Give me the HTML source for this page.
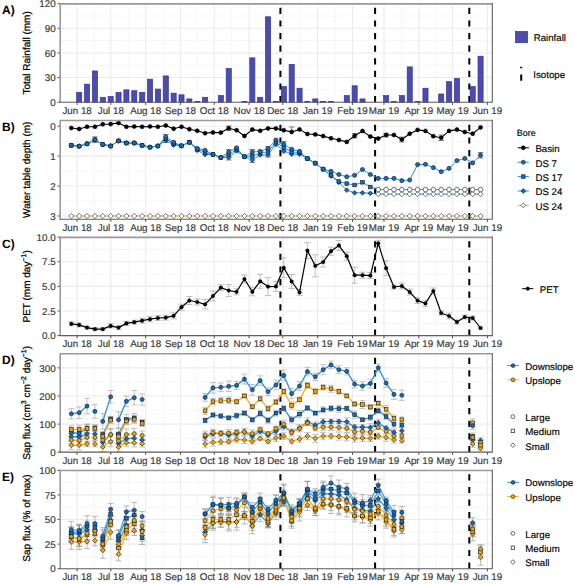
<!DOCTYPE html>
<html><head><meta charset="utf-8"><title>chart</title>
<style>html,body{margin:0;padding:0;background:#fff;overflow:hidden;} svg{display:block;} .lg{stroke:#000;stroke-width:0.15px;}</style>
</head><body>
<svg width="575" height="584" viewBox="0 0 575 584" text-rendering="geometricPrecision" font-family='"Liberation Sans", sans-serif'>
<rect width="575" height="584" fill="#fff"/>
<line x1="93.96" y1="3.65" x2="93.96" y2="102.2" stroke="#f3f3f3" stroke-width="0.8"/>
<line x1="128.25" y1="3.65" x2="128.25" y2="102.2" stroke="#f3f3f3" stroke-width="0.8"/>
<line x1="163.09" y1="3.65" x2="163.09" y2="102.2" stroke="#f3f3f3" stroke-width="0.8"/>
<line x1="197.38" y1="3.65" x2="197.38" y2="102.2" stroke="#f3f3f3" stroke-width="0.8"/>
<line x1="231.66" y1="3.65" x2="231.66" y2="102.2" stroke="#f3f3f3" stroke-width="0.8"/>
<line x1="265.95" y1="3.65" x2="265.95" y2="102.2" stroke="#f3f3f3" stroke-width="0.8"/>
<line x1="300.23" y1="3.65" x2="300.23" y2="102.2" stroke="#f3f3f3" stroke-width="0.8"/>
<line x1="335.08" y1="3.65" x2="335.08" y2="102.2" stroke="#f3f3f3" stroke-width="0.8"/>
<line x1="368.24" y1="3.65" x2="368.24" y2="102.2" stroke="#f3f3f3" stroke-width="0.8"/>
<line x1="401.4" y1="3.65" x2="401.4" y2="102.2" stroke="#f3f3f3" stroke-width="0.8"/>
<line x1="435.69" y1="3.65" x2="435.69" y2="102.2" stroke="#f3f3f3" stroke-width="0.8"/>
<line x1="469.97" y1="3.65" x2="469.97" y2="102.2" stroke="#f3f3f3" stroke-width="0.8"/>
<line x1="60.3" y1="89.88" x2="492.3" y2="89.88" stroke="#f3f3f3" stroke-width="0.8"/>
<line x1="60.3" y1="65.24" x2="492.3" y2="65.24" stroke="#f3f3f3" stroke-width="0.8"/>
<line x1="60.3" y1="40.61" x2="492.3" y2="40.61" stroke="#f3f3f3" stroke-width="0.8"/>
<line x1="60.3" y1="15.97" x2="492.3" y2="15.97" stroke="#f3f3f3" stroke-width="0.8"/>
<line x1="77.1" y1="3.65" x2="77.1" y2="102.2" stroke="#ebebeb" stroke-width="1.1"/>
<line x1="110.82" y1="3.65" x2="110.82" y2="102.2" stroke="#ebebeb" stroke-width="1.1"/>
<line x1="145.67" y1="3.65" x2="145.67" y2="102.2" stroke="#ebebeb" stroke-width="1.1"/>
<line x1="180.52" y1="3.65" x2="180.52" y2="102.2" stroke="#ebebeb" stroke-width="1.1"/>
<line x1="214.24" y1="3.65" x2="214.24" y2="102.2" stroke="#ebebeb" stroke-width="1.1"/>
<line x1="249.09" y1="3.65" x2="249.09" y2="102.2" stroke="#ebebeb" stroke-width="1.1"/>
<line x1="282.81" y1="3.65" x2="282.81" y2="102.2" stroke="#ebebeb" stroke-width="1.1"/>
<line x1="317.66" y1="3.65" x2="317.66" y2="102.2" stroke="#ebebeb" stroke-width="1.1"/>
<line x1="352.5" y1="3.65" x2="352.5" y2="102.2" stroke="#ebebeb" stroke-width="1.1"/>
<line x1="383.98" y1="3.65" x2="383.98" y2="102.2" stroke="#ebebeb" stroke-width="1.1"/>
<line x1="418.83" y1="3.65" x2="418.83" y2="102.2" stroke="#ebebeb" stroke-width="1.1"/>
<line x1="452.55" y1="3.65" x2="452.55" y2="102.2" stroke="#ebebeb" stroke-width="1.1"/>
<line x1="487.4" y1="3.65" x2="487.4" y2="102.2" stroke="#ebebeb" stroke-width="1.1"/>
<line x1="60.3" y1="102.2" x2="492.3" y2="102.2" stroke="#ebebeb" stroke-width="1.1"/>
<line x1="60.3" y1="77.56" x2="492.3" y2="77.56" stroke="#ebebeb" stroke-width="1.1"/>
<line x1="60.3" y1="52.93" x2="492.3" y2="52.93" stroke="#ebebeb" stroke-width="1.1"/>
<line x1="60.3" y1="28.29" x2="492.3" y2="28.29" stroke="#ebebeb" stroke-width="1.1"/>
<line x1="60.3" y1="3.65" x2="492.3" y2="3.65" stroke="#ebebeb" stroke-width="1.1"/>
<line x1="77.1" y1="102.2" x2="77.1" y2="104.9" stroke="#4a4a4a" stroke-width="1"/>
<text x="77.1" y="113.8" text-anchor="middle" fill="#3a3a3a" stroke="#3a3a3a" stroke-width="0.18" font-size="9.8">Jun 18</text>
<line x1="110.82" y1="102.2" x2="110.82" y2="104.9" stroke="#4a4a4a" stroke-width="1"/>
<text x="110.82" y="113.8" text-anchor="middle" fill="#3a3a3a" stroke="#3a3a3a" stroke-width="0.18" font-size="9.8">Jul 18</text>
<line x1="145.67" y1="102.2" x2="145.67" y2="104.9" stroke="#4a4a4a" stroke-width="1"/>
<text x="145.67" y="113.8" text-anchor="middle" fill="#3a3a3a" stroke="#3a3a3a" stroke-width="0.18" font-size="9.8">Aug 18</text>
<line x1="180.52" y1="102.2" x2="180.52" y2="104.9" stroke="#4a4a4a" stroke-width="1"/>
<text x="180.52" y="113.8" text-anchor="middle" fill="#3a3a3a" stroke="#3a3a3a" stroke-width="0.18" font-size="9.8">Sep 18</text>
<line x1="214.24" y1="102.2" x2="214.24" y2="104.9" stroke="#4a4a4a" stroke-width="1"/>
<text x="214.24" y="113.8" text-anchor="middle" fill="#3a3a3a" stroke="#3a3a3a" stroke-width="0.18" font-size="9.8">Oct 18</text>
<line x1="249.09" y1="102.2" x2="249.09" y2="104.9" stroke="#4a4a4a" stroke-width="1"/>
<text x="249.09" y="113.8" text-anchor="middle" fill="#3a3a3a" stroke="#3a3a3a" stroke-width="0.18" font-size="9.8">Nov 18</text>
<line x1="282.81" y1="102.2" x2="282.81" y2="104.9" stroke="#4a4a4a" stroke-width="1"/>
<text x="282.81" y="113.8" text-anchor="middle" fill="#3a3a3a" stroke="#3a3a3a" stroke-width="0.18" font-size="9.8">Dec 18</text>
<line x1="317.66" y1="102.2" x2="317.66" y2="104.9" stroke="#4a4a4a" stroke-width="1"/>
<text x="317.66" y="113.8" text-anchor="middle" fill="#3a3a3a" stroke="#3a3a3a" stroke-width="0.18" font-size="9.8">Jan 19</text>
<line x1="352.5" y1="102.2" x2="352.5" y2="104.9" stroke="#4a4a4a" stroke-width="1"/>
<text x="352.5" y="113.8" text-anchor="middle" fill="#3a3a3a" stroke="#3a3a3a" stroke-width="0.18" font-size="9.8">Feb 19</text>
<line x1="383.98" y1="102.2" x2="383.98" y2="104.9" stroke="#4a4a4a" stroke-width="1"/>
<text x="383.98" y="113.8" text-anchor="middle" fill="#3a3a3a" stroke="#3a3a3a" stroke-width="0.18" font-size="9.8">Mar 19</text>
<line x1="418.83" y1="102.2" x2="418.83" y2="104.9" stroke="#4a4a4a" stroke-width="1"/>
<text x="418.83" y="113.8" text-anchor="middle" fill="#3a3a3a" stroke="#3a3a3a" stroke-width="0.18" font-size="9.8">Apr 19</text>
<line x1="452.55" y1="102.2" x2="452.55" y2="104.9" stroke="#4a4a4a" stroke-width="1"/>
<text x="452.55" y="113.8" text-anchor="middle" fill="#3a3a3a" stroke="#3a3a3a" stroke-width="0.18" font-size="9.8">May 19</text>
<line x1="487.4" y1="102.2" x2="487.4" y2="104.9" stroke="#4a4a4a" stroke-width="1"/>
<text x="487.4" y="113.8" text-anchor="middle" fill="#3a3a3a" stroke="#3a3a3a" stroke-width="0.18" font-size="9.8">Jun 19</text>
<line x1="57.6" y1="102.2" x2="60.3" y2="102.2" stroke="#4a4a4a" stroke-width="1"/>
<text x="55.7" y="105.8" text-anchor="end" fill="#3a3a3a" stroke="#3a3a3a" stroke-width="0.18" font-size="9.8">0</text>
<line x1="57.6" y1="77.56" x2="60.3" y2="77.56" stroke="#4a4a4a" stroke-width="1"/>
<text x="55.7" y="81.16" text-anchor="end" fill="#3a3a3a" stroke="#3a3a3a" stroke-width="0.18" font-size="9.8">30</text>
<line x1="57.6" y1="52.93" x2="60.3" y2="52.93" stroke="#4a4a4a" stroke-width="1"/>
<text x="55.7" y="56.53" text-anchor="end" fill="#3a3a3a" stroke="#3a3a3a" stroke-width="0.18" font-size="9.8">60</text>
<line x1="57.6" y1="28.29" x2="60.3" y2="28.29" stroke="#4a4a4a" stroke-width="1"/>
<text x="55.7" y="31.89" text-anchor="end" fill="#3a3a3a" stroke="#3a3a3a" stroke-width="0.18" font-size="9.8">90</text>
<line x1="57.6" y1="3.65" x2="60.3" y2="3.65" stroke="#4a4a4a" stroke-width="1"/>
<text x="55.7" y="7.25" text-anchor="end" fill="#3a3a3a" stroke="#3a3a3a" stroke-width="0.18" font-size="9.8">120</text>
<text x="2" y="14.15" font-weight="bold" font-size="12" fill="#000">A)</text>
<line x1="280.4" y1="102.2" x2="280.4" y2="3.65" stroke="#000" stroke-width="2" stroke-dasharray="6.2 6.4"/>
<line x1="375.1" y1="102.2" x2="375.1" y2="3.65" stroke="#000" stroke-width="2" stroke-dasharray="6.2 6.4"/>
<line x1="469.3" y1="102.2" x2="469.3" y2="3.65" stroke="#000" stroke-width="2" stroke-dasharray="6.2 6.4"/>
<rect x="76.65" y="92.34" width="5.1" height="9.86" fill="#4c4ca9" stroke="#3333a3" stroke-width="0.7"/>
<rect x="84.52" y="84.13" width="5.1" height="18.07" fill="#4c4ca9" stroke="#3333a3" stroke-width="0.7"/>
<rect x="92.39" y="70.99" width="5.1" height="31.21" fill="#4c4ca9" stroke="#3333a3" stroke-width="0.7"/>
<rect x="100.26" y="97.27" width="5.1" height="4.93" fill="#4c4ca9" stroke="#3333a3" stroke-width="0.7"/>
<rect x="108.13" y="96.45" width="5.1" height="5.75" fill="#4c4ca9" stroke="#3333a3" stroke-width="0.7"/>
<rect x="116" y="92.34" width="5.1" height="9.86" fill="#4c4ca9" stroke="#3333a3" stroke-width="0.7"/>
<rect x="123.87" y="89.88" width="5.1" height="12.32" fill="#4c4ca9" stroke="#3333a3" stroke-width="0.7"/>
<rect x="131.74" y="90.7" width="5.1" height="11.5" fill="#4c4ca9" stroke="#3333a3" stroke-width="0.7"/>
<rect x="139.61" y="92.34" width="5.1" height="9.86" fill="#4c4ca9" stroke="#3333a3" stroke-width="0.7"/>
<rect x="147.48" y="79.2" width="5.1" height="23" fill="#4c4ca9" stroke="#3333a3" stroke-width="0.7"/>
<rect x="155.35" y="89.06" width="5.1" height="13.14" fill="#4c4ca9" stroke="#3333a3" stroke-width="0.7"/>
<rect x="163.22" y="75.92" width="5.1" height="26.28" fill="#4c4ca9" stroke="#3333a3" stroke-width="0.7"/>
<rect x="171.09" y="93.17" width="5.1" height="9.03" fill="#4c4ca9" stroke="#3333a3" stroke-width="0.7"/>
<rect x="178.96" y="94.81" width="5.1" height="7.39" fill="#4c4ca9" stroke="#3333a3" stroke-width="0.7"/>
<rect x="186.83" y="98.92" width="5.1" height="3.28" fill="#4c4ca9" stroke="#3333a3" stroke-width="0.7"/>
<rect x="194.7" y="101.38" width="5.1" height="0.82" fill="#4c4ca9" stroke="#3333a3" stroke-width="0.7"/>
<rect x="202.57" y="97.27" width="5.1" height="4.93" fill="#4c4ca9" stroke="#3333a3" stroke-width="0.7"/>
<rect x="218.31" y="95.63" width="5.1" height="6.57" fill="#4c4ca9" stroke="#3333a3" stroke-width="0.7"/>
<rect x="226.18" y="68.53" width="5.1" height="33.67" fill="#4c4ca9" stroke="#3333a3" stroke-width="0.7"/>
<rect x="241.92" y="101.38" width="5.1" height="0.82" fill="#4c4ca9" stroke="#3333a3" stroke-width="0.7"/>
<rect x="249.79" y="57.85" width="5.1" height="44.35" fill="#4c4ca9" stroke="#3333a3" stroke-width="0.7"/>
<rect x="257.66" y="97.27" width="5.1" height="4.93" fill="#4c4ca9" stroke="#3333a3" stroke-width="0.7"/>
<rect x="265.53" y="16.79" width="5.1" height="85.41" fill="#4c4ca9" stroke="#3333a3" stroke-width="0.7"/>
<rect x="273.4" y="101.38" width="5.1" height="0.82" fill="#4c4ca9" stroke="#3333a3" stroke-width="0.7"/>
<rect x="281.27" y="86.6" width="5.1" height="15.6" fill="#4c4ca9" stroke="#3333a3" stroke-width="0.7"/>
<rect x="289.14" y="64.42" width="5.1" height="37.78" fill="#4c4ca9" stroke="#3333a3" stroke-width="0.7"/>
<rect x="297.01" y="88.24" width="5.1" height="13.96" fill="#4c4ca9" stroke="#3333a3" stroke-width="0.7"/>
<rect x="304.88" y="101.38" width="5.1" height="0.82" fill="#4c4ca9" stroke="#3333a3" stroke-width="0.7"/>
<rect x="312.75" y="98.92" width="5.1" height="3.28" fill="#4c4ca9" stroke="#3333a3" stroke-width="0.7"/>
<rect x="320.62" y="101.38" width="5.1" height="0.82" fill="#4c4ca9" stroke="#3333a3" stroke-width="0.7"/>
<rect x="328.49" y="101.38" width="5.1" height="0.82" fill="#4c4ca9" stroke="#3333a3" stroke-width="0.7"/>
<rect x="344.23" y="95.63" width="5.1" height="6.57" fill="#4c4ca9" stroke="#3333a3" stroke-width="0.7"/>
<rect x="352.1" y="85.78" width="5.1" height="16.42" fill="#4c4ca9" stroke="#3333a3" stroke-width="0.7"/>
<rect x="359.97" y="98.92" width="5.1" height="3.28" fill="#4c4ca9" stroke="#3333a3" stroke-width="0.7"/>
<rect x="383.58" y="95.63" width="5.1" height="6.57" fill="#4c4ca9" stroke="#3333a3" stroke-width="0.7"/>
<rect x="391.45" y="101.38" width="5.1" height="0.82" fill="#4c4ca9" stroke="#3333a3" stroke-width="0.7"/>
<rect x="399.32" y="95.63" width="5.1" height="6.57" fill="#4c4ca9" stroke="#3333a3" stroke-width="0.7"/>
<rect x="407.19" y="66.89" width="5.1" height="35.31" fill="#4c4ca9" stroke="#3333a3" stroke-width="0.7"/>
<rect x="415.06" y="101.38" width="5.1" height="0.82" fill="#4c4ca9" stroke="#3333a3" stroke-width="0.7"/>
<rect x="422.93" y="88.24" width="5.1" height="13.96" fill="#4c4ca9" stroke="#3333a3" stroke-width="0.7"/>
<rect x="438.67" y="93.99" width="5.1" height="8.21" fill="#4c4ca9" stroke="#3333a3" stroke-width="0.7"/>
<rect x="446.54" y="81.67" width="5.1" height="20.53" fill="#4c4ca9" stroke="#3333a3" stroke-width="0.7"/>
<rect x="454.41" y="78.38" width="5.1" height="23.82" fill="#4c4ca9" stroke="#3333a3" stroke-width="0.7"/>
<rect x="470.15" y="86.6" width="5.1" height="15.6" fill="#4c4ca9" stroke="#3333a3" stroke-width="0.7"/>
<rect x="478.02" y="56.21" width="5.1" height="45.99" fill="#4c4ca9" stroke="#3333a3" stroke-width="0.7"/>
<path d="M60.2 102.2V3.85H492.3" fill="none" stroke="#9a9a9a" stroke-width="1.6"/>
<path d="M59.4 102.2H492.3V3.05" fill="none" stroke="#5f5f5f" stroke-width="1.1"/>
<text transform="translate(29.9,52.92) rotate(-90)" text-anchor="middle" font-size="10.0" fill="#000" stroke="#000" stroke-width="0.25">Total Rainfall (mm)</text>
<rect x="515.6" y="31.5" width="12" height="11.2" fill="#4c4ca9" stroke="#3333a3" stroke-width="0.7"/>
<text x="533.7" y="41.1" font-size="9.7" fill="#000" class="lg">Rainfall</text>
<line x1="521.2" y1="80.8" x2="521.2" y2="66.8" stroke="#000" stroke-width="2" stroke-dasharray="6.2 6.4"/>
<text x="533.3" y="77.7" font-size="9.7" fill="#000" class="lg">Isotope</text>
<line x1="93.96" y1="120.25" x2="93.96" y2="219.2" stroke="#f3f3f3" stroke-width="0.8"/>
<line x1="128.25" y1="120.25" x2="128.25" y2="219.2" stroke="#f3f3f3" stroke-width="0.8"/>
<line x1="163.09" y1="120.25" x2="163.09" y2="219.2" stroke="#f3f3f3" stroke-width="0.8"/>
<line x1="197.38" y1="120.25" x2="197.38" y2="219.2" stroke="#f3f3f3" stroke-width="0.8"/>
<line x1="231.66" y1="120.25" x2="231.66" y2="219.2" stroke="#f3f3f3" stroke-width="0.8"/>
<line x1="265.95" y1="120.25" x2="265.95" y2="219.2" stroke="#f3f3f3" stroke-width="0.8"/>
<line x1="300.23" y1="120.25" x2="300.23" y2="219.2" stroke="#f3f3f3" stroke-width="0.8"/>
<line x1="335.08" y1="120.25" x2="335.08" y2="219.2" stroke="#f3f3f3" stroke-width="0.8"/>
<line x1="368.24" y1="120.25" x2="368.24" y2="219.2" stroke="#f3f3f3" stroke-width="0.8"/>
<line x1="401.4" y1="120.25" x2="401.4" y2="219.2" stroke="#f3f3f3" stroke-width="0.8"/>
<line x1="435.69" y1="120.25" x2="435.69" y2="219.2" stroke="#f3f3f3" stroke-width="0.8"/>
<line x1="469.97" y1="120.25" x2="469.97" y2="219.2" stroke="#f3f3f3" stroke-width="0.8"/>
<line x1="60.3" y1="141.16" x2="492.3" y2="141.16" stroke="#f3f3f3" stroke-width="0.8"/>
<line x1="60.3" y1="171.09" x2="492.3" y2="171.09" stroke="#f3f3f3" stroke-width="0.8"/>
<line x1="60.3" y1="201.03" x2="492.3" y2="201.03" stroke="#f3f3f3" stroke-width="0.8"/>
<line x1="77.1" y1="120.25" x2="77.1" y2="219.2" stroke="#ebebeb" stroke-width="1.1"/>
<line x1="110.82" y1="120.25" x2="110.82" y2="219.2" stroke="#ebebeb" stroke-width="1.1"/>
<line x1="145.67" y1="120.25" x2="145.67" y2="219.2" stroke="#ebebeb" stroke-width="1.1"/>
<line x1="180.52" y1="120.25" x2="180.52" y2="219.2" stroke="#ebebeb" stroke-width="1.1"/>
<line x1="214.24" y1="120.25" x2="214.24" y2="219.2" stroke="#ebebeb" stroke-width="1.1"/>
<line x1="249.09" y1="120.25" x2="249.09" y2="219.2" stroke="#ebebeb" stroke-width="1.1"/>
<line x1="282.81" y1="120.25" x2="282.81" y2="219.2" stroke="#ebebeb" stroke-width="1.1"/>
<line x1="317.66" y1="120.25" x2="317.66" y2="219.2" stroke="#ebebeb" stroke-width="1.1"/>
<line x1="352.5" y1="120.25" x2="352.5" y2="219.2" stroke="#ebebeb" stroke-width="1.1"/>
<line x1="383.98" y1="120.25" x2="383.98" y2="219.2" stroke="#ebebeb" stroke-width="1.1"/>
<line x1="418.83" y1="120.25" x2="418.83" y2="219.2" stroke="#ebebeb" stroke-width="1.1"/>
<line x1="452.55" y1="120.25" x2="452.55" y2="219.2" stroke="#ebebeb" stroke-width="1.1"/>
<line x1="487.4" y1="120.25" x2="487.4" y2="219.2" stroke="#ebebeb" stroke-width="1.1"/>
<line x1="60.3" y1="126.2" x2="492.3" y2="126.2" stroke="#ebebeb" stroke-width="1.1"/>
<line x1="60.3" y1="156.13" x2="492.3" y2="156.13" stroke="#ebebeb" stroke-width="1.1"/>
<line x1="60.3" y1="186.06" x2="492.3" y2="186.06" stroke="#ebebeb" stroke-width="1.1"/>
<line x1="60.3" y1="215.99" x2="492.3" y2="215.99" stroke="#ebebeb" stroke-width="1.1"/>
<line x1="77.1" y1="219.2" x2="77.1" y2="221.9" stroke="#4a4a4a" stroke-width="1"/>
<text x="77.1" y="230.8" text-anchor="middle" fill="#3a3a3a" stroke="#3a3a3a" stroke-width="0.18" font-size="9.8">Jun 18</text>
<line x1="110.82" y1="219.2" x2="110.82" y2="221.9" stroke="#4a4a4a" stroke-width="1"/>
<text x="110.82" y="230.8" text-anchor="middle" fill="#3a3a3a" stroke="#3a3a3a" stroke-width="0.18" font-size="9.8">Jul 18</text>
<line x1="145.67" y1="219.2" x2="145.67" y2="221.9" stroke="#4a4a4a" stroke-width="1"/>
<text x="145.67" y="230.8" text-anchor="middle" fill="#3a3a3a" stroke="#3a3a3a" stroke-width="0.18" font-size="9.8">Aug 18</text>
<line x1="180.52" y1="219.2" x2="180.52" y2="221.9" stroke="#4a4a4a" stroke-width="1"/>
<text x="180.52" y="230.8" text-anchor="middle" fill="#3a3a3a" stroke="#3a3a3a" stroke-width="0.18" font-size="9.8">Sep 18</text>
<line x1="214.24" y1="219.2" x2="214.24" y2="221.9" stroke="#4a4a4a" stroke-width="1"/>
<text x="214.24" y="230.8" text-anchor="middle" fill="#3a3a3a" stroke="#3a3a3a" stroke-width="0.18" font-size="9.8">Oct 18</text>
<line x1="249.09" y1="219.2" x2="249.09" y2="221.9" stroke="#4a4a4a" stroke-width="1"/>
<text x="249.09" y="230.8" text-anchor="middle" fill="#3a3a3a" stroke="#3a3a3a" stroke-width="0.18" font-size="9.8">Nov 18</text>
<line x1="282.81" y1="219.2" x2="282.81" y2="221.9" stroke="#4a4a4a" stroke-width="1"/>
<text x="282.81" y="230.8" text-anchor="middle" fill="#3a3a3a" stroke="#3a3a3a" stroke-width="0.18" font-size="9.8">Dec 18</text>
<line x1="317.66" y1="219.2" x2="317.66" y2="221.9" stroke="#4a4a4a" stroke-width="1"/>
<text x="317.66" y="230.8" text-anchor="middle" fill="#3a3a3a" stroke="#3a3a3a" stroke-width="0.18" font-size="9.8">Jan 19</text>
<line x1="352.5" y1="219.2" x2="352.5" y2="221.9" stroke="#4a4a4a" stroke-width="1"/>
<text x="352.5" y="230.8" text-anchor="middle" fill="#3a3a3a" stroke="#3a3a3a" stroke-width="0.18" font-size="9.8">Feb 19</text>
<line x1="383.98" y1="219.2" x2="383.98" y2="221.9" stroke="#4a4a4a" stroke-width="1"/>
<text x="383.98" y="230.8" text-anchor="middle" fill="#3a3a3a" stroke="#3a3a3a" stroke-width="0.18" font-size="9.8">Mar 19</text>
<line x1="418.83" y1="219.2" x2="418.83" y2="221.9" stroke="#4a4a4a" stroke-width="1"/>
<text x="418.83" y="230.8" text-anchor="middle" fill="#3a3a3a" stroke="#3a3a3a" stroke-width="0.18" font-size="9.8">Apr 19</text>
<line x1="452.55" y1="219.2" x2="452.55" y2="221.9" stroke="#4a4a4a" stroke-width="1"/>
<text x="452.55" y="230.8" text-anchor="middle" fill="#3a3a3a" stroke="#3a3a3a" stroke-width="0.18" font-size="9.8">May 19</text>
<line x1="487.4" y1="219.2" x2="487.4" y2="221.9" stroke="#4a4a4a" stroke-width="1"/>
<text x="487.4" y="230.8" text-anchor="middle" fill="#3a3a3a" stroke="#3a3a3a" stroke-width="0.18" font-size="9.8">Jun 19</text>
<line x1="57.6" y1="126.2" x2="60.3" y2="126.2" stroke="#4a4a4a" stroke-width="1"/>
<text x="55.7" y="129.8" text-anchor="end" fill="#3a3a3a" stroke="#3a3a3a" stroke-width="0.18" font-size="9.8">0</text>
<line x1="57.6" y1="156.13" x2="60.3" y2="156.13" stroke="#4a4a4a" stroke-width="1"/>
<text x="55.7" y="159.73" text-anchor="end" fill="#3a3a3a" stroke="#3a3a3a" stroke-width="0.18" font-size="9.8">1</text>
<line x1="57.6" y1="186.06" x2="60.3" y2="186.06" stroke="#4a4a4a" stroke-width="1"/>
<text x="55.7" y="189.66" text-anchor="end" fill="#3a3a3a" stroke="#3a3a3a" stroke-width="0.18" font-size="9.8">2</text>
<line x1="57.6" y1="215.99" x2="60.3" y2="215.99" stroke="#4a4a4a" stroke-width="1"/>
<text x="55.7" y="219.59" text-anchor="end" fill="#3a3a3a" stroke="#3a3a3a" stroke-width="0.18" font-size="9.8">3</text>
<text x="2" y="130.75" font-weight="bold" font-size="12" fill="#000">B)</text>
<line x1="280.4" y1="219.2" x2="280.4" y2="120.25" stroke="#000" stroke-width="2" stroke-dasharray="6.2 6.4"/>
<line x1="375.1" y1="219.2" x2="375.1" y2="120.25" stroke="#000" stroke-width="2" stroke-dasharray="6.2 6.4"/>
<line x1="469.3" y1="219.2" x2="469.3" y2="120.25" stroke="#000" stroke-width="2" stroke-dasharray="6.2 6.4"/>
<polyline points="71.3,215.99 79.17,215.99 87.04,215.99 94.91,215.99 102.78,215.99 110.65,215.99 118.52,215.99 126.39,215.99 134.26,215.99 142.13,215.99 150,215.99 157.87,215.99 165.74,215.99 173.61,215.99 181.48,215.99 189.35,215.99 197.22,215.99 205.09,215.99 212.96,215.99 220.83,215.99 228.7,215.99 236.57,215.99 244.44,215.99 252.31,215.99 260.18,215.99 268.05,215.99 275.92,215.99 283.79,215.99 291.66,215.99 299.53,215.99 307.4,215.99 315.27,215.99 323.14,215.99 331.01,215.99 338.88,215.99 346.75,215.99 354.62,215.99 362.49,215.99 370.36,215.99 378.23,215.99 386.1,215.99 393.97,215.99 401.84,215.99 409.71,215.99 417.58,215.99 425.45,215.99 433.32,215.99 441.19,215.99 449.06,215.99 456.93,215.99 464.8,215.99 472.67,215.99 480.54,215.99" fill="none" stroke="#f1b12a" stroke-width="1.0" stroke-linejoin="round"/>
<path d="M71.3 213.35L73.94 215.99L71.3 218.63L68.66 215.99Z" fill="#fff" stroke="#1a1a1a" stroke-width="0.6"/>
<path d="M79.17 213.35L81.81 215.99L79.17 218.63L76.53 215.99Z" fill="#fff" stroke="#1a1a1a" stroke-width="0.6"/>
<path d="M87.04 213.35L89.68 215.99L87.04 218.63L84.4 215.99Z" fill="#fff" stroke="#1a1a1a" stroke-width="0.6"/>
<path d="M94.91 213.35L97.55 215.99L94.91 218.63L92.27 215.99Z" fill="#fff" stroke="#1a1a1a" stroke-width="0.6"/>
<path d="M102.78 213.35L105.42 215.99L102.78 218.63L100.14 215.99Z" fill="#fff" stroke="#1a1a1a" stroke-width="0.6"/>
<path d="M110.65 213.35L113.29 215.99L110.65 218.63L108.01 215.99Z" fill="#fff" stroke="#1a1a1a" stroke-width="0.6"/>
<path d="M118.52 213.35L121.16 215.99L118.52 218.63L115.88 215.99Z" fill="#fff" stroke="#1a1a1a" stroke-width="0.6"/>
<path d="M126.39 213.35L129.03 215.99L126.39 218.63L123.75 215.99Z" fill="#fff" stroke="#1a1a1a" stroke-width="0.6"/>
<path d="M134.26 213.35L136.9 215.99L134.26 218.63L131.62 215.99Z" fill="#fff" stroke="#1a1a1a" stroke-width="0.6"/>
<path d="M142.13 213.35L144.77 215.99L142.13 218.63L139.49 215.99Z" fill="#fff" stroke="#1a1a1a" stroke-width="0.6"/>
<path d="M150 213.35L152.64 215.99L150 218.63L147.36 215.99Z" fill="#fff" stroke="#1a1a1a" stroke-width="0.6"/>
<path d="M157.87 213.35L160.51 215.99L157.87 218.63L155.23 215.99Z" fill="#fff" stroke="#1a1a1a" stroke-width="0.6"/>
<path d="M165.74 213.35L168.38 215.99L165.74 218.63L163.1 215.99Z" fill="#fff" stroke="#1a1a1a" stroke-width="0.6"/>
<path d="M173.61 213.35L176.25 215.99L173.61 218.63L170.97 215.99Z" fill="#fff" stroke="#1a1a1a" stroke-width="0.6"/>
<path d="M181.48 213.35L184.12 215.99L181.48 218.63L178.84 215.99Z" fill="#fff" stroke="#1a1a1a" stroke-width="0.6"/>
<path d="M189.35 213.35L191.99 215.99L189.35 218.63L186.71 215.99Z" fill="#fff" stroke="#1a1a1a" stroke-width="0.6"/>
<path d="M197.22 213.35L199.86 215.99L197.22 218.63L194.58 215.99Z" fill="#fff" stroke="#1a1a1a" stroke-width="0.6"/>
<path d="M205.09 213.35L207.73 215.99L205.09 218.63L202.45 215.99Z" fill="#fff" stroke="#1a1a1a" stroke-width="0.6"/>
<path d="M212.96 213.35L215.6 215.99L212.96 218.63L210.32 215.99Z" fill="#fff" stroke="#1a1a1a" stroke-width="0.6"/>
<path d="M220.83 213.35L223.47 215.99L220.83 218.63L218.19 215.99Z" fill="#fff" stroke="#1a1a1a" stroke-width="0.6"/>
<path d="M228.7 213.35L231.34 215.99L228.7 218.63L226.06 215.99Z" fill="#fff" stroke="#1a1a1a" stroke-width="0.6"/>
<path d="M236.57 213.35L239.21 215.99L236.57 218.63L233.93 215.99Z" fill="#fff" stroke="#1a1a1a" stroke-width="0.6"/>
<path d="M244.44 213.35L247.08 215.99L244.44 218.63L241.8 215.99Z" fill="#fff" stroke="#1a1a1a" stroke-width="0.6"/>
<path d="M252.31 213.35L254.95 215.99L252.31 218.63L249.67 215.99Z" fill="#fff" stroke="#1a1a1a" stroke-width="0.6"/>
<path d="M260.18 213.35L262.82 215.99L260.18 218.63L257.54 215.99Z" fill="#fff" stroke="#1a1a1a" stroke-width="0.6"/>
<path d="M268.05 213.35L270.69 215.99L268.05 218.63L265.41 215.99Z" fill="#fff" stroke="#1a1a1a" stroke-width="0.6"/>
<path d="M275.92 213.35L278.56 215.99L275.92 218.63L273.28 215.99Z" fill="#fff" stroke="#1a1a1a" stroke-width="0.6"/>
<path d="M283.79 213.35L286.43 215.99L283.79 218.63L281.15 215.99Z" fill="#fff" stroke="#1a1a1a" stroke-width="0.6"/>
<path d="M291.66 213.35L294.3 215.99L291.66 218.63L289.02 215.99Z" fill="#fff" stroke="#1a1a1a" stroke-width="0.6"/>
<path d="M299.53 213.35L302.17 215.99L299.53 218.63L296.89 215.99Z" fill="#fff" stroke="#1a1a1a" stroke-width="0.6"/>
<path d="M307.4 213.35L310.04 215.99L307.4 218.63L304.76 215.99Z" fill="#fff" stroke="#1a1a1a" stroke-width="0.6"/>
<path d="M315.27 213.35L317.91 215.99L315.27 218.63L312.63 215.99Z" fill="#fff" stroke="#1a1a1a" stroke-width="0.6"/>
<path d="M323.14 213.35L325.78 215.99L323.14 218.63L320.5 215.99Z" fill="#fff" stroke="#1a1a1a" stroke-width="0.6"/>
<path d="M331.01 213.35L333.65 215.99L331.01 218.63L328.37 215.99Z" fill="#fff" stroke="#1a1a1a" stroke-width="0.6"/>
<path d="M338.88 213.35L341.52 215.99L338.88 218.63L336.24 215.99Z" fill="#fff" stroke="#1a1a1a" stroke-width="0.6"/>
<path d="M346.75 213.35L349.39 215.99L346.75 218.63L344.11 215.99Z" fill="#fff" stroke="#1a1a1a" stroke-width="0.6"/>
<path d="M354.62 213.35L357.26 215.99L354.62 218.63L351.98 215.99Z" fill="#fff" stroke="#1a1a1a" stroke-width="0.6"/>
<path d="M362.49 213.35L365.13 215.99L362.49 218.63L359.85 215.99Z" fill="#fff" stroke="#1a1a1a" stroke-width="0.6"/>
<path d="M370.36 213.35L373 215.99L370.36 218.63L367.72 215.99Z" fill="#fff" stroke="#1a1a1a" stroke-width="0.6"/>
<path d="M378.23 213.35L380.87 215.99L378.23 218.63L375.59 215.99Z" fill="#fff" stroke="#1a1a1a" stroke-width="0.6"/>
<path d="M386.1 213.35L388.74 215.99L386.1 218.63L383.46 215.99Z" fill="#fff" stroke="#1a1a1a" stroke-width="0.6"/>
<path d="M393.97 213.35L396.61 215.99L393.97 218.63L391.33 215.99Z" fill="#fff" stroke="#1a1a1a" stroke-width="0.6"/>
<path d="M401.84 213.35L404.48 215.99L401.84 218.63L399.2 215.99Z" fill="#fff" stroke="#1a1a1a" stroke-width="0.6"/>
<path d="M409.71 213.35L412.35 215.99L409.71 218.63L407.07 215.99Z" fill="#fff" stroke="#1a1a1a" stroke-width="0.6"/>
<path d="M417.58 213.35L420.22 215.99L417.58 218.63L414.94 215.99Z" fill="#fff" stroke="#1a1a1a" stroke-width="0.6"/>
<path d="M425.45 213.35L428.09 215.99L425.45 218.63L422.81 215.99Z" fill="#fff" stroke="#1a1a1a" stroke-width="0.6"/>
<path d="M433.32 213.35L435.96 215.99L433.32 218.63L430.68 215.99Z" fill="#fff" stroke="#1a1a1a" stroke-width="0.6"/>
<path d="M441.19 213.35L443.83 215.99L441.19 218.63L438.55 215.99Z" fill="#fff" stroke="#1a1a1a" stroke-width="0.6"/>
<path d="M449.06 213.35L451.7 215.99L449.06 218.63L446.42 215.99Z" fill="#fff" stroke="#1a1a1a" stroke-width="0.6"/>
<path d="M456.93 213.35L459.57 215.99L456.93 218.63L454.29 215.99Z" fill="#fff" stroke="#1a1a1a" stroke-width="0.6"/>
<path d="M464.8 213.35L467.44 215.99L464.8 218.63L462.16 215.99Z" fill="#fff" stroke="#1a1a1a" stroke-width="0.6"/>
<path d="M472.67 213.35L475.31 215.99L472.67 218.63L470.03 215.99Z" fill="#fff" stroke="#1a1a1a" stroke-width="0.6"/>
<path d="M480.54 213.35L483.18 215.99L480.54 218.63L477.9 215.99Z" fill="#fff" stroke="#1a1a1a" stroke-width="0.6"/>
<polyline points="71.3,145.4 79.17,146.2 87.04,143.8 94.91,139.7 102.78,144.5 110.65,146 118.52,140.9 126.39,143 134.26,143 142.13,145.4 150,147.2 157.87,146 165.74,140.5 173.61,145 181.48,145.8 189.35,142.3 197.22,150.3 205.09,154.5 212.96,154.5 220.83,157.6 228.7,157.6 236.57,150.9 244.44,156.7 252.31,160 260.18,154.9 268.05,154.9 275.92,144.4 283.79,150.7 291.66,154.2 299.53,154.2 307.4,158.6 315.27,163.2 323.14,169.2 331.01,176 338.88,182.3 346.75,190.1 354.62,192.8 362.49,192.8 370.36,193.3 378.23,194.1 386.1,194.1 393.97,194.1 401.84,194.1 409.71,194.1 417.58,194.1 425.45,194.1 433.32,194.1 441.19,194.1 449.06,194.1 456.93,194.1 464.8,194.1 472.67,194.1 480.54,194.1" fill="none" stroke="#2a97e0" stroke-width="1.0" stroke-linejoin="round"/>
<polyline points="71.3,145.4 79.17,146.2 87.04,143.8 94.91,139.7 102.78,144.5 110.65,146 118.52,140.9 126.39,143 134.26,143 142.13,145.4 150,147.2 157.87,146 165.74,138.7 173.61,143.65 181.48,145.8 189.35,142.3 197.22,149.35 205.09,152.4 212.96,154.5 220.83,157.6 228.7,154.85 236.57,149.35 244.44,156.7 252.31,156.05 260.18,153.15 268.05,151.75 275.92,142.2 283.79,147.45 291.66,151.75 299.53,152.8 307.4,158.6 315.27,163.2 323.14,169.2 331.01,175.3 338.88,181.5 346.75,183.6 354.62,185 362.49,182.3 370.36,187 378.23,189.6 386.1,189.6 393.97,189.6 401.84,189.6 409.71,189.6 417.58,189.6 425.45,189.6 433.32,189.6 441.19,189.6 449.06,189.6 456.93,189.6 464.8,189.6 472.67,189.6 480.54,189.6" fill="none" stroke="#2a97e0" stroke-width="1.0" stroke-linejoin="round"/>
<polyline points="71.3,145.4 79.17,146.2 87.04,143.8 94.91,139.7 102.78,144.5 110.65,146 118.52,140.9 126.39,143 134.26,143 142.13,145.4 150,147.2 157.87,146 165.74,136.9 173.61,142.3 181.48,145.8 189.35,142.3 197.22,148.4 205.09,150.3 212.96,154.5 220.83,157.6 228.7,152.1 236.57,147.8 244.44,156.7 252.31,152.1 260.18,151.4 268.05,148.6 275.92,140 283.79,144.2 291.66,149.3 299.53,151.4 307.4,158.6 315.27,163.2 323.14,169.2 331.01,171.3 338.88,174.5 346.75,176.8 354.62,175.3 362.49,169.5 370.36,174.5 378.23,178.4 386.1,178.4 393.97,178.4 401.84,180.7 409.71,180 417.58,164.6 425.45,164.3 433.32,167.6 441.19,171.7 449.06,168.4 456.93,160.6 464.8,158.5 472.67,162.9 480.54,155.2" fill="none" stroke="#2a97e0" stroke-width="1.0" stroke-linejoin="round"/>
<path d="M92.11 136.9H97.71M94.91 136.9V142.5M92.11 142.5H97.71" stroke="#555" stroke-width="0.7" fill="none"/>
<path d="M162.94 134.5H168.54M165.74 134.5V142.5M162.94 142.5H168.54" stroke="#555" stroke-width="0.7" fill="none"/>
<path d="M225.9 149.5H231.5M228.7 149.5V160M225.9 160H231.5" stroke="#555" stroke-width="0.7" fill="none"/>
<path d="M249.51 149.5H255.11M252.31 149.5V162.5M249.51 162.5H255.11" stroke="#555" stroke-width="0.7" fill="none"/>
<path d="M265.25 146.5H270.85M268.05 146.5V157M265.25 157H270.85" stroke="#555" stroke-width="0.7" fill="none"/>
<path d="M280.99 141.5H286.59M283.79 141.5V153M280.99 153H286.59" stroke="#555" stroke-width="0.7" fill="none"/>
<path d="M477.74 152.5H483.34M480.54 152.5V158M477.74 158H483.34" stroke="#555" stroke-width="0.7" fill="none"/>
<path d="M288.86 127H294.46M291.66 127V131.5M288.86 131.5H294.46" stroke="#555" stroke-width="0.7" fill="none"/>
<path d="M225.9 126H231.5M228.7 126V130.6M225.9 130.6H231.5" stroke="#555" stroke-width="0.7" fill="none"/>
<path d="M351.82 133.5H357.42M354.62 133.5V138M351.82 138H357.42" stroke="#555" stroke-width="0.7" fill="none"/>
<path d="M383.3 133.2H388.9M386.1 133.2V137M383.3 137H388.9" stroke="#555" stroke-width="0.7" fill="none"/>
<path d="M399.04 137H404.64M401.84 137V142M399.04 142H404.64" stroke="#555" stroke-width="0.7" fill="none"/>
<path d="M438.39 135H443.99M441.19 135V140.5M438.39 140.5H443.99" stroke="#555" stroke-width="0.7" fill="none"/>
<path d="M71.3 143L73.7 145.4L71.3 147.8L68.9 145.4Z" fill="#136cc0" stroke="#1a1a1a" stroke-width="0.6"/>
<rect x="69.5" y="143.6" width="3.6" height="3.6" fill="#136cc0" stroke="#1a1a1a" stroke-width="0.6"/>
<path d="M79.17 143.8L81.57 146.2L79.17 148.6L76.77 146.2Z" fill="#136cc0" stroke="#1a1a1a" stroke-width="0.6"/>
<rect x="77.37" y="144.4" width="3.6" height="3.6" fill="#136cc0" stroke="#1a1a1a" stroke-width="0.6"/>
<path d="M87.04 141.4L89.44 143.8L87.04 146.2L84.64 143.8Z" fill="#136cc0" stroke="#1a1a1a" stroke-width="0.6"/>
<rect x="85.24" y="142" width="3.6" height="3.6" fill="#136cc0" stroke="#1a1a1a" stroke-width="0.6"/>
<path d="M94.91 137.3L97.31 139.7L94.91 142.1L92.51 139.7Z" fill="#136cc0" stroke="#1a1a1a" stroke-width="0.6"/>
<rect x="93.11" y="137.9" width="3.6" height="3.6" fill="#136cc0" stroke="#1a1a1a" stroke-width="0.6"/>
<path d="M102.78 142.1L105.18 144.5L102.78 146.9L100.38 144.5Z" fill="#136cc0" stroke="#1a1a1a" stroke-width="0.6"/>
<rect x="100.98" y="142.7" width="3.6" height="3.6" fill="#136cc0" stroke="#1a1a1a" stroke-width="0.6"/>
<path d="M110.65 143.6L113.05 146L110.65 148.4L108.25 146Z" fill="#136cc0" stroke="#1a1a1a" stroke-width="0.6"/>
<rect x="108.85" y="144.2" width="3.6" height="3.6" fill="#136cc0" stroke="#1a1a1a" stroke-width="0.6"/>
<path d="M118.52 138.5L120.92 140.9L118.52 143.3L116.12 140.9Z" fill="#136cc0" stroke="#1a1a1a" stroke-width="0.6"/>
<rect x="116.72" y="139.1" width="3.6" height="3.6" fill="#136cc0" stroke="#1a1a1a" stroke-width="0.6"/>
<path d="M126.39 140.6L128.79 143L126.39 145.4L123.99 143Z" fill="#136cc0" stroke="#1a1a1a" stroke-width="0.6"/>
<rect x="124.59" y="141.2" width="3.6" height="3.6" fill="#136cc0" stroke="#1a1a1a" stroke-width="0.6"/>
<path d="M134.26 140.6L136.66 143L134.26 145.4L131.86 143Z" fill="#136cc0" stroke="#1a1a1a" stroke-width="0.6"/>
<rect x="132.46" y="141.2" width="3.6" height="3.6" fill="#136cc0" stroke="#1a1a1a" stroke-width="0.6"/>
<path d="M142.13 143L144.53 145.4L142.13 147.8L139.73 145.4Z" fill="#136cc0" stroke="#1a1a1a" stroke-width="0.6"/>
<rect x="140.33" y="143.6" width="3.6" height="3.6" fill="#136cc0" stroke="#1a1a1a" stroke-width="0.6"/>
<path d="M150 144.8L152.4 147.2L150 149.6L147.6 147.2Z" fill="#136cc0" stroke="#1a1a1a" stroke-width="0.6"/>
<rect x="148.2" y="145.4" width="3.6" height="3.6" fill="#136cc0" stroke="#1a1a1a" stroke-width="0.6"/>
<path d="M157.87 143.6L160.27 146L157.87 148.4L155.47 146Z" fill="#136cc0" stroke="#1a1a1a" stroke-width="0.6"/>
<rect x="156.07" y="144.2" width="3.6" height="3.6" fill="#136cc0" stroke="#1a1a1a" stroke-width="0.6"/>
<path d="M165.74 138.1L168.14 140.5L165.74 142.9L163.34 140.5Z" fill="#136cc0" stroke="#1a1a1a" stroke-width="0.6"/>
<rect x="163.94" y="136.9" width="3.6" height="3.6" fill="#136cc0" stroke="#1a1a1a" stroke-width="0.6"/>
<path d="M173.61 142.6L176.01 145L173.61 147.4L171.21 145Z" fill="#136cc0" stroke="#1a1a1a" stroke-width="0.6"/>
<rect x="171.81" y="141.85" width="3.6" height="3.6" fill="#136cc0" stroke="#1a1a1a" stroke-width="0.6"/>
<path d="M181.48 143.4L183.88 145.8L181.48 148.2L179.08 145.8Z" fill="#136cc0" stroke="#1a1a1a" stroke-width="0.6"/>
<rect x="179.68" y="144" width="3.6" height="3.6" fill="#136cc0" stroke="#1a1a1a" stroke-width="0.6"/>
<path d="M189.35 139.9L191.75 142.3L189.35 144.7L186.95 142.3Z" fill="#136cc0" stroke="#1a1a1a" stroke-width="0.6"/>
<rect x="187.55" y="140.5" width="3.6" height="3.6" fill="#136cc0" stroke="#1a1a1a" stroke-width="0.6"/>
<path d="M197.22 147.9L199.62 150.3L197.22 152.7L194.82 150.3Z" fill="#136cc0" stroke="#1a1a1a" stroke-width="0.6"/>
<rect x="195.42" y="147.55" width="3.6" height="3.6" fill="#136cc0" stroke="#1a1a1a" stroke-width="0.6"/>
<path d="M205.09 152.1L207.49 154.5L205.09 156.9L202.69 154.5Z" fill="#136cc0" stroke="#1a1a1a" stroke-width="0.6"/>
<rect x="203.29" y="150.6" width="3.6" height="3.6" fill="#136cc0" stroke="#1a1a1a" stroke-width="0.6"/>
<path d="M212.96 152.1L215.36 154.5L212.96 156.9L210.56 154.5Z" fill="#136cc0" stroke="#1a1a1a" stroke-width="0.6"/>
<rect x="211.16" y="152.7" width="3.6" height="3.6" fill="#136cc0" stroke="#1a1a1a" stroke-width="0.6"/>
<path d="M220.83 155.2L223.23 157.6L220.83 160L218.43 157.6Z" fill="#136cc0" stroke="#1a1a1a" stroke-width="0.6"/>
<rect x="219.03" y="155.8" width="3.6" height="3.6" fill="#136cc0" stroke="#1a1a1a" stroke-width="0.6"/>
<path d="M228.7 155.2L231.1 157.6L228.7 160L226.3 157.6Z" fill="#136cc0" stroke="#1a1a1a" stroke-width="0.6"/>
<rect x="226.9" y="153.05" width="3.6" height="3.6" fill="#136cc0" stroke="#1a1a1a" stroke-width="0.6"/>
<path d="M236.57 148.5L238.97 150.9L236.57 153.3L234.17 150.9Z" fill="#136cc0" stroke="#1a1a1a" stroke-width="0.6"/>
<rect x="234.77" y="147.55" width="3.6" height="3.6" fill="#136cc0" stroke="#1a1a1a" stroke-width="0.6"/>
<path d="M244.44 154.3L246.84 156.7L244.44 159.1L242.04 156.7Z" fill="#136cc0" stroke="#1a1a1a" stroke-width="0.6"/>
<rect x="242.64" y="154.9" width="3.6" height="3.6" fill="#136cc0" stroke="#1a1a1a" stroke-width="0.6"/>
<path d="M252.31 157.6L254.71 160L252.31 162.4L249.91 160Z" fill="#136cc0" stroke="#1a1a1a" stroke-width="0.6"/>
<rect x="250.51" y="154.25" width="3.6" height="3.6" fill="#136cc0" stroke="#1a1a1a" stroke-width="0.6"/>
<path d="M260.18 152.5L262.58 154.9L260.18 157.3L257.78 154.9Z" fill="#136cc0" stroke="#1a1a1a" stroke-width="0.6"/>
<rect x="258.38" y="151.35" width="3.6" height="3.6" fill="#136cc0" stroke="#1a1a1a" stroke-width="0.6"/>
<path d="M268.05 152.5L270.45 154.9L268.05 157.3L265.65 154.9Z" fill="#136cc0" stroke="#1a1a1a" stroke-width="0.6"/>
<rect x="266.25" y="149.95" width="3.6" height="3.6" fill="#136cc0" stroke="#1a1a1a" stroke-width="0.6"/>
<path d="M275.92 142L278.32 144.4L275.92 146.8L273.52 144.4Z" fill="#136cc0" stroke="#1a1a1a" stroke-width="0.6"/>
<rect x="274.12" y="140.4" width="3.6" height="3.6" fill="#136cc0" stroke="#1a1a1a" stroke-width="0.6"/>
<path d="M283.79 148.3L286.19 150.7L283.79 153.1L281.39 150.7Z" fill="#136cc0" stroke="#1a1a1a" stroke-width="0.6"/>
<rect x="281.99" y="145.65" width="3.6" height="3.6" fill="#136cc0" stroke="#1a1a1a" stroke-width="0.6"/>
<path d="M291.66 151.8L294.06 154.2L291.66 156.6L289.26 154.2Z" fill="#136cc0" stroke="#1a1a1a" stroke-width="0.6"/>
<rect x="289.86" y="149.95" width="3.6" height="3.6" fill="#136cc0" stroke="#1a1a1a" stroke-width="0.6"/>
<path d="M299.53 151.8L301.93 154.2L299.53 156.6L297.13 154.2Z" fill="#136cc0" stroke="#1a1a1a" stroke-width="0.6"/>
<rect x="297.73" y="151" width="3.6" height="3.6" fill="#136cc0" stroke="#1a1a1a" stroke-width="0.6"/>
<path d="M307.4 156.2L309.8 158.6L307.4 161L305 158.6Z" fill="#136cc0" stroke="#1a1a1a" stroke-width="0.6"/>
<rect x="305.6" y="156.8" width="3.6" height="3.6" fill="#136cc0" stroke="#1a1a1a" stroke-width="0.6"/>
<path d="M315.27 160.8L317.67 163.2L315.27 165.6L312.87 163.2Z" fill="#136cc0" stroke="#1a1a1a" stroke-width="0.6"/>
<rect x="313.47" y="161.4" width="3.6" height="3.6" fill="#136cc0" stroke="#1a1a1a" stroke-width="0.6"/>
<path d="M323.14 166.8L325.54 169.2L323.14 171.6L320.74 169.2Z" fill="#136cc0" stroke="#1a1a1a" stroke-width="0.6"/>
<rect x="321.34" y="167.4" width="3.6" height="3.6" fill="#136cc0" stroke="#1a1a1a" stroke-width="0.6"/>
<path d="M331.01 173.6L333.41 176L331.01 178.4L328.61 176Z" fill="#136cc0" stroke="#1a1a1a" stroke-width="0.6"/>
<rect x="329.21" y="173.5" width="3.6" height="3.6" fill="#136cc0" stroke="#1a1a1a" stroke-width="0.6"/>
<path d="M338.88 179.9L341.28 182.3L338.88 184.7L336.48 182.3Z" fill="#136cc0" stroke="#1a1a1a" stroke-width="0.6"/>
<rect x="337.08" y="179.7" width="3.6" height="3.6" fill="#136cc0" stroke="#1a1a1a" stroke-width="0.6"/>
<path d="M346.75 187.7L349.15 190.1L346.75 192.5L344.35 190.1Z" fill="#136cc0" stroke="#1a1a1a" stroke-width="0.6"/>
<rect x="344.95" y="181.8" width="3.6" height="3.6" fill="#136cc0" stroke="#1a1a1a" stroke-width="0.6"/>
<path d="M354.62 190.4L357.02 192.8L354.62 195.2L352.22 192.8Z" fill="#136cc0" stroke="#1a1a1a" stroke-width="0.6"/>
<rect x="352.82" y="183.2" width="3.6" height="3.6" fill="#136cc0" stroke="#1a1a1a" stroke-width="0.6"/>
<path d="M362.49 190.4L364.89 192.8L362.49 195.2L360.09 192.8Z" fill="#136cc0" stroke="#1a1a1a" stroke-width="0.6"/>
<rect x="360.69" y="180.5" width="3.6" height="3.6" fill="#136cc0" stroke="#1a1a1a" stroke-width="0.6"/>
<path d="M370.36 190.9L372.76 193.3L370.36 195.7L367.96 193.3Z" fill="#136cc0" stroke="#1a1a1a" stroke-width="0.6"/>
<rect x="368.56" y="185.2" width="3.6" height="3.6" fill="#136cc0" stroke="#1a1a1a" stroke-width="0.6"/>
<path d="M378.23 191.46L380.87 194.1L378.23 196.74L375.59 194.1Z" fill="#fff" stroke="#1a1a1a" stroke-width="0.6"/>
<circle cx="378.23" cy="189.6" r="2.3" fill="#fff" stroke="#1a1a1a" stroke-width="0.6"/>
<path d="M386.1 191.46L388.74 194.1L386.1 196.74L383.46 194.1Z" fill="#fff" stroke="#1a1a1a" stroke-width="0.6"/>
<circle cx="386.1" cy="189.6" r="2.3" fill="#fff" stroke="#1a1a1a" stroke-width="0.6"/>
<path d="M393.97 191.46L396.61 194.1L393.97 196.74L391.33 194.1Z" fill="#fff" stroke="#1a1a1a" stroke-width="0.6"/>
<circle cx="393.97" cy="189.6" r="2.3" fill="#fff" stroke="#1a1a1a" stroke-width="0.6"/>
<path d="M401.84 191.46L404.48 194.1L401.84 196.74L399.2 194.1Z" fill="#fff" stroke="#1a1a1a" stroke-width="0.6"/>
<circle cx="401.84" cy="189.6" r="2.3" fill="#fff" stroke="#1a1a1a" stroke-width="0.6"/>
<path d="M409.71 191.46L412.35 194.1L409.71 196.74L407.07 194.1Z" fill="#fff" stroke="#1a1a1a" stroke-width="0.6"/>
<circle cx="409.71" cy="189.6" r="2.3" fill="#fff" stroke="#1a1a1a" stroke-width="0.6"/>
<path d="M417.58 191.46L420.22 194.1L417.58 196.74L414.94 194.1Z" fill="#fff" stroke="#1a1a1a" stroke-width="0.6"/>
<circle cx="417.58" cy="189.6" r="2.3" fill="#fff" stroke="#1a1a1a" stroke-width="0.6"/>
<path d="M425.45 191.46L428.09 194.1L425.45 196.74L422.81 194.1Z" fill="#fff" stroke="#1a1a1a" stroke-width="0.6"/>
<circle cx="425.45" cy="189.6" r="2.3" fill="#fff" stroke="#1a1a1a" stroke-width="0.6"/>
<path d="M433.32 191.46L435.96 194.1L433.32 196.74L430.68 194.1Z" fill="#fff" stroke="#1a1a1a" stroke-width="0.6"/>
<circle cx="433.32" cy="189.6" r="2.3" fill="#fff" stroke="#1a1a1a" stroke-width="0.6"/>
<path d="M441.19 191.46L443.83 194.1L441.19 196.74L438.55 194.1Z" fill="#fff" stroke="#1a1a1a" stroke-width="0.6"/>
<circle cx="441.19" cy="189.6" r="2.3" fill="#fff" stroke="#1a1a1a" stroke-width="0.6"/>
<path d="M449.06 191.46L451.7 194.1L449.06 196.74L446.42 194.1Z" fill="#fff" stroke="#1a1a1a" stroke-width="0.6"/>
<circle cx="449.06" cy="189.6" r="2.3" fill="#fff" stroke="#1a1a1a" stroke-width="0.6"/>
<path d="M456.93 191.46L459.57 194.1L456.93 196.74L454.29 194.1Z" fill="#fff" stroke="#1a1a1a" stroke-width="0.6"/>
<circle cx="456.93" cy="189.6" r="2.3" fill="#fff" stroke="#1a1a1a" stroke-width="0.6"/>
<path d="M464.8 191.46L467.44 194.1L464.8 196.74L462.16 194.1Z" fill="#fff" stroke="#1a1a1a" stroke-width="0.6"/>
<circle cx="464.8" cy="189.6" r="2.3" fill="#fff" stroke="#1a1a1a" stroke-width="0.6"/>
<path d="M472.67 191.46L475.31 194.1L472.67 196.74L470.03 194.1Z" fill="#fff" stroke="#1a1a1a" stroke-width="0.6"/>
<circle cx="472.67" cy="189.6" r="2.3" fill="#fff" stroke="#1a1a1a" stroke-width="0.6"/>
<path d="M480.54 191.46L483.18 194.1L480.54 196.74L477.9 194.1Z" fill="#fff" stroke="#1a1a1a" stroke-width="0.6"/>
<circle cx="480.54" cy="189.6" r="2.3" fill="#fff" stroke="#1a1a1a" stroke-width="0.6"/>
<circle cx="71.3" cy="145.4" r="2.1" fill="#136cc0" stroke="#1a1a1a" stroke-width="0.6"/>
<circle cx="79.17" cy="146.2" r="2.1" fill="#136cc0" stroke="#1a1a1a" stroke-width="0.6"/>
<circle cx="87.04" cy="143.8" r="2.1" fill="#136cc0" stroke="#1a1a1a" stroke-width="0.6"/>
<circle cx="94.91" cy="139.7" r="2.1" fill="#136cc0" stroke="#1a1a1a" stroke-width="0.6"/>
<circle cx="102.78" cy="144.5" r="2.1" fill="#136cc0" stroke="#1a1a1a" stroke-width="0.6"/>
<circle cx="110.65" cy="146" r="2.1" fill="#136cc0" stroke="#1a1a1a" stroke-width="0.6"/>
<circle cx="118.52" cy="140.9" r="2.1" fill="#136cc0" stroke="#1a1a1a" stroke-width="0.6"/>
<circle cx="126.39" cy="143" r="2.1" fill="#136cc0" stroke="#1a1a1a" stroke-width="0.6"/>
<circle cx="134.26" cy="143" r="2.1" fill="#136cc0" stroke="#1a1a1a" stroke-width="0.6"/>
<circle cx="142.13" cy="145.4" r="2.1" fill="#136cc0" stroke="#1a1a1a" stroke-width="0.6"/>
<circle cx="150" cy="147.2" r="2.1" fill="#136cc0" stroke="#1a1a1a" stroke-width="0.6"/>
<circle cx="157.87" cy="146" r="2.1" fill="#136cc0" stroke="#1a1a1a" stroke-width="0.6"/>
<circle cx="165.74" cy="136.9" r="2.1" fill="#136cc0" stroke="#1a1a1a" stroke-width="0.6"/>
<circle cx="173.61" cy="142.3" r="2.1" fill="#136cc0" stroke="#1a1a1a" stroke-width="0.6"/>
<circle cx="181.48" cy="145.8" r="2.1" fill="#136cc0" stroke="#1a1a1a" stroke-width="0.6"/>
<circle cx="189.35" cy="142.3" r="2.1" fill="#136cc0" stroke="#1a1a1a" stroke-width="0.6"/>
<circle cx="197.22" cy="148.4" r="2.1" fill="#136cc0" stroke="#1a1a1a" stroke-width="0.6"/>
<circle cx="205.09" cy="150.3" r="2.1" fill="#136cc0" stroke="#1a1a1a" stroke-width="0.6"/>
<circle cx="212.96" cy="154.5" r="2.1" fill="#136cc0" stroke="#1a1a1a" stroke-width="0.6"/>
<circle cx="220.83" cy="157.6" r="2.1" fill="#136cc0" stroke="#1a1a1a" stroke-width="0.6"/>
<circle cx="228.7" cy="152.1" r="2.1" fill="#136cc0" stroke="#1a1a1a" stroke-width="0.6"/>
<circle cx="236.57" cy="147.8" r="2.1" fill="#136cc0" stroke="#1a1a1a" stroke-width="0.6"/>
<circle cx="244.44" cy="156.7" r="2.1" fill="#136cc0" stroke="#1a1a1a" stroke-width="0.6"/>
<circle cx="252.31" cy="152.1" r="2.1" fill="#136cc0" stroke="#1a1a1a" stroke-width="0.6"/>
<circle cx="260.18" cy="151.4" r="2.1" fill="#136cc0" stroke="#1a1a1a" stroke-width="0.6"/>
<circle cx="268.05" cy="148.6" r="2.1" fill="#136cc0" stroke="#1a1a1a" stroke-width="0.6"/>
<circle cx="275.92" cy="140" r="2.1" fill="#136cc0" stroke="#1a1a1a" stroke-width="0.6"/>
<circle cx="283.79" cy="144.2" r="2.1" fill="#136cc0" stroke="#1a1a1a" stroke-width="0.6"/>
<circle cx="291.66" cy="149.3" r="2.1" fill="#136cc0" stroke="#1a1a1a" stroke-width="0.6"/>
<circle cx="299.53" cy="151.4" r="2.1" fill="#136cc0" stroke="#1a1a1a" stroke-width="0.6"/>
<circle cx="307.4" cy="158.6" r="2.1" fill="#136cc0" stroke="#1a1a1a" stroke-width="0.6"/>
<circle cx="315.27" cy="163.2" r="2.1" fill="#136cc0" stroke="#1a1a1a" stroke-width="0.6"/>
<circle cx="323.14" cy="169.2" r="2.1" fill="#136cc0" stroke="#1a1a1a" stroke-width="0.6"/>
<circle cx="331.01" cy="171.3" r="2.1" fill="#136cc0" stroke="#1a1a1a" stroke-width="0.6"/>
<circle cx="338.88" cy="174.5" r="2.1" fill="#136cc0" stroke="#1a1a1a" stroke-width="0.6"/>
<circle cx="346.75" cy="176.8" r="2.1" fill="#136cc0" stroke="#1a1a1a" stroke-width="0.6"/>
<circle cx="354.62" cy="175.3" r="2.1" fill="#136cc0" stroke="#1a1a1a" stroke-width="0.6"/>
<circle cx="362.49" cy="169.5" r="2.1" fill="#136cc0" stroke="#1a1a1a" stroke-width="0.6"/>
<circle cx="370.36" cy="174.5" r="2.1" fill="#136cc0" stroke="#1a1a1a" stroke-width="0.6"/>
<circle cx="378.23" cy="178.4" r="2.1" fill="#136cc0" stroke="#1a1a1a" stroke-width="0.6"/>
<circle cx="386.1" cy="178.4" r="2.1" fill="#136cc0" stroke="#1a1a1a" stroke-width="0.6"/>
<circle cx="393.97" cy="178.4" r="2.1" fill="#136cc0" stroke="#1a1a1a" stroke-width="0.6"/>
<circle cx="401.84" cy="180.7" r="2.1" fill="#136cc0" stroke="#1a1a1a" stroke-width="0.6"/>
<circle cx="409.71" cy="180" r="2.1" fill="#136cc0" stroke="#1a1a1a" stroke-width="0.6"/>
<circle cx="417.58" cy="164.6" r="2.1" fill="#136cc0" stroke="#1a1a1a" stroke-width="0.6"/>
<circle cx="425.45" cy="164.3" r="2.1" fill="#136cc0" stroke="#1a1a1a" stroke-width="0.6"/>
<circle cx="433.32" cy="167.6" r="2.1" fill="#136cc0" stroke="#1a1a1a" stroke-width="0.6"/>
<circle cx="441.19" cy="171.7" r="2.1" fill="#136cc0" stroke="#1a1a1a" stroke-width="0.6"/>
<circle cx="449.06" cy="168.4" r="2.1" fill="#136cc0" stroke="#1a1a1a" stroke-width="0.6"/>
<circle cx="456.93" cy="160.6" r="2.1" fill="#136cc0" stroke="#1a1a1a" stroke-width="0.6"/>
<circle cx="464.8" cy="158.5" r="2.1" fill="#136cc0" stroke="#1a1a1a" stroke-width="0.6"/>
<circle cx="472.67" cy="162.9" r="2.1" fill="#136cc0" stroke="#1a1a1a" stroke-width="0.6"/>
<circle cx="480.54" cy="155.2" r="2.1" fill="#136cc0" stroke="#1a1a1a" stroke-width="0.6"/>
<polyline points="71.3,128 79.17,129 87.04,126.8 94.91,126.8 102.78,124.3 110.65,124.1 118.52,122.9 126.39,126.8 134.26,126.5 142.13,126.8 150,126.5 157.87,126.8 165.74,125.5 173.61,128.7 181.48,126.8 189.35,129.2 197.22,130.8 205.09,133.2 212.96,132.4 220.83,132.6 228.7,128.3 236.57,130.2 244.44,136 252.31,129.6 260.18,130.8 268.05,128.4 275.92,128.4 283.79,130.2 291.66,131.9 299.53,129.4 307.4,134 315.27,134.4 323.14,136.1 331.01,138.2 338.88,140 346.75,141.9 354.62,135.8 362.49,131 370.36,136.6 378.23,138.5 386.1,135 393.97,135 401.84,139.5 409.71,133.7 417.58,129.9 425.45,130.9 433.32,136.2 441.19,137.8 449.06,130.9 456.93,129.6 464.8,132 472.67,133.7 480.54,127.4" fill="none" stroke="#000" stroke-width="1.1" stroke-linejoin="round"/>
<circle cx="71.3" cy="128" r="2" fill="#000" stroke="#000" stroke-width="0.6"/>
<circle cx="79.17" cy="129" r="2" fill="#000" stroke="#000" stroke-width="0.6"/>
<circle cx="87.04" cy="126.8" r="2" fill="#000" stroke="#000" stroke-width="0.6"/>
<circle cx="94.91" cy="126.8" r="2" fill="#000" stroke="#000" stroke-width="0.6"/>
<circle cx="102.78" cy="124.3" r="2" fill="#000" stroke="#000" stroke-width="0.6"/>
<circle cx="110.65" cy="124.1" r="2" fill="#000" stroke="#000" stroke-width="0.6"/>
<circle cx="118.52" cy="122.9" r="2" fill="#000" stroke="#000" stroke-width="0.6"/>
<circle cx="126.39" cy="126.8" r="2" fill="#000" stroke="#000" stroke-width="0.6"/>
<circle cx="134.26" cy="126.5" r="2" fill="#000" stroke="#000" stroke-width="0.6"/>
<circle cx="142.13" cy="126.8" r="2" fill="#000" stroke="#000" stroke-width="0.6"/>
<circle cx="150" cy="126.5" r="2" fill="#000" stroke="#000" stroke-width="0.6"/>
<circle cx="157.87" cy="126.8" r="2" fill="#000" stroke="#000" stroke-width="0.6"/>
<circle cx="165.74" cy="125.5" r="2" fill="#000" stroke="#000" stroke-width="0.6"/>
<circle cx="173.61" cy="128.7" r="2" fill="#000" stroke="#000" stroke-width="0.6"/>
<circle cx="181.48" cy="126.8" r="2" fill="#000" stroke="#000" stroke-width="0.6"/>
<circle cx="189.35" cy="129.2" r="2" fill="#000" stroke="#000" stroke-width="0.6"/>
<circle cx="197.22" cy="130.8" r="2" fill="#000" stroke="#000" stroke-width="0.6"/>
<circle cx="205.09" cy="133.2" r="2" fill="#000" stroke="#000" stroke-width="0.6"/>
<circle cx="212.96" cy="132.4" r="2" fill="#000" stroke="#000" stroke-width="0.6"/>
<circle cx="220.83" cy="132.6" r="2" fill="#000" stroke="#000" stroke-width="0.6"/>
<circle cx="228.7" cy="128.3" r="2" fill="#000" stroke="#000" stroke-width="0.6"/>
<circle cx="236.57" cy="130.2" r="2" fill="#000" stroke="#000" stroke-width="0.6"/>
<circle cx="244.44" cy="136" r="2" fill="#000" stroke="#000" stroke-width="0.6"/>
<circle cx="252.31" cy="129.6" r="2" fill="#000" stroke="#000" stroke-width="0.6"/>
<circle cx="260.18" cy="130.8" r="2" fill="#000" stroke="#000" stroke-width="0.6"/>
<circle cx="268.05" cy="128.4" r="2" fill="#000" stroke="#000" stroke-width="0.6"/>
<circle cx="275.92" cy="128.4" r="2" fill="#000" stroke="#000" stroke-width="0.6"/>
<circle cx="283.79" cy="130.2" r="2" fill="#000" stroke="#000" stroke-width="0.6"/>
<circle cx="291.66" cy="131.9" r="2" fill="#000" stroke="#000" stroke-width="0.6"/>
<circle cx="299.53" cy="129.4" r="2" fill="#000" stroke="#000" stroke-width="0.6"/>
<circle cx="307.4" cy="134" r="2" fill="#000" stroke="#000" stroke-width="0.6"/>
<circle cx="315.27" cy="134.4" r="2" fill="#000" stroke="#000" stroke-width="0.6"/>
<circle cx="323.14" cy="136.1" r="2" fill="#000" stroke="#000" stroke-width="0.6"/>
<circle cx="331.01" cy="138.2" r="2" fill="#000" stroke="#000" stroke-width="0.6"/>
<circle cx="338.88" cy="140" r="2" fill="#000" stroke="#000" stroke-width="0.6"/>
<circle cx="346.75" cy="141.9" r="2" fill="#000" stroke="#000" stroke-width="0.6"/>
<circle cx="354.62" cy="135.8" r="2" fill="#000" stroke="#000" stroke-width="0.6"/>
<circle cx="362.49" cy="131" r="2" fill="#000" stroke="#000" stroke-width="0.6"/>
<circle cx="370.36" cy="136.6" r="2" fill="#000" stroke="#000" stroke-width="0.6"/>
<circle cx="378.23" cy="138.5" r="2" fill="#000" stroke="#000" stroke-width="0.6"/>
<circle cx="386.1" cy="135" r="2" fill="#000" stroke="#000" stroke-width="0.6"/>
<circle cx="393.97" cy="135" r="2" fill="#000" stroke="#000" stroke-width="0.6"/>
<circle cx="401.84" cy="139.5" r="2" fill="#000" stroke="#000" stroke-width="0.6"/>
<circle cx="409.71" cy="133.7" r="2" fill="#000" stroke="#000" stroke-width="0.6"/>
<circle cx="417.58" cy="129.9" r="2" fill="#000" stroke="#000" stroke-width="0.6"/>
<circle cx="425.45" cy="130.9" r="2" fill="#000" stroke="#000" stroke-width="0.6"/>
<circle cx="433.32" cy="136.2" r="2" fill="#000" stroke="#000" stroke-width="0.6"/>
<circle cx="441.19" cy="137.8" r="2" fill="#000" stroke="#000" stroke-width="0.6"/>
<circle cx="449.06" cy="130.9" r="2" fill="#000" stroke="#000" stroke-width="0.6"/>
<circle cx="456.93" cy="129.6" r="2" fill="#000" stroke="#000" stroke-width="0.6"/>
<circle cx="464.8" cy="132" r="2" fill="#000" stroke="#000" stroke-width="0.6"/>
<circle cx="472.67" cy="133.7" r="2" fill="#000" stroke="#000" stroke-width="0.6"/>
<circle cx="480.54" cy="127.4" r="2" fill="#000" stroke="#000" stroke-width="0.6"/>
<path d="M60.2 219.2V120.45H492.3" fill="none" stroke="#9a9a9a" stroke-width="1.6"/>
<path d="M59.4 219.2H492.3V119.65" fill="none" stroke="#5f5f5f" stroke-width="1.1"/>
<text transform="translate(29.9,169.72) rotate(-90)" text-anchor="middle" font-size="10.0" fill="#000" stroke="#000" stroke-width="0.25">Water table depth (m)</text>
<text x="516.7" y="135.8" font-size="9" fill="#000" class="lg">Bore</text>
<line x1="517.7" y1="147.8" x2="528.9" y2="147.8" stroke="#000" stroke-width="1"/>
<circle cx="523.3" cy="147.8" r="2" fill="#000" stroke="#000" stroke-width="0.6"/>
<text x="535.4" y="152.1" font-size="9.7" fill="#000" class="lg">Basin</text>
<line x1="517.7" y1="162.2" x2="528.9" y2="162.2" stroke="#2a97e0" stroke-width="1"/>
<circle cx="523.3" cy="162.2" r="2" fill="#136cc0" stroke="#1a1a1a" stroke-width="0.6"/>
<text x="535.4" y="166.5" font-size="9.7" fill="#000" class="lg">DS 7</text>
<line x1="517.7" y1="176.6" x2="528.9" y2="176.6" stroke="#2a97e0" stroke-width="1"/>
<rect x="521.5" y="174.8" width="3.6" height="3.6" fill="#136cc0" stroke="#1a1a1a" stroke-width="0.6"/>
<text x="535.4" y="180.9" font-size="9.7" fill="#000" class="lg">DS 17</text>
<line x1="517.7" y1="191" x2="528.9" y2="191" stroke="#2a97e0" stroke-width="1"/>
<path d="M523.3 188.6L525.7 191L523.3 193.4L520.9 191Z" fill="#136cc0" stroke="#1a1a1a" stroke-width="0.6"/>
<text x="535.4" y="195.3" font-size="9.7" fill="#000" class="lg">DS 24</text>
<line x1="517.7" y1="205.4" x2="528.9" y2="205.4" stroke="#f1b12a" stroke-width="1"/>
<path d="M523.3 203L525.7 205.4L523.3 207.8L520.9 205.4Z" fill="#fff" stroke="#1a1a1a" stroke-width="0.6"/>
<text x="535.4" y="209.7" font-size="9.7" fill="#000" class="lg">US 24</text>
<line x1="93.96" y1="237.2" x2="93.96" y2="335.6" stroke="#f3f3f3" stroke-width="0.8"/>
<line x1="128.25" y1="237.2" x2="128.25" y2="335.6" stroke="#f3f3f3" stroke-width="0.8"/>
<line x1="163.09" y1="237.2" x2="163.09" y2="335.6" stroke="#f3f3f3" stroke-width="0.8"/>
<line x1="197.38" y1="237.2" x2="197.38" y2="335.6" stroke="#f3f3f3" stroke-width="0.8"/>
<line x1="231.66" y1="237.2" x2="231.66" y2="335.6" stroke="#f3f3f3" stroke-width="0.8"/>
<line x1="265.95" y1="237.2" x2="265.95" y2="335.6" stroke="#f3f3f3" stroke-width="0.8"/>
<line x1="300.23" y1="237.2" x2="300.23" y2="335.6" stroke="#f3f3f3" stroke-width="0.8"/>
<line x1="335.08" y1="237.2" x2="335.08" y2="335.6" stroke="#f3f3f3" stroke-width="0.8"/>
<line x1="368.24" y1="237.2" x2="368.24" y2="335.6" stroke="#f3f3f3" stroke-width="0.8"/>
<line x1="401.4" y1="237.2" x2="401.4" y2="335.6" stroke="#f3f3f3" stroke-width="0.8"/>
<line x1="435.69" y1="237.2" x2="435.69" y2="335.6" stroke="#f3f3f3" stroke-width="0.8"/>
<line x1="469.97" y1="237.2" x2="469.97" y2="335.6" stroke="#f3f3f3" stroke-width="0.8"/>
<line x1="60.3" y1="323.3" x2="492.3" y2="323.3" stroke="#f3f3f3" stroke-width="0.8"/>
<line x1="60.3" y1="298.7" x2="492.3" y2="298.7" stroke="#f3f3f3" stroke-width="0.8"/>
<line x1="60.3" y1="274.1" x2="492.3" y2="274.1" stroke="#f3f3f3" stroke-width="0.8"/>
<line x1="60.3" y1="249.5" x2="492.3" y2="249.5" stroke="#f3f3f3" stroke-width="0.8"/>
<line x1="77.1" y1="237.2" x2="77.1" y2="335.6" stroke="#ebebeb" stroke-width="1.1"/>
<line x1="110.82" y1="237.2" x2="110.82" y2="335.6" stroke="#ebebeb" stroke-width="1.1"/>
<line x1="145.67" y1="237.2" x2="145.67" y2="335.6" stroke="#ebebeb" stroke-width="1.1"/>
<line x1="180.52" y1="237.2" x2="180.52" y2="335.6" stroke="#ebebeb" stroke-width="1.1"/>
<line x1="214.24" y1="237.2" x2="214.24" y2="335.6" stroke="#ebebeb" stroke-width="1.1"/>
<line x1="249.09" y1="237.2" x2="249.09" y2="335.6" stroke="#ebebeb" stroke-width="1.1"/>
<line x1="282.81" y1="237.2" x2="282.81" y2="335.6" stroke="#ebebeb" stroke-width="1.1"/>
<line x1="317.66" y1="237.2" x2="317.66" y2="335.6" stroke="#ebebeb" stroke-width="1.1"/>
<line x1="352.5" y1="237.2" x2="352.5" y2="335.6" stroke="#ebebeb" stroke-width="1.1"/>
<line x1="383.98" y1="237.2" x2="383.98" y2="335.6" stroke="#ebebeb" stroke-width="1.1"/>
<line x1="418.83" y1="237.2" x2="418.83" y2="335.6" stroke="#ebebeb" stroke-width="1.1"/>
<line x1="452.55" y1="237.2" x2="452.55" y2="335.6" stroke="#ebebeb" stroke-width="1.1"/>
<line x1="487.4" y1="237.2" x2="487.4" y2="335.6" stroke="#ebebeb" stroke-width="1.1"/>
<line x1="60.3" y1="335.6" x2="492.3" y2="335.6" stroke="#ebebeb" stroke-width="1.1"/>
<line x1="60.3" y1="311" x2="492.3" y2="311" stroke="#ebebeb" stroke-width="1.1"/>
<line x1="60.3" y1="286.4" x2="492.3" y2="286.4" stroke="#ebebeb" stroke-width="1.1"/>
<line x1="60.3" y1="261.8" x2="492.3" y2="261.8" stroke="#ebebeb" stroke-width="1.1"/>
<line x1="60.3" y1="237.2" x2="492.3" y2="237.2" stroke="#ebebeb" stroke-width="1.1"/>
<line x1="77.1" y1="335.6" x2="77.1" y2="338.3" stroke="#4a4a4a" stroke-width="1"/>
<text x="77.1" y="347.2" text-anchor="middle" fill="#3a3a3a" stroke="#3a3a3a" stroke-width="0.18" font-size="9.8">Jun 18</text>
<line x1="110.82" y1="335.6" x2="110.82" y2="338.3" stroke="#4a4a4a" stroke-width="1"/>
<text x="110.82" y="347.2" text-anchor="middle" fill="#3a3a3a" stroke="#3a3a3a" stroke-width="0.18" font-size="9.8">Jul 18</text>
<line x1="145.67" y1="335.6" x2="145.67" y2="338.3" stroke="#4a4a4a" stroke-width="1"/>
<text x="145.67" y="347.2" text-anchor="middle" fill="#3a3a3a" stroke="#3a3a3a" stroke-width="0.18" font-size="9.8">Aug 18</text>
<line x1="180.52" y1="335.6" x2="180.52" y2="338.3" stroke="#4a4a4a" stroke-width="1"/>
<text x="180.52" y="347.2" text-anchor="middle" fill="#3a3a3a" stroke="#3a3a3a" stroke-width="0.18" font-size="9.8">Sep 18</text>
<line x1="214.24" y1="335.6" x2="214.24" y2="338.3" stroke="#4a4a4a" stroke-width="1"/>
<text x="214.24" y="347.2" text-anchor="middle" fill="#3a3a3a" stroke="#3a3a3a" stroke-width="0.18" font-size="9.8">Oct 18</text>
<line x1="249.09" y1="335.6" x2="249.09" y2="338.3" stroke="#4a4a4a" stroke-width="1"/>
<text x="249.09" y="347.2" text-anchor="middle" fill="#3a3a3a" stroke="#3a3a3a" stroke-width="0.18" font-size="9.8">Nov 18</text>
<line x1="282.81" y1="335.6" x2="282.81" y2="338.3" stroke="#4a4a4a" stroke-width="1"/>
<text x="282.81" y="347.2" text-anchor="middle" fill="#3a3a3a" stroke="#3a3a3a" stroke-width="0.18" font-size="9.8">Dec 18</text>
<line x1="317.66" y1="335.6" x2="317.66" y2="338.3" stroke="#4a4a4a" stroke-width="1"/>
<text x="317.66" y="347.2" text-anchor="middle" fill="#3a3a3a" stroke="#3a3a3a" stroke-width="0.18" font-size="9.8">Jan 19</text>
<line x1="352.5" y1="335.6" x2="352.5" y2="338.3" stroke="#4a4a4a" stroke-width="1"/>
<text x="352.5" y="347.2" text-anchor="middle" fill="#3a3a3a" stroke="#3a3a3a" stroke-width="0.18" font-size="9.8">Feb 19</text>
<line x1="383.98" y1="335.6" x2="383.98" y2="338.3" stroke="#4a4a4a" stroke-width="1"/>
<text x="383.98" y="347.2" text-anchor="middle" fill="#3a3a3a" stroke="#3a3a3a" stroke-width="0.18" font-size="9.8">Mar 19</text>
<line x1="418.83" y1="335.6" x2="418.83" y2="338.3" stroke="#4a4a4a" stroke-width="1"/>
<text x="418.83" y="347.2" text-anchor="middle" fill="#3a3a3a" stroke="#3a3a3a" stroke-width="0.18" font-size="9.8">Apr 19</text>
<line x1="452.55" y1="335.6" x2="452.55" y2="338.3" stroke="#4a4a4a" stroke-width="1"/>
<text x="452.55" y="347.2" text-anchor="middle" fill="#3a3a3a" stroke="#3a3a3a" stroke-width="0.18" font-size="9.8">May 19</text>
<line x1="487.4" y1="335.6" x2="487.4" y2="338.3" stroke="#4a4a4a" stroke-width="1"/>
<text x="487.4" y="347.2" text-anchor="middle" fill="#3a3a3a" stroke="#3a3a3a" stroke-width="0.18" font-size="9.8">Jun 19</text>
<line x1="57.6" y1="335.6" x2="60.3" y2="335.6" stroke="#4a4a4a" stroke-width="1"/>
<text x="55.7" y="339.2" text-anchor="end" fill="#3a3a3a" stroke="#3a3a3a" stroke-width="0.18" font-size="9.8">0.0</text>
<line x1="57.6" y1="311" x2="60.3" y2="311" stroke="#4a4a4a" stroke-width="1"/>
<text x="55.7" y="314.6" text-anchor="end" fill="#3a3a3a" stroke="#3a3a3a" stroke-width="0.18" font-size="9.8">2.5</text>
<line x1="57.6" y1="286.4" x2="60.3" y2="286.4" stroke="#4a4a4a" stroke-width="1"/>
<text x="55.7" y="290" text-anchor="end" fill="#3a3a3a" stroke="#3a3a3a" stroke-width="0.18" font-size="9.8">5.0</text>
<line x1="57.6" y1="261.8" x2="60.3" y2="261.8" stroke="#4a4a4a" stroke-width="1"/>
<text x="55.7" y="265.4" text-anchor="end" fill="#3a3a3a" stroke="#3a3a3a" stroke-width="0.18" font-size="9.8">7.5</text>
<line x1="57.6" y1="237.2" x2="60.3" y2="237.2" stroke="#4a4a4a" stroke-width="1"/>
<text x="55.7" y="240.8" text-anchor="end" fill="#3a3a3a" stroke="#3a3a3a" stroke-width="0.18" font-size="9.8">10.0</text>
<text x="2" y="247.7" font-weight="bold" font-size="12" fill="#000">C)</text>
<line x1="280.4" y1="335.6" x2="280.4" y2="237.2" stroke="#000" stroke-width="2" stroke-dasharray="6.2 6.4"/>
<line x1="375.1" y1="335.6" x2="375.1" y2="237.2" stroke="#000" stroke-width="2" stroke-dasharray="6.2 6.4"/>
<line x1="469.3" y1="335.6" x2="469.3" y2="237.2" stroke="#000" stroke-width="2" stroke-dasharray="6.2 6.4"/>
<path d="M68.1 321.8H74.5M71.3 321.8V325.8M68.1 325.8H74.5" stroke="#8f8f8f" stroke-width="0.55" fill="none"/>
<path d="M75.97 322.9H82.37M79.17 322.9V326.9M75.97 326.9H82.37" stroke="#8f8f8f" stroke-width="0.55" fill="none"/>
<path d="M83.84 326.1H90.24M87.04 326.1V329.1M83.84 329.1H90.24" stroke="#8f8f8f" stroke-width="0.55" fill="none"/>
<path d="M91.71 327.6H98.11M94.91 327.6V330.6M91.71 330.6H98.11" stroke="#8f8f8f" stroke-width="0.55" fill="none"/>
<path d="M99.58 327.6H105.98M102.78 327.6V330.6M99.58 330.6H105.98" stroke="#8f8f8f" stroke-width="0.55" fill="none"/>
<path d="M107.45 323.9H113.85M110.65 323.9V327.9M107.45 327.9H113.85" stroke="#8f8f8f" stroke-width="0.55" fill="none"/>
<path d="M115.32 325.6H121.72M118.52 325.6V329.6M115.32 329.6H121.72" stroke="#8f8f8f" stroke-width="0.55" fill="none"/>
<path d="M123.19 321.4H129.59M126.39 321.4V325.4M123.19 325.4H129.59" stroke="#8f8f8f" stroke-width="0.55" fill="none"/>
<path d="M131.06 320.2H137.46M134.26 320.2V324.2M131.06 324.2H137.46" stroke="#8f8f8f" stroke-width="0.55" fill="none"/>
<path d="M138.93 318.2H145.33M142.13 318.2V323.2M138.93 323.2H145.33" stroke="#8f8f8f" stroke-width="0.55" fill="none"/>
<path d="M146.8 316.7H153.2M150 316.7V321.7M146.8 321.7H153.2" stroke="#8f8f8f" stroke-width="0.55" fill="none"/>
<path d="M154.67 315.5H161.07M157.87 315.5V320.5M154.67 320.5H161.07" stroke="#8f8f8f" stroke-width="0.55" fill="none"/>
<path d="M162.54 315.1H168.94M165.74 315.1V320.1M162.54 320.1H168.94" stroke="#8f8f8f" stroke-width="0.55" fill="none"/>
<path d="M170.41 312.8H176.81M173.61 312.8V318.8M170.41 318.8H176.81" stroke="#8f8f8f" stroke-width="0.55" fill="none"/>
<path d="M178.28 304.2H184.68M181.48 304.2V310.2M178.28 310.2H184.68" stroke="#8f8f8f" stroke-width="0.55" fill="none"/>
<path d="M186.15 296.5H192.55M189.35 296.5V304.5M186.15 304.5H192.55" stroke="#8f8f8f" stroke-width="0.55" fill="none"/>
<path d="M194.02 299H200.42M197.22 299V305M194.02 305H200.42" stroke="#8f8f8f" stroke-width="0.55" fill="none"/>
<path d="M201.89 299.6H208.29M205.09 299.6V309M201.89 309H208.29" stroke="#8f8f8f" stroke-width="0.55" fill="none"/>
<path d="M209.76 291H216.16M212.96 291V301M209.76 301H216.16" stroke="#8f8f8f" stroke-width="0.55" fill="none"/>
<path d="M217.63 284.6H224.03M220.83 284.6V290.6M217.63 290.6H224.03" stroke="#8f8f8f" stroke-width="0.55" fill="none"/>
<path d="M225.5 284.5H231.9M228.7 284.5V296.5M225.5 296.5H231.9" stroke="#8f8f8f" stroke-width="0.55" fill="none"/>
<path d="M233.37 288.8H239.77M236.57 288.8V294.8M233.37 294.8H239.77" stroke="#8f8f8f" stroke-width="0.55" fill="none"/>
<path d="M241.24 275H247.64M244.44 275V283M241.24 283H247.64" stroke="#8f8f8f" stroke-width="0.55" fill="none"/>
<path d="M249.11 287.8H255.51M252.31 287.8V295.8M249.11 295.8H255.51" stroke="#8f8f8f" stroke-width="0.55" fill="none"/>
<path d="M256.98 274.3H263.38M260.18 274.3V288.3M256.98 288.3H263.38" stroke="#8f8f8f" stroke-width="0.55" fill="none"/>
<path d="M264.85 277.6H271.25M268.05 277.6V295.6M264.85 295.6H271.25" stroke="#8f8f8f" stroke-width="0.55" fill="none"/>
<path d="M272.72 281.4H279.12M275.92 281.4V291.4M272.72 291.4H279.12" stroke="#8f8f8f" stroke-width="0.55" fill="none"/>
<path d="M280.59 257.8H286.99M283.79 257.8V277.8M280.59 277.8H286.99" stroke="#8f8f8f" stroke-width="0.55" fill="none"/>
<path d="M288.46 274.5H294.86M291.66 274.5V288.5M288.46 288.5H294.86" stroke="#8f8f8f" stroke-width="0.55" fill="none"/>
<path d="M296.33 289.3H302.73M299.53 289.3V295.3M296.33 295.3H302.73" stroke="#8f8f8f" stroke-width="0.55" fill="none"/>
<path d="M304.2 242.6H310.6M307.4 242.6V258.6M304.2 258.6H310.6" stroke="#8f8f8f" stroke-width="0.55" fill="none"/>
<path d="M312.07 254.8H318.47M315.27 254.8V276.8M312.07 276.8H318.47" stroke="#8f8f8f" stroke-width="0.55" fill="none"/>
<path d="M319.94 257H326.34M323.14 257V267M319.94 267H326.34" stroke="#8f8f8f" stroke-width="0.55" fill="none"/>
<path d="M327.81 247.2H334.21M331.01 247.2V255.2M327.81 255.2H334.21" stroke="#8f8f8f" stroke-width="0.55" fill="none"/>
<path d="M335.68 240.4H342.08M338.88 240.4V250.4M335.68 250.4H342.08" stroke="#8f8f8f" stroke-width="0.55" fill="none"/>
<path d="M343.55 252.2H349.95M346.75 252.2V260.2M343.55 260.2H349.95" stroke="#8f8f8f" stroke-width="0.55" fill="none"/>
<path d="M351.42 267.2H357.82M354.62 267.2V283.2M351.42 283.2H357.82" stroke="#8f8f8f" stroke-width="0.55" fill="none"/>
<path d="M359.29 272.2H365.69M362.49 272.2V278.2M359.29 278.2H365.69" stroke="#8f8f8f" stroke-width="0.55" fill="none"/>
<path d="M367.16 272.6H373.56M370.36 272.6V278.6M367.16 278.6H373.56" stroke="#8f8f8f" stroke-width="0.55" fill="none"/>
<path d="M375.03 240.3H381.43M378.23 240.3V246.3M375.03 246.3H381.43" stroke="#8f8f8f" stroke-width="0.55" fill="none"/>
<path d="M382.9 260.7H389.3M386.1 260.7V275.7M382.9 275.7H389.3" stroke="#8f8f8f" stroke-width="0.55" fill="none"/>
<path d="M390.77 285H397.17M393.97 285V289M390.77 289H397.17" stroke="#8f8f8f" stroke-width="0.55" fill="none"/>
<path d="M398.64 283H405.04M401.84 283V289M398.64 289H405.04" stroke="#8f8f8f" stroke-width="0.55" fill="none"/>
<path d="M406.51 289H412.91M409.71 289V295M406.51 295H412.91" stroke="#8f8f8f" stroke-width="0.55" fill="none"/>
<path d="M414.38 297.6H420.78M417.58 297.6V303.6M414.38 303.6H420.78" stroke="#8f8f8f" stroke-width="0.55" fill="none"/>
<path d="M422.25 300.4H428.65M425.45 300.4V306.4M422.25 306.4H428.65" stroke="#8f8f8f" stroke-width="0.55" fill="none"/>
<path d="M430.12 288H436.52M433.32 288V294M430.12 294H436.52" stroke="#8f8f8f" stroke-width="0.55" fill="none"/>
<path d="M437.99 311H444.39M441.19 311V315M437.99 315H444.39" stroke="#8f8f8f" stroke-width="0.55" fill="none"/>
<path d="M445.86 313H452.26M449.06 313V319M445.86 319H452.26" stroke="#8f8f8f" stroke-width="0.55" fill="none"/>
<path d="M453.73 320H460.13M456.93 320V324M453.73 324H460.13" stroke="#8f8f8f" stroke-width="0.55" fill="none"/>
<path d="M461.6 315H468M464.8 315V319M461.6 319H468" stroke="#8f8f8f" stroke-width="0.55" fill="none"/>
<path d="M469.47 316H475.87M472.67 316V320M469.47 320H475.87" stroke="#8f8f8f" stroke-width="0.55" fill="none"/>
<path d="M477.34 327H483.74M480.54 327V329M477.34 329H483.74" stroke="#8f8f8f" stroke-width="0.55" fill="none"/>
<polyline points="71.3,323.8 79.17,324.9 87.04,327.6 94.91,329.1 102.78,329.1 110.65,325.9 118.52,327.6 126.39,323.4 134.26,322.2 142.13,320.7 150,319.2 157.87,318 165.74,317.6 173.61,315.8 181.48,307.2 189.35,300.5 197.22,302 205.09,304.3 212.96,296 220.83,287.6 228.7,290.5 236.57,291.8 244.44,279 252.31,291.8 260.18,281.3 268.05,286.6 275.92,286.4 283.79,267.8 291.66,281.5 299.53,292.3 307.4,250.6 315.27,265.8 323.14,262 331.01,251.2 338.88,245.4 346.75,256.2 354.62,275.2 362.49,275.2 370.36,275.6 378.23,243.3 386.1,268.2 393.97,287 401.84,286 409.71,292 417.58,300.6 425.45,303.4 433.32,291 441.19,313 449.06,316 456.93,322 464.8,317 472.67,318 480.54,328" fill="none" stroke="#000" stroke-width="1.2" stroke-linejoin="round"/>
<circle cx="71.3" cy="323.8" r="1.85" fill="#000" stroke="#000" stroke-width="0.3"/>
<circle cx="79.17" cy="324.9" r="1.85" fill="#000" stroke="#000" stroke-width="0.3"/>
<circle cx="87.04" cy="327.6" r="1.85" fill="#000" stroke="#000" stroke-width="0.3"/>
<circle cx="94.91" cy="329.1" r="1.85" fill="#000" stroke="#000" stroke-width="0.3"/>
<circle cx="102.78" cy="329.1" r="1.85" fill="#000" stroke="#000" stroke-width="0.3"/>
<circle cx="110.65" cy="325.9" r="1.85" fill="#000" stroke="#000" stroke-width="0.3"/>
<circle cx="118.52" cy="327.6" r="1.85" fill="#000" stroke="#000" stroke-width="0.3"/>
<circle cx="126.39" cy="323.4" r="1.85" fill="#000" stroke="#000" stroke-width="0.3"/>
<circle cx="134.26" cy="322.2" r="1.85" fill="#000" stroke="#000" stroke-width="0.3"/>
<circle cx="142.13" cy="320.7" r="1.85" fill="#000" stroke="#000" stroke-width="0.3"/>
<circle cx="150" cy="319.2" r="1.85" fill="#000" stroke="#000" stroke-width="0.3"/>
<circle cx="157.87" cy="318" r="1.85" fill="#000" stroke="#000" stroke-width="0.3"/>
<circle cx="165.74" cy="317.6" r="1.85" fill="#000" stroke="#000" stroke-width="0.3"/>
<circle cx="173.61" cy="315.8" r="1.85" fill="#000" stroke="#000" stroke-width="0.3"/>
<circle cx="181.48" cy="307.2" r="1.85" fill="#000" stroke="#000" stroke-width="0.3"/>
<circle cx="189.35" cy="300.5" r="1.85" fill="#000" stroke="#000" stroke-width="0.3"/>
<circle cx="197.22" cy="302" r="1.85" fill="#000" stroke="#000" stroke-width="0.3"/>
<circle cx="205.09" cy="304.3" r="1.85" fill="#000" stroke="#000" stroke-width="0.3"/>
<circle cx="212.96" cy="296" r="1.85" fill="#000" stroke="#000" stroke-width="0.3"/>
<circle cx="220.83" cy="287.6" r="1.85" fill="#000" stroke="#000" stroke-width="0.3"/>
<circle cx="228.7" cy="290.5" r="1.85" fill="#000" stroke="#000" stroke-width="0.3"/>
<circle cx="236.57" cy="291.8" r="1.85" fill="#000" stroke="#000" stroke-width="0.3"/>
<circle cx="244.44" cy="279" r="1.85" fill="#000" stroke="#000" stroke-width="0.3"/>
<circle cx="252.31" cy="291.8" r="1.85" fill="#000" stroke="#000" stroke-width="0.3"/>
<circle cx="260.18" cy="281.3" r="1.85" fill="#000" stroke="#000" stroke-width="0.3"/>
<circle cx="268.05" cy="286.6" r="1.85" fill="#000" stroke="#000" stroke-width="0.3"/>
<circle cx="275.92" cy="286.4" r="1.85" fill="#000" stroke="#000" stroke-width="0.3"/>
<circle cx="283.79" cy="267.8" r="1.85" fill="#000" stroke="#000" stroke-width="0.3"/>
<circle cx="291.66" cy="281.5" r="1.85" fill="#000" stroke="#000" stroke-width="0.3"/>
<circle cx="299.53" cy="292.3" r="1.85" fill="#000" stroke="#000" stroke-width="0.3"/>
<circle cx="307.4" cy="250.6" r="1.85" fill="#000" stroke="#000" stroke-width="0.3"/>
<circle cx="315.27" cy="265.8" r="1.85" fill="#000" stroke="#000" stroke-width="0.3"/>
<circle cx="323.14" cy="262" r="1.85" fill="#000" stroke="#000" stroke-width="0.3"/>
<circle cx="331.01" cy="251.2" r="1.85" fill="#000" stroke="#000" stroke-width="0.3"/>
<circle cx="338.88" cy="245.4" r="1.85" fill="#000" stroke="#000" stroke-width="0.3"/>
<circle cx="346.75" cy="256.2" r="1.85" fill="#000" stroke="#000" stroke-width="0.3"/>
<circle cx="354.62" cy="275.2" r="1.85" fill="#000" stroke="#000" stroke-width="0.3"/>
<circle cx="362.49" cy="275.2" r="1.85" fill="#000" stroke="#000" stroke-width="0.3"/>
<circle cx="370.36" cy="275.6" r="1.85" fill="#000" stroke="#000" stroke-width="0.3"/>
<circle cx="378.23" cy="243.3" r="1.85" fill="#000" stroke="#000" stroke-width="0.3"/>
<circle cx="386.1" cy="268.2" r="1.85" fill="#000" stroke="#000" stroke-width="0.3"/>
<circle cx="393.97" cy="287" r="1.85" fill="#000" stroke="#000" stroke-width="0.3"/>
<circle cx="401.84" cy="286" r="1.85" fill="#000" stroke="#000" stroke-width="0.3"/>
<circle cx="409.71" cy="292" r="1.85" fill="#000" stroke="#000" stroke-width="0.3"/>
<circle cx="417.58" cy="300.6" r="1.85" fill="#000" stroke="#000" stroke-width="0.3"/>
<circle cx="425.45" cy="303.4" r="1.85" fill="#000" stroke="#000" stroke-width="0.3"/>
<circle cx="433.32" cy="291" r="1.85" fill="#000" stroke="#000" stroke-width="0.3"/>
<circle cx="441.19" cy="313" r="1.85" fill="#000" stroke="#000" stroke-width="0.3"/>
<circle cx="449.06" cy="316" r="1.85" fill="#000" stroke="#000" stroke-width="0.3"/>
<circle cx="456.93" cy="322" r="1.85" fill="#000" stroke="#000" stroke-width="0.3"/>
<circle cx="464.8" cy="317" r="1.85" fill="#000" stroke="#000" stroke-width="0.3"/>
<circle cx="472.67" cy="318" r="1.85" fill="#000" stroke="#000" stroke-width="0.3"/>
<circle cx="480.54" cy="328" r="1.85" fill="#000" stroke="#000" stroke-width="0.3"/>
<path d="M60.2 335.6V237.4H492.3" fill="none" stroke="#9a9a9a" stroke-width="1.6"/>
<path d="M59.4 335.6H492.3V236.6" fill="none" stroke="#5f5f5f" stroke-width="1.1"/>
<text transform="translate(29.9,286.4) rotate(-90)" text-anchor="middle" font-size="10.0" fill="#000" stroke="#000" stroke-width="0.25">PET (mm day<tspan dy="-3.6" font-size="7">−1</tspan><tspan dy="3.6">)</tspan></text>
<line x1="522.2" y1="288.65" x2="533.3" y2="288.65" stroke="#000" stroke-width="1"/>
<circle cx="527.7" cy="288.65" r="1.8" fill="#000" stroke="#000" stroke-width="0.3"/>
<text x="539.8" y="292.5" font-size="9.7" fill="#000" class="lg">PET</text>
<line x1="93.96" y1="353.5" x2="93.96" y2="452.1" stroke="#f3f3f3" stroke-width="0.8"/>
<line x1="128.25" y1="353.5" x2="128.25" y2="452.1" stroke="#f3f3f3" stroke-width="0.8"/>
<line x1="163.09" y1="353.5" x2="163.09" y2="452.1" stroke="#f3f3f3" stroke-width="0.8"/>
<line x1="197.38" y1="353.5" x2="197.38" y2="452.1" stroke="#f3f3f3" stroke-width="0.8"/>
<line x1="231.66" y1="353.5" x2="231.66" y2="452.1" stroke="#f3f3f3" stroke-width="0.8"/>
<line x1="265.95" y1="353.5" x2="265.95" y2="452.1" stroke="#f3f3f3" stroke-width="0.8"/>
<line x1="300.23" y1="353.5" x2="300.23" y2="452.1" stroke="#f3f3f3" stroke-width="0.8"/>
<line x1="335.08" y1="353.5" x2="335.08" y2="452.1" stroke="#f3f3f3" stroke-width="0.8"/>
<line x1="368.24" y1="353.5" x2="368.24" y2="452.1" stroke="#f3f3f3" stroke-width="0.8"/>
<line x1="401.4" y1="353.5" x2="401.4" y2="452.1" stroke="#f3f3f3" stroke-width="0.8"/>
<line x1="435.69" y1="353.5" x2="435.69" y2="452.1" stroke="#f3f3f3" stroke-width="0.8"/>
<line x1="469.97" y1="353.5" x2="469.97" y2="452.1" stroke="#f3f3f3" stroke-width="0.8"/>
<line x1="60.3" y1="438.15" x2="492.3" y2="438.15" stroke="#f3f3f3" stroke-width="0.8"/>
<line x1="60.3" y1="410.05" x2="492.3" y2="410.05" stroke="#f3f3f3" stroke-width="0.8"/>
<line x1="60.3" y1="381.95" x2="492.3" y2="381.95" stroke="#f3f3f3" stroke-width="0.8"/>
<line x1="60.3" y1="353.85" x2="492.3" y2="353.85" stroke="#f3f3f3" stroke-width="0.8"/>
<line x1="77.1" y1="353.5" x2="77.1" y2="452.1" stroke="#ebebeb" stroke-width="1.1"/>
<line x1="110.82" y1="353.5" x2="110.82" y2="452.1" stroke="#ebebeb" stroke-width="1.1"/>
<line x1="145.67" y1="353.5" x2="145.67" y2="452.1" stroke="#ebebeb" stroke-width="1.1"/>
<line x1="180.52" y1="353.5" x2="180.52" y2="452.1" stroke="#ebebeb" stroke-width="1.1"/>
<line x1="214.24" y1="353.5" x2="214.24" y2="452.1" stroke="#ebebeb" stroke-width="1.1"/>
<line x1="249.09" y1="353.5" x2="249.09" y2="452.1" stroke="#ebebeb" stroke-width="1.1"/>
<line x1="282.81" y1="353.5" x2="282.81" y2="452.1" stroke="#ebebeb" stroke-width="1.1"/>
<line x1="317.66" y1="353.5" x2="317.66" y2="452.1" stroke="#ebebeb" stroke-width="1.1"/>
<line x1="352.5" y1="353.5" x2="352.5" y2="452.1" stroke="#ebebeb" stroke-width="1.1"/>
<line x1="383.98" y1="353.5" x2="383.98" y2="452.1" stroke="#ebebeb" stroke-width="1.1"/>
<line x1="418.83" y1="353.5" x2="418.83" y2="452.1" stroke="#ebebeb" stroke-width="1.1"/>
<line x1="452.55" y1="353.5" x2="452.55" y2="452.1" stroke="#ebebeb" stroke-width="1.1"/>
<line x1="487.4" y1="353.5" x2="487.4" y2="452.1" stroke="#ebebeb" stroke-width="1.1"/>
<line x1="60.3" y1="452.2" x2="492.3" y2="452.2" stroke="#ebebeb" stroke-width="1.1"/>
<line x1="60.3" y1="424.1" x2="492.3" y2="424.1" stroke="#ebebeb" stroke-width="1.1"/>
<line x1="60.3" y1="396" x2="492.3" y2="396" stroke="#ebebeb" stroke-width="1.1"/>
<line x1="60.3" y1="367.9" x2="492.3" y2="367.9" stroke="#ebebeb" stroke-width="1.1"/>
<line x1="77.1" y1="452.1" x2="77.1" y2="454.8" stroke="#4a4a4a" stroke-width="1"/>
<text x="77.1" y="463.7" text-anchor="middle" fill="#3a3a3a" stroke="#3a3a3a" stroke-width="0.18" font-size="9.8">Jun 18</text>
<line x1="110.82" y1="452.1" x2="110.82" y2="454.8" stroke="#4a4a4a" stroke-width="1"/>
<text x="110.82" y="463.7" text-anchor="middle" fill="#3a3a3a" stroke="#3a3a3a" stroke-width="0.18" font-size="9.8">Jul 18</text>
<line x1="145.67" y1="452.1" x2="145.67" y2="454.8" stroke="#4a4a4a" stroke-width="1"/>
<text x="145.67" y="463.7" text-anchor="middle" fill="#3a3a3a" stroke="#3a3a3a" stroke-width="0.18" font-size="9.8">Aug 18</text>
<line x1="180.52" y1="452.1" x2="180.52" y2="454.8" stroke="#4a4a4a" stroke-width="1"/>
<text x="180.52" y="463.7" text-anchor="middle" fill="#3a3a3a" stroke="#3a3a3a" stroke-width="0.18" font-size="9.8">Sep 18</text>
<line x1="214.24" y1="452.1" x2="214.24" y2="454.8" stroke="#4a4a4a" stroke-width="1"/>
<text x="214.24" y="463.7" text-anchor="middle" fill="#3a3a3a" stroke="#3a3a3a" stroke-width="0.18" font-size="9.8">Oct 18</text>
<line x1="249.09" y1="452.1" x2="249.09" y2="454.8" stroke="#4a4a4a" stroke-width="1"/>
<text x="249.09" y="463.7" text-anchor="middle" fill="#3a3a3a" stroke="#3a3a3a" stroke-width="0.18" font-size="9.8">Nov 18</text>
<line x1="282.81" y1="452.1" x2="282.81" y2="454.8" stroke="#4a4a4a" stroke-width="1"/>
<text x="282.81" y="463.7" text-anchor="middle" fill="#3a3a3a" stroke="#3a3a3a" stroke-width="0.18" font-size="9.8">Dec 18</text>
<line x1="317.66" y1="452.1" x2="317.66" y2="454.8" stroke="#4a4a4a" stroke-width="1"/>
<text x="317.66" y="463.7" text-anchor="middle" fill="#3a3a3a" stroke="#3a3a3a" stroke-width="0.18" font-size="9.8">Jan 19</text>
<line x1="352.5" y1="452.1" x2="352.5" y2="454.8" stroke="#4a4a4a" stroke-width="1"/>
<text x="352.5" y="463.7" text-anchor="middle" fill="#3a3a3a" stroke="#3a3a3a" stroke-width="0.18" font-size="9.8">Feb 19</text>
<line x1="383.98" y1="452.1" x2="383.98" y2="454.8" stroke="#4a4a4a" stroke-width="1"/>
<text x="383.98" y="463.7" text-anchor="middle" fill="#3a3a3a" stroke="#3a3a3a" stroke-width="0.18" font-size="9.8">Mar 19</text>
<line x1="418.83" y1="452.1" x2="418.83" y2="454.8" stroke="#4a4a4a" stroke-width="1"/>
<text x="418.83" y="463.7" text-anchor="middle" fill="#3a3a3a" stroke="#3a3a3a" stroke-width="0.18" font-size="9.8">Apr 19</text>
<line x1="452.55" y1="452.1" x2="452.55" y2="454.8" stroke="#4a4a4a" stroke-width="1"/>
<text x="452.55" y="463.7" text-anchor="middle" fill="#3a3a3a" stroke="#3a3a3a" stroke-width="0.18" font-size="9.8">May 19</text>
<line x1="487.4" y1="452.1" x2="487.4" y2="454.8" stroke="#4a4a4a" stroke-width="1"/>
<text x="487.4" y="463.7" text-anchor="middle" fill="#3a3a3a" stroke="#3a3a3a" stroke-width="0.18" font-size="9.8">Jun 19</text>
<line x1="57.6" y1="452.2" x2="60.3" y2="452.2" stroke="#4a4a4a" stroke-width="1"/>
<text x="55.7" y="455.8" text-anchor="end" fill="#3a3a3a" stroke="#3a3a3a" stroke-width="0.18" font-size="9.8">0</text>
<line x1="57.6" y1="424.1" x2="60.3" y2="424.1" stroke="#4a4a4a" stroke-width="1"/>
<text x="55.7" y="427.7" text-anchor="end" fill="#3a3a3a" stroke="#3a3a3a" stroke-width="0.18" font-size="9.8">100</text>
<line x1="57.6" y1="396" x2="60.3" y2="396" stroke="#4a4a4a" stroke-width="1"/>
<text x="55.7" y="399.6" text-anchor="end" fill="#3a3a3a" stroke="#3a3a3a" stroke-width="0.18" font-size="9.8">200</text>
<line x1="57.6" y1="367.9" x2="60.3" y2="367.9" stroke="#4a4a4a" stroke-width="1"/>
<text x="55.7" y="371.5" text-anchor="end" fill="#3a3a3a" stroke="#3a3a3a" stroke-width="0.18" font-size="9.8">300</text>
<text x="2" y="364" font-weight="bold" font-size="12" fill="#000">D)</text>
<line x1="280.4" y1="452.1" x2="280.4" y2="353.5" stroke="#000" stroke-width="2" stroke-dasharray="6.2 6.4"/>
<line x1="375.1" y1="452.1" x2="375.1" y2="353.5" stroke="#000" stroke-width="2" stroke-dasharray="6.2 6.4"/>
<line x1="469.3" y1="452.1" x2="469.3" y2="353.5" stroke="#000" stroke-width="2" stroke-dasharray="6.2 6.4"/>
<path d="M398.84 427.66H404.84M401.84 427.66V433.94M398.84 433.94H404.84" stroke="#959595" stroke-width="0.55" fill="none"/>
<path d="M68.3 431.89H74.3M71.3 431.89V441.31M68.3 441.31H74.3" stroke="#959595" stroke-width="0.55" fill="none"/>
<path d="M76.17 431.64H82.17M79.17 431.64V442.36M76.17 442.36H82.17" stroke="#959595" stroke-width="0.55" fill="none"/>
<path d="M84.04 430.53H90.04M87.04 430.53V437.47M84.04 437.47H90.04" stroke="#959595" stroke-width="0.55" fill="none"/>
<path d="M91.91 429.22H97.91M94.91 429.22V438.78M91.91 438.78H97.91" stroke="#959595" stroke-width="0.55" fill="none"/>
<path d="M99.78 436.68H105.78M102.78 436.68V447.92M99.78 447.92H105.78" stroke="#959595" stroke-width="0.55" fill="none"/>
<path d="M107.65 428.92H113.65M110.65 428.92V440.28M107.65 440.28H113.65" stroke="#959595" stroke-width="0.55" fill="none"/>
<path d="M115.52 440.45H121.52M118.52 440.45V446.75M115.52 446.75H121.52" stroke="#959595" stroke-width="0.55" fill="none"/>
<path d="M123.39 433.92H129.39M126.39 433.92V443.48M123.39 443.48H129.39" stroke="#959595" stroke-width="0.55" fill="none"/>
<path d="M131.26 433.54H137.26M134.26 433.54V442.86M131.26 442.86H137.26" stroke="#959595" stroke-width="0.55" fill="none"/>
<path d="M139.13 435.74H145.13M142.13 435.74V444.26M139.13 444.26H145.13" stroke="#959595" stroke-width="0.55" fill="none"/>
<path d="M202.09 433.07H208.09M205.09 433.07V440.93M202.09 440.93H208.09" stroke="#959595" stroke-width="0.55" fill="none"/>
<path d="M209.96 430.54H215.96M212.96 430.54V436.66M209.96 436.66H215.96" stroke="#959595" stroke-width="0.55" fill="none"/>
<path d="M217.83 430.71H223.83M220.83 430.71V436.49M217.83 436.49H223.83" stroke="#959595" stroke-width="0.55" fill="none"/>
<path d="M225.7 431.21H231.7M228.7 431.21V438.99M225.7 438.99H231.7" stroke="#959595" stroke-width="0.55" fill="none"/>
<path d="M233.57 430.33H239.57M236.57 430.33V436.87M233.57 436.87H239.57" stroke="#959595" stroke-width="0.55" fill="none"/>
<path d="M241.44 429.3H247.44M244.44 429.3V434.5M241.44 434.5H247.44" stroke="#959595" stroke-width="0.55" fill="none"/>
<path d="M249.31 433.48H255.31M252.31 433.48V438.72M249.31 438.72H255.31" stroke="#959595" stroke-width="0.55" fill="none"/>
<path d="M257.18 428.31H263.18M260.18 428.31V434.29M257.18 434.29H263.18" stroke="#959595" stroke-width="0.55" fill="none"/>
<path d="M265.05 432.99H271.05M268.05 432.99V437.21M265.05 437.21H271.05" stroke="#959595" stroke-width="0.55" fill="none"/>
<path d="M272.92 428.08H278.92M275.92 428.08V434.52M272.92 434.52H278.92" stroke="#959595" stroke-width="0.55" fill="none"/>
<path d="M280.79 423.03H286.79M283.79 423.03V429.97M280.79 429.97H286.79" stroke="#959595" stroke-width="0.55" fill="none"/>
<path d="M288.66 429.05H294.66M291.66 429.05V434.75M288.66 434.75H294.66" stroke="#959595" stroke-width="0.55" fill="none"/>
<path d="M296.53 424.41H302.53M299.53 424.41V431.79M296.53 431.79H302.53" stroke="#959595" stroke-width="0.55" fill="none"/>
<path d="M304.4 417.84H310.4M307.4 417.84V425.56M304.4 425.56H310.4" stroke="#959595" stroke-width="0.55" fill="none"/>
<path d="M312.27 422.09H318.27M315.27 422.09V428.31M312.27 428.31H318.27" stroke="#959595" stroke-width="0.55" fill="none"/>
<path d="M320.14 418.34H326.14M323.14 418.34V425.06M320.14 425.06H326.14" stroke="#959595" stroke-width="0.55" fill="none"/>
<path d="M328.01 419.17H334.01M331.01 419.17V423.63M328.01 423.63H334.01" stroke="#959595" stroke-width="0.55" fill="none"/>
<path d="M335.88 419.29H341.88M338.88 419.29V423.51M335.88 423.51H341.88" stroke="#959595" stroke-width="0.55" fill="none"/>
<path d="M343.75 417.74H349.75M346.75 417.74V425.66M343.75 425.66H349.75" stroke="#959595" stroke-width="0.55" fill="none"/>
<path d="M351.62 424.53H357.62M354.62 424.53V429.67M351.62 429.67H357.62" stroke="#959595" stroke-width="0.55" fill="none"/>
<path d="M359.49 424.67H365.49M362.49 424.67V429.53M359.49 429.53H365.49" stroke="#959595" stroke-width="0.55" fill="none"/>
<path d="M367.36 423.71H373.36M370.36 423.71V431.29M367.36 431.29H373.36" stroke="#959595" stroke-width="0.55" fill="none"/>
<path d="M375.23 419.2H381.23M378.23 419.2V426.2M375.23 426.2H381.23" stroke="#959595" stroke-width="0.55" fill="none"/>
<path d="M383.1 425.85H389.1M386.1 425.85V430.35M383.1 430.35H389.1" stroke="#959595" stroke-width="0.55" fill="none"/>
<path d="M390.97 429.66H396.97M393.97 429.66V434.94M390.97 434.94H396.97" stroke="#959595" stroke-width="0.55" fill="none"/>
<path d="M469.67 437.51H475.67M472.67 437.51V442.49M469.67 442.49H475.67" stroke="#959595" stroke-width="0.55" fill="none"/>
<path d="M477.54 437.85H483.54M480.54 437.85V442.95M477.54 442.95H483.54" stroke="#959595" stroke-width="0.55" fill="none"/>
<path d="M398.84 423.09H404.84M401.84 423.09V427.11M398.84 427.11H404.84" stroke="#959595" stroke-width="0.55" fill="none"/>
<path d="M68.3 428.16H74.3M71.3 428.16V436.84M68.3 436.84H74.3" stroke="#959595" stroke-width="0.55" fill="none"/>
<path d="M76.17 429.93H82.17M79.17 429.93V437.07M76.17 437.07H82.17" stroke="#959595" stroke-width="0.55" fill="none"/>
<path d="M84.04 424.12H90.04M87.04 424.12V431.88M84.04 431.88H90.04" stroke="#959595" stroke-width="0.55" fill="none"/>
<path d="M91.91 424.85H97.91M94.91 424.85V431.15M91.91 431.15H97.91" stroke="#959595" stroke-width="0.55" fill="none"/>
<path d="M99.78 431.61H105.78M102.78 431.61V437.39M99.78 437.39H105.78" stroke="#959595" stroke-width="0.55" fill="none"/>
<path d="M107.65 416.38H113.65M110.65 416.38V421.62M107.65 421.62H113.65" stroke="#959595" stroke-width="0.55" fill="none"/>
<path d="M115.52 428.45H121.52M118.52 428.45V439.55M115.52 439.55H121.52" stroke="#959595" stroke-width="0.55" fill="none"/>
<path d="M123.39 414.38H129.39M126.39 414.38V424.62M123.39 424.62H129.39" stroke="#959595" stroke-width="0.55" fill="none"/>
<path d="M131.26 413.54H137.26M134.26 413.54V422.46M131.26 422.46H137.26" stroke="#959595" stroke-width="0.55" fill="none"/>
<path d="M139.13 419.57H145.13M142.13 419.57V425.43M139.13 425.43H145.13" stroke="#959595" stroke-width="0.55" fill="none"/>
<path d="M202.09 418.1H208.09M205.09 418.1V422.7M202.09 422.7H208.09" stroke="#959595" stroke-width="0.55" fill="none"/>
<path d="M209.96 412.76H215.96M212.96 412.76V417.24M209.96 417.24H215.96" stroke="#959595" stroke-width="0.55" fill="none"/>
<path d="M217.83 413.37H223.83M220.83 413.37V418.63M217.83 418.63H223.83" stroke="#959595" stroke-width="0.55" fill="none"/>
<path d="M225.7 415.78H231.7M228.7 415.78V420.02M225.7 420.02H231.7" stroke="#959595" stroke-width="0.55" fill="none"/>
<path d="M233.57 413.05H239.57M236.57 413.05V418.15M233.57 418.15H239.57" stroke="#959595" stroke-width="0.55" fill="none"/>
<path d="M241.44 410.69H247.44M244.44 410.69V415.51M241.44 415.51H247.44" stroke="#959595" stroke-width="0.55" fill="none"/>
<path d="M249.31 417.41H255.31M252.31 417.41V422.19M249.31 422.19H255.31" stroke="#959595" stroke-width="0.55" fill="none"/>
<path d="M257.18 410.19H263.18M260.18 410.19V416.81M257.18 416.81H263.18" stroke="#959595" stroke-width="0.55" fill="none"/>
<path d="M265.05 417.28H271.05M268.05 417.28V423.12M265.05 423.12H271.05" stroke="#959595" stroke-width="0.55" fill="none"/>
<path d="M272.92 410.15H278.92M275.92 410.15V416.05M272.92 416.05H278.92" stroke="#959595" stroke-width="0.55" fill="none"/>
<path d="M280.79 405.68H286.79M283.79 405.68V411.12M280.79 411.12H286.79" stroke="#959595" stroke-width="0.55" fill="none"/>
<path d="M288.66 416.72H294.66M291.66 416.72V422.88M288.66 422.88H294.66" stroke="#959595" stroke-width="0.55" fill="none"/>
<path d="M296.53 410.53H302.53M299.53 410.53V417.67M296.53 417.67H302.53" stroke="#959595" stroke-width="0.55" fill="none"/>
<path d="M304.4 405.38H310.4M307.4 405.38V410.62M304.4 410.62H310.4" stroke="#959595" stroke-width="0.55" fill="none"/>
<path d="M312.27 410.96H318.27M315.27 410.96V415.24M312.27 415.24H318.27" stroke="#959595" stroke-width="0.55" fill="none"/>
<path d="M320.14 406.94H326.14M323.14 406.94V412.86M320.14 412.86H326.14" stroke="#959595" stroke-width="0.55" fill="none"/>
<path d="M328.01 405.64H334.01M331.01 405.64V411.16M328.01 411.16H334.01" stroke="#959595" stroke-width="0.55" fill="none"/>
<path d="M335.88 405.14H341.88M338.88 405.14V412.26M335.88 412.26H341.88" stroke="#959595" stroke-width="0.55" fill="none"/>
<path d="M343.75 406.18H349.75M346.75 406.18V410.62M343.75 410.62H349.75" stroke="#959595" stroke-width="0.55" fill="none"/>
<path d="M351.62 410.95H357.62M354.62 410.95V418.45M351.62 418.45H357.62" stroke="#959595" stroke-width="0.55" fill="none"/>
<path d="M359.49 417.77H365.49M362.49 417.77V421.83M359.49 421.83H365.49" stroke="#959595" stroke-width="0.55" fill="none"/>
<path d="M367.36 414.22H373.36M370.36 414.22V420.38M367.36 420.38H373.36" stroke="#959595" stroke-width="0.55" fill="none"/>
<path d="M375.23 407.91H381.23M378.23 407.91V413.69M375.23 413.69H381.23" stroke="#959595" stroke-width="0.55" fill="none"/>
<path d="M383.1 413.97H389.1M386.1 413.97V419.23M383.1 419.23H389.1" stroke="#959595" stroke-width="0.55" fill="none"/>
<path d="M390.97 420.42H396.97M393.97 420.42V427.98M390.97 427.98H396.97" stroke="#959595" stroke-width="0.55" fill="none"/>
<path d="M469.67 433H475.67M472.67 433V439.8M469.67 439.8H475.67" stroke="#959595" stroke-width="0.55" fill="none"/>
<path d="M398.84 438.37H404.84M401.84 438.37V443.03M398.84 443.03H404.84" stroke="#959595" stroke-width="0.55" fill="none"/>
<path d="M68.3 440.97H74.3M71.3 440.97V449.43M68.3 449.43H74.3" stroke="#959595" stroke-width="0.55" fill="none"/>
<path d="M76.17 440.56H82.17M79.17 440.56V449.84M76.17 449.84H82.17" stroke="#959595" stroke-width="0.55" fill="none"/>
<path d="M84.04 441.38H90.04M87.04 441.38V446.62M84.04 446.62H90.04" stroke="#959595" stroke-width="0.55" fill="none"/>
<path d="M91.91 441.19H97.91M94.91 441.19V446.81M91.91 446.81H97.91" stroke="#959595" stroke-width="0.55" fill="none"/>
<path d="M99.78 442.19H105.78M102.78 442.19V451.41M99.78 451.41H105.78" stroke="#959595" stroke-width="0.55" fill="none"/>
<path d="M107.65 436.75H113.65M110.65 436.75V446.85M107.65 446.85H113.65" stroke="#959595" stroke-width="0.55" fill="none"/>
<path d="M115.52 443.08H121.52M118.52 443.08V451.32M115.52 451.32H121.52" stroke="#959595" stroke-width="0.55" fill="none"/>
<path d="M123.39 438.72H129.39M126.39 438.72V446.68M123.39 446.68H129.39" stroke="#959595" stroke-width="0.55" fill="none"/>
<path d="M131.26 438.43H137.26M134.26 438.43V446.97M131.26 446.97H137.26" stroke="#959595" stroke-width="0.55" fill="none"/>
<path d="M139.13 440.19H145.13M142.13 440.19V447.01M139.13 447.01H145.13" stroke="#959595" stroke-width="0.55" fill="none"/>
<path d="M202.09 440.35H208.09M205.09 440.35V447.85M202.09 447.85H208.09" stroke="#959595" stroke-width="0.55" fill="none"/>
<path d="M209.96 438.28H215.96M212.96 438.28V446.12M209.96 446.12H215.96" stroke="#959595" stroke-width="0.55" fill="none"/>
<path d="M217.83 438.84H223.83M220.83 438.84V444.76M217.83 444.76H223.83" stroke="#959595" stroke-width="0.55" fill="none"/>
<path d="M225.7 439.76H231.7M228.7 439.76V443.84M225.7 443.84H231.7" stroke="#959595" stroke-width="0.55" fill="none"/>
<path d="M233.57 436.71H239.57M236.57 436.71V442.29M233.57 442.29H239.57" stroke="#959595" stroke-width="0.55" fill="none"/>
<path d="M241.44 436.29H247.44M244.44 436.29V443.51M241.44 443.51H247.44" stroke="#959595" stroke-width="0.55" fill="none"/>
<path d="M249.31 438.75H255.31M252.31 438.75V444.05M249.31 444.05H255.31" stroke="#959595" stroke-width="0.55" fill="none"/>
<path d="M257.18 436.19H263.18M260.18 436.19V440.61M257.18 440.61H263.18" stroke="#959595" stroke-width="0.55" fill="none"/>
<path d="M265.05 439.03H271.05M268.05 439.03V443.77M265.05 443.77H271.05" stroke="#959595" stroke-width="0.55" fill="none"/>
<path d="M272.92 434.58H278.92M275.92 434.58V441.42M272.92 441.42H278.92" stroke="#959595" stroke-width="0.55" fill="none"/>
<path d="M280.79 432.86H286.79M283.79 432.86V439.34M280.79 439.34H286.79" stroke="#959595" stroke-width="0.55" fill="none"/>
<path d="M288.66 438.83H294.66M291.66 438.83V443.97M288.66 443.97H294.66" stroke="#959595" stroke-width="0.55" fill="none"/>
<path d="M296.53 435.75H302.53M299.53 435.75V442.25M296.53 442.25H302.53" stroke="#959595" stroke-width="0.55" fill="none"/>
<path d="M304.4 432.58H310.4M307.4 432.58V439.62M304.4 439.62H310.4" stroke="#959595" stroke-width="0.55" fill="none"/>
<path d="M312.27 434.47H318.27M315.27 434.47V442.33M312.27 442.33H318.27" stroke="#959595" stroke-width="0.55" fill="none"/>
<path d="M320.14 432.44H326.14M323.14 432.44V439.76M320.14 439.76H326.14" stroke="#959595" stroke-width="0.55" fill="none"/>
<path d="M328.01 433.23H334.01M331.01 433.23V438.97M328.01 438.97H334.01" stroke="#959595" stroke-width="0.55" fill="none"/>
<path d="M335.88 432.88H341.88M338.88 432.88V440.12M335.88 440.12H341.88" stroke="#959595" stroke-width="0.55" fill="none"/>
<path d="M343.75 433.15H349.75M346.75 433.15V440.85M343.75 440.85H349.75" stroke="#959595" stroke-width="0.55" fill="none"/>
<path d="M351.62 434.66H357.62M354.62 434.66V442.14M351.62 442.14H357.62" stroke="#959595" stroke-width="0.55" fill="none"/>
<path d="M359.49 434.5H365.49M362.49 434.5V441.5M359.49 441.5H365.49" stroke="#959595" stroke-width="0.55" fill="none"/>
<path d="M367.36 435.23H373.36M370.36 435.23V441.57M367.36 441.57H373.36" stroke="#959595" stroke-width="0.55" fill="none"/>
<path d="M375.23 433.08H381.23M378.23 433.08V439.12M375.23 439.12H381.23" stroke="#959595" stroke-width="0.55" fill="none"/>
<path d="M383.1 433.9H389.1M386.1 433.9V441.3M383.1 441.3H389.1" stroke="#959595" stroke-width="0.55" fill="none"/>
<path d="M390.97 436.65H396.97M393.97 436.65V443.15M390.97 443.15H396.97" stroke="#959595" stroke-width="0.55" fill="none"/>
<path d="M469.67 440.46H475.67M472.67 440.46V447.34M469.67 447.34H475.67" stroke="#959595" stroke-width="0.55" fill="none"/>
<path d="M477.54 445.64H483.54M480.54 445.64V450.56M477.54 450.56H483.54" stroke="#959595" stroke-width="0.55" fill="none"/>
<path d="M398.84 433.72H404.84M401.84 433.72V438.08M398.84 438.08H404.84" stroke="#959595" stroke-width="0.55" fill="none"/>
<path d="M68.3 436.55H74.3M71.3 436.55V443.45M68.3 443.45H74.3" stroke="#959595" stroke-width="0.55" fill="none"/>
<path d="M76.17 435.96H82.17M79.17 435.96V445.04M76.17 445.04H82.17" stroke="#959595" stroke-width="0.55" fill="none"/>
<path d="M84.04 432.99H90.04M87.04 432.99V442.01M84.04 442.01H90.04" stroke="#959595" stroke-width="0.55" fill="none"/>
<path d="M91.91 434.3H97.91M94.91 434.3V440.7M91.91 440.7H97.91" stroke="#959595" stroke-width="0.55" fill="none"/>
<path d="M99.78 436.84H105.78M102.78 436.84V443.16M99.78 443.16H105.78" stroke="#959595" stroke-width="0.55" fill="none"/>
<path d="M107.65 428.77H113.65M110.65 428.77V440.43M107.65 440.43H113.65" stroke="#959595" stroke-width="0.55" fill="none"/>
<path d="M115.52 438.25H121.52M118.52 438.25V443.75M115.52 443.75H121.52" stroke="#959595" stroke-width="0.55" fill="none"/>
<path d="M123.39 428.86H129.39M126.39 428.86V440.34M123.39 440.34H129.39" stroke="#959595" stroke-width="0.55" fill="none"/>
<path d="M131.26 428.5H137.26M134.26 428.5V438.9M131.26 438.9H137.26" stroke="#959595" stroke-width="0.55" fill="none"/>
<path d="M139.13 430.99H145.13M142.13 430.99V440.01M139.13 440.01H145.13" stroke="#959595" stroke-width="0.55" fill="none"/>
<path d="M202.09 431.11H208.09M205.09 431.11V439.09M202.09 439.09H208.09" stroke="#959595" stroke-width="0.55" fill="none"/>
<path d="M209.96 429.24H215.96M212.96 429.24V435.96M209.96 435.96H215.96" stroke="#959595" stroke-width="0.55" fill="none"/>
<path d="M217.83 431.19H223.83M220.83 431.19V435.21M217.83 435.21H223.83" stroke="#959595" stroke-width="0.55" fill="none"/>
<path d="M225.7 429.32H231.7M228.7 429.32V437.08M225.7 437.08H231.7" stroke="#959595" stroke-width="0.55" fill="none"/>
<path d="M233.57 429.47H239.57M236.57 429.47V435.13M233.57 435.13H239.57" stroke="#959595" stroke-width="0.55" fill="none"/>
<path d="M241.44 428.07H247.44M244.44 428.07V435.73M241.44 435.73H247.44" stroke="#959595" stroke-width="0.55" fill="none"/>
<path d="M249.31 429.97H255.31M252.31 429.97V437.23M249.31 437.23H255.31" stroke="#959595" stroke-width="0.55" fill="none"/>
<path d="M257.18 427.12H263.18M260.18 427.12V431.68M257.18 431.68H263.18" stroke="#959595" stroke-width="0.55" fill="none"/>
<path d="M265.05 431.52H271.05M268.05 431.52V435.68M265.05 435.68H271.05" stroke="#959595" stroke-width="0.55" fill="none"/>
<path d="M272.92 426.36H278.92M275.92 426.36V430.44M272.92 430.44H278.92" stroke="#959595" stroke-width="0.55" fill="none"/>
<path d="M280.79 420.64H286.79M283.79 420.64V427.76M280.79 427.76H286.79" stroke="#959595" stroke-width="0.55" fill="none"/>
<path d="M288.66 429.02H294.66M291.66 429.02V436.18M288.66 436.18H294.66" stroke="#959595" stroke-width="0.55" fill="none"/>
<path d="M296.53 425.94H302.53M299.53 425.94V430.86M296.53 430.86H302.53" stroke="#959595" stroke-width="0.55" fill="none"/>
<path d="M304.4 420.87H310.4M307.4 420.87V425.33M304.4 425.33H310.4" stroke="#959595" stroke-width="0.55" fill="none"/>
<path d="M312.27 425.37H318.27M315.27 425.37V430.83M312.27 430.83H318.27" stroke="#959595" stroke-width="0.55" fill="none"/>
<path d="M320.14 423.5H326.14M323.14 423.5V430.7M320.14 430.7H326.14" stroke="#959595" stroke-width="0.55" fill="none"/>
<path d="M328.01 423.62H334.01M331.01 423.62V430.58M328.01 430.58H334.01" stroke="#959595" stroke-width="0.55" fill="none"/>
<path d="M335.88 423.77H341.88M338.88 423.77V431.23M335.88 431.23H341.88" stroke="#959595" stroke-width="0.55" fill="none"/>
<path d="M343.75 424.46H349.75M346.75 424.46V432.34M343.75 432.34H349.75" stroke="#959595" stroke-width="0.55" fill="none"/>
<path d="M351.62 428.39H357.62M354.62 428.39V435.41M351.62 435.41H357.62" stroke="#959595" stroke-width="0.55" fill="none"/>
<path d="M359.49 427.63H365.49M362.49 427.63V434.97M359.49 434.97H365.49" stroke="#959595" stroke-width="0.55" fill="none"/>
<path d="M367.36 430.27H373.36M370.36 430.27V434.33M367.36 434.33H373.36" stroke="#959595" stroke-width="0.55" fill="none"/>
<path d="M375.23 425.49H381.23M378.23 425.49V429.51M375.23 429.51H381.23" stroke="#959595" stroke-width="0.55" fill="none"/>
<path d="M383.1 427.58H389.1M386.1 427.58V435.02M383.1 435.02H389.1" stroke="#959595" stroke-width="0.55" fill="none"/>
<path d="M390.97 432.86H396.97M393.97 432.86V439.34M390.97 439.34H396.97" stroke="#959595" stroke-width="0.55" fill="none"/>
<path d="M469.67 434.65H475.67M472.67 434.65V439.95M469.67 439.95H475.67" stroke="#959595" stroke-width="0.55" fill="none"/>
<path d="M477.54 440.44H483.54M480.54 440.44V444.96M477.54 444.96H483.54" stroke="#959595" stroke-width="0.55" fill="none"/>
<path d="M398.84 417.04H404.84M401.84 417.04V422.36M398.84 422.36H404.84" stroke="#959595" stroke-width="0.55" fill="none"/>
<path d="M68.3 425.71H74.3M71.3 425.71V433.09M68.3 433.09H74.3" stroke="#959595" stroke-width="0.55" fill="none"/>
<path d="M76.17 425.16H82.17M79.17 425.16V433.64M76.17 433.64H82.17" stroke="#959595" stroke-width="0.55" fill="none"/>
<path d="M84.04 424.33H90.04M87.04 424.33V432.47M84.04 432.47H90.04" stroke="#959595" stroke-width="0.55" fill="none"/>
<path d="M91.91 425.19H97.91M94.91 425.19V431.61M91.91 431.61H97.91" stroke="#959595" stroke-width="0.55" fill="none"/>
<path d="M99.78 433.61H105.78M102.78 433.61V439.19M99.78 439.19H105.78" stroke="#959595" stroke-width="0.55" fill="none"/>
<path d="M107.65 416.99H113.65M110.65 416.99V423.41M107.65 423.41H113.65" stroke="#959595" stroke-width="0.55" fill="none"/>
<path d="M115.52 433.45H121.52M118.52 433.45V439.35M115.52 439.35H121.52" stroke="#959595" stroke-width="0.55" fill="none"/>
<path d="M123.39 418.25H129.39M126.39 418.25V423.95M123.39 423.95H129.39" stroke="#959595" stroke-width="0.55" fill="none"/>
<path d="M131.26 415.35H137.26M134.26 415.35V423.25M131.26 423.25H137.26" stroke="#959595" stroke-width="0.55" fill="none"/>
<path d="M139.13 420.44H145.13M142.13 420.44V426.36M139.13 426.36H145.13" stroke="#959595" stroke-width="0.55" fill="none"/>
<path d="M202.09 407.2H208.09M205.09 407.2V414.4M202.09 414.4H208.09" stroke="#959595" stroke-width="0.55" fill="none"/>
<path d="M209.96 398.61H215.96M212.96 398.61V404.79M209.96 404.79H215.96" stroke="#959595" stroke-width="0.55" fill="none"/>
<path d="M217.83 397.78H223.83M220.83 397.78V403.62M217.83 403.62H223.83" stroke="#959595" stroke-width="0.55" fill="none"/>
<path d="M225.7 397.02H231.7M228.7 397.02V403.58M225.7 403.58H231.7" stroke="#959595" stroke-width="0.55" fill="none"/>
<path d="M233.57 399.23H239.57M236.57 399.23V404.17M233.57 404.17H239.57" stroke="#959595" stroke-width="0.55" fill="none"/>
<path d="M241.44 393.85H247.44M244.44 393.85V397.95M241.44 397.95H247.44" stroke="#959595" stroke-width="0.55" fill="none"/>
<path d="M249.31 404.64H255.31M252.31 404.64V408.96M249.31 408.96H255.31" stroke="#959595" stroke-width="0.55" fill="none"/>
<path d="M257.18 396.13H263.18M260.18 396.13V401.47M257.18 401.47H263.18" stroke="#959595" stroke-width="0.55" fill="none"/>
<path d="M265.05 405.98H271.05M268.05 405.98V411.42M265.05 411.42H271.05" stroke="#959595" stroke-width="0.55" fill="none"/>
<path d="M272.92 399.49H278.92M275.92 399.49V404.51M272.92 404.51H278.92" stroke="#959595" stroke-width="0.55" fill="none"/>
<path d="M280.79 388.89H286.79M283.79 388.89V394.11M280.79 394.11H286.79" stroke="#959595" stroke-width="0.55" fill="none"/>
<path d="M288.66 401.83H294.66M291.66 401.83V409.17M288.66 409.17H294.66" stroke="#959595" stroke-width="0.55" fill="none"/>
<path d="M296.53 397.68H302.53M299.53 397.68V401.72M296.53 401.72H302.53" stroke="#959595" stroke-width="0.55" fill="none"/>
<path d="M304.4 382.5H310.4M307.4 382.5V388.3M304.4 388.3H310.4" stroke="#959595" stroke-width="0.55" fill="none"/>
<path d="M312.27 388.73H318.27M315.27 388.73V394.27M312.27 394.27H318.27" stroke="#959595" stroke-width="0.55" fill="none"/>
<path d="M320.14 384.74H326.14M323.14 384.74V389.86M320.14 389.86H326.14" stroke="#959595" stroke-width="0.55" fill="none"/>
<path d="M328.01 385.35H334.01M331.01 385.35V392.25M328.01 392.25H334.01" stroke="#959595" stroke-width="0.55" fill="none"/>
<path d="M335.88 389.05H341.88M338.88 389.05V393.95M335.88 393.95H341.88" stroke="#959595" stroke-width="0.55" fill="none"/>
<path d="M343.75 393.82H349.75M346.75 393.82V397.98M343.75 397.98H349.75" stroke="#959595" stroke-width="0.55" fill="none"/>
<path d="M351.62 401.68H357.62M354.62 401.68V406.32M351.62 406.32H357.62" stroke="#959595" stroke-width="0.55" fill="none"/>
<path d="M359.49 400.54H365.49M362.49 400.54V408.46M359.49 408.46H365.49" stroke="#959595" stroke-width="0.55" fill="none"/>
<path d="M367.36 404.31H373.36M370.36 404.31V409.69M367.36 409.69H373.36" stroke="#959595" stroke-width="0.55" fill="none"/>
<path d="M375.23 400.97H381.23M378.23 400.97V405.43M375.23 405.43H381.23" stroke="#959595" stroke-width="0.55" fill="none"/>
<path d="M383.1 405.36H389.1M386.1 405.36V413.24M383.1 413.24H389.1" stroke="#959595" stroke-width="0.55" fill="none"/>
<path d="M390.97 415.01H396.97M393.97 415.01V421.59M390.97 421.59H396.97" stroke="#959595" stroke-width="0.55" fill="none"/>
<path d="M469.67 418.89H475.67M472.67 418.89V426.71M469.67 426.71H475.67" stroke="#959595" stroke-width="0.55" fill="none"/>
<path d="M477.54 442.44H483.54M480.54 442.44V447.76M477.54 447.76H483.54" stroke="#959595" stroke-width="0.55" fill="none"/>
<path d="M398.84 390.18H404.84M401.84 390.18V400.42M398.84 400.42H404.84" stroke="#959595" stroke-width="0.55" fill="none"/>
<path d="M68.3 408.66H74.3M71.3 408.66V418.94M68.3 418.94H74.3" stroke="#959595" stroke-width="0.55" fill="none"/>
<path d="M76.17 406.87H82.17M79.17 406.87V418.53M76.17 418.53H82.17" stroke="#959595" stroke-width="0.55" fill="none"/>
<path d="M84.04 398.32H90.04M87.04 398.32V413.88M84.04 413.88H90.04" stroke="#959595" stroke-width="0.55" fill="none"/>
<path d="M91.91 404.59H97.91M94.91 404.59V418.21M91.91 418.21H97.91" stroke="#959595" stroke-width="0.55" fill="none"/>
<path d="M99.78 413.64H105.78M102.78 413.64V429.16M99.78 429.16H105.78" stroke="#959595" stroke-width="0.55" fill="none"/>
<path d="M107.65 390.45H113.65M110.65 390.45V403.15M107.65 403.15H113.65" stroke="#959595" stroke-width="0.55" fill="none"/>
<path d="M115.52 411.73H121.52M118.52 411.73V427.87M115.52 427.87H121.52" stroke="#959595" stroke-width="0.55" fill="none"/>
<path d="M123.39 396.03H129.39M126.39 396.03V406.57M123.39 406.57H129.39" stroke="#959595" stroke-width="0.55" fill="none"/>
<path d="M131.26 390.52H137.26M134.26 390.52V404.88M131.26 404.88H137.26" stroke="#959595" stroke-width="0.55" fill="none"/>
<path d="M139.13 393.84H145.13M142.13 393.84V405.16M139.13 405.16H145.13" stroke="#959595" stroke-width="0.55" fill="none"/>
<path d="M202.09 393.5H208.09M205.09 393.5V401.3M202.09 401.3H208.09" stroke="#959595" stroke-width="0.55" fill="none"/>
<path d="M209.96 382.63H215.96M212.96 382.63V393.17M209.96 393.17H215.96" stroke="#959595" stroke-width="0.55" fill="none"/>
<path d="M217.83 382.94H223.83M220.83 382.94V391.66M217.83 391.66H223.83" stroke="#959595" stroke-width="0.55" fill="none"/>
<path d="M225.7 381.17H231.7M228.7 381.17V391.43M225.7 391.43H231.7" stroke="#959595" stroke-width="0.55" fill="none"/>
<path d="M233.57 381.33H239.57M236.57 381.33V389.47M233.57 389.47H239.57" stroke="#959595" stroke-width="0.55" fill="none"/>
<path d="M241.44 374.14H247.44M244.44 374.14V384.06M241.44 384.06H247.44" stroke="#959595" stroke-width="0.55" fill="none"/>
<path d="M249.31 384.49H255.31M252.31 384.49V395.11M249.31 395.11H255.31" stroke="#959595" stroke-width="0.55" fill="none"/>
<path d="M257.18 375.85H263.18M260.18 375.85V385.35M257.18 385.35H263.18" stroke="#959595" stroke-width="0.55" fill="none"/>
<path d="M265.05 387.73H271.05M268.05 387.73V395.67M265.05 395.67H271.05" stroke="#959595" stroke-width="0.55" fill="none"/>
<path d="M272.92 380.16H278.92M275.92 380.16V389.84M272.92 389.84H278.92" stroke="#959595" stroke-width="0.55" fill="none"/>
<path d="M280.79 370H286.79M283.79 370V380.8M280.79 380.8H286.79" stroke="#959595" stroke-width="0.55" fill="none"/>
<path d="M288.66 388.5H294.66M291.66 388.5V398.7M288.66 398.7H294.66" stroke="#959595" stroke-width="0.55" fill="none"/>
<path d="M296.53 381.61H302.53M299.53 381.61V390.39M296.53 390.39H302.53" stroke="#959595" stroke-width="0.55" fill="none"/>
<path d="M304.4 367.3H310.4M307.4 367.3V375.9M304.4 375.9H310.4" stroke="#959595" stroke-width="0.55" fill="none"/>
<path d="M312.27 373.1H318.27M315.27 373.1V380.5M312.27 380.5H318.27" stroke="#959595" stroke-width="0.55" fill="none"/>
<path d="M320.14 364.66H326.14M323.14 364.66V374.74M320.14 374.74H326.14" stroke="#959595" stroke-width="0.55" fill="none"/>
<path d="M328.01 361.08H334.01M331.01 361.08V368.72M328.01 368.72H334.01" stroke="#959595" stroke-width="0.55" fill="none"/>
<path d="M335.88 365.76H341.88M338.88 365.76V373.64M335.88 373.64H341.88" stroke="#959595" stroke-width="0.55" fill="none"/>
<path d="M343.75 367.83H349.75M346.75 367.83V374.97M343.75 374.97H349.75" stroke="#959595" stroke-width="0.55" fill="none"/>
<path d="M351.62 380.27H357.62M354.62 380.27V387.93M351.62 387.93H357.62" stroke="#959595" stroke-width="0.55" fill="none"/>
<path d="M359.49 381.73H365.49M362.49 381.73V390.27M359.49 390.27H365.49" stroke="#959595" stroke-width="0.55" fill="none"/>
<path d="M367.36 379.05H373.36M370.36 379.05V387.95M367.36 387.95H373.36" stroke="#959595" stroke-width="0.55" fill="none"/>
<path d="M375.23 363.95H381.23M378.23 363.95V371.65M375.23 371.65H381.23" stroke="#959595" stroke-width="0.55" fill="none"/>
<path d="M383.1 378.75H389.1M386.1 378.75V387.45M383.1 387.45H389.1" stroke="#959595" stroke-width="0.55" fill="none"/>
<path d="M390.97 389.38H396.97M393.97 389.38V399.42M390.97 399.42H396.97" stroke="#959595" stroke-width="0.55" fill="none"/>
<path d="M469.67 421.91H475.67M472.67 421.91V429.29M469.67 429.29H475.67" stroke="#959595" stroke-width="0.55" fill="none"/>
<polyline points="71.3,436.6 79.17,437 87.04,434" fill="none" stroke="#2a97e0" stroke-width="1.35" stroke-linejoin="round"/>
<polyline points="102.78,442.3 110.65,434.6" fill="none" stroke="#2a97e0" stroke-width="1.35" stroke-linejoin="round"/>
<polyline points="118.52,443.6 126.39,438.7 134.26,438.2" fill="none" stroke="#2a97e0" stroke-width="1.35" stroke-linejoin="round"/>
<polyline points="205.09,437 212.96,433.6 220.83,433.6 228.7,435.1 236.57,433.6 244.44,431.9 252.31,436.1 260.18,431.3 268.05,435.1 275.92,431.3 283.79,426.5 291.66,431.9 299.53,428.1 307.4,421.7 315.27,425.2 323.14,421.7 331.01,421.4 338.88,421.4 346.75,421.7 354.62,427.1 362.49,427.1 370.36,427.5 378.23,422.7 386.1,428.1 393.97,432.3" fill="none" stroke="#2a97e0" stroke-width="1.35" stroke-linejoin="round"/>
<polyline points="71.3,432.5 79.17,433.5 87.04,428" fill="none" stroke="#2a97e0" stroke-width="1.35" stroke-linejoin="round"/>
<polyline points="102.78,434.5 110.65,419" fill="none" stroke="#2a97e0" stroke-width="1.35" stroke-linejoin="round"/>
<polyline points="118.52,434 126.39,419.5 134.26,418" fill="none" stroke="#2a97e0" stroke-width="1.35" stroke-linejoin="round"/>
<polyline points="205.09,420.4 212.96,415 220.83,416 228.7,417.9 236.57,415.6 244.44,413.1 252.31,419.8 260.18,413.5 268.05,420.2 275.92,413.1 283.79,408.4 291.66,419.8 299.53,414.1 307.4,408 315.27,413.1 323.14,409.9 331.01,408.4 338.88,408.7 346.75,408.4 354.62,414.7 362.49,419.8 370.36,417.3 378.23,410.8 386.1,416.6 393.97,424.2" fill="none" stroke="#2a97e0" stroke-width="1.35" stroke-linejoin="round"/>
<polyline points="71.3,445.2 79.17,445.2 87.04,444" fill="none" stroke="#f1b12a" stroke-width="1.35" stroke-linejoin="round"/>
<polyline points="102.78,446.8 110.65,441.8" fill="none" stroke="#f1b12a" stroke-width="1.35" stroke-linejoin="round"/>
<polyline points="118.52,447.2 126.39,442.7 134.26,442.7" fill="none" stroke="#f1b12a" stroke-width="1.35" stroke-linejoin="round"/>
<polyline points="205.09,444.1 212.96,442.2 220.83,441.8 228.7,441.8 236.57,439.5 244.44,439.9 252.31,441.4 260.18,438.4 268.05,441.4 275.92,438 283.79,436.1 291.66,441.4 299.53,439 307.4,436.1 315.27,438.4 323.14,436.1 331.01,436.1 338.88,436.5 346.75,437 354.62,438.4 362.49,438 370.36,438.4 378.23,436.1 386.1,437.6 393.97,439.9" fill="none" stroke="#f1b12a" stroke-width="1.35" stroke-linejoin="round"/>
<polyline points="71.3,440 79.17,440.5 87.04,437.5" fill="none" stroke="#f1b12a" stroke-width="1.35" stroke-linejoin="round"/>
<polyline points="102.78,440 110.65,434.6" fill="none" stroke="#f1b12a" stroke-width="1.35" stroke-linejoin="round"/>
<polyline points="118.52,441 126.39,434.6 134.26,433.7" fill="none" stroke="#f1b12a" stroke-width="1.35" stroke-linejoin="round"/>
<polyline points="205.09,435.1 212.96,432.6 220.83,433.2 228.7,433.2 236.57,432.3 244.44,431.9 252.31,433.6 260.18,429.4 268.05,433.6 275.92,428.4 283.79,424.2 291.66,432.6 299.53,428.4 307.4,423.1 315.27,428.1 323.14,427.1 331.01,427.1 338.88,427.5 346.75,428.4 354.62,431.9 362.49,431.3 370.36,432.3 378.23,427.5 386.1,431.3 393.97,436.1" fill="none" stroke="#f1b12a" stroke-width="1.35" stroke-linejoin="round"/>
<polyline points="71.3,429.4 79.17,429.4 87.04,428.4" fill="none" stroke="#f1b12a" stroke-width="1.35" stroke-linejoin="round"/>
<polyline points="102.78,436.4 110.65,420.2" fill="none" stroke="#f1b12a" stroke-width="1.35" stroke-linejoin="round"/>
<polyline points="118.52,436.4 126.39,421.1 134.26,419.3" fill="none" stroke="#f1b12a" stroke-width="1.35" stroke-linejoin="round"/>
<polyline points="205.09,410.8 212.96,401.7 220.83,400.7 228.7,400.3 236.57,401.7 244.44,395.9 252.31,406.8 260.18,398.8 268.05,408.7 275.92,402 283.79,391.5 291.66,405.5 299.53,399.7 307.4,385.4 315.27,391.5 323.14,387.3 331.01,388.8 338.88,391.5 346.75,395.9 354.62,404 362.49,404.5 370.36,407 378.23,403.2 386.1,409.3 393.97,418.3" fill="none" stroke="#f1b12a" stroke-width="1.35" stroke-linejoin="round"/>
<polyline points="71.3,413.8 79.17,412.7 87.04,406.1" fill="none" stroke="#2a97e0" stroke-width="1.35" stroke-linejoin="round"/>
<polyline points="102.78,421.4 110.65,396.8" fill="none" stroke="#2a97e0" stroke-width="1.35" stroke-linejoin="round"/>
<polyline points="118.52,419.8 126.39,401.3 134.26,397.7" fill="none" stroke="#2a97e0" stroke-width="1.35" stroke-linejoin="round"/>
<polyline points="205.09,397.4 212.96,387.9 220.83,387.3 228.7,386.3 236.57,385.4 244.44,379.1 252.31,389.8 260.18,380.6 268.05,391.7 275.92,385 283.79,375.4 291.66,393.6 299.53,386 307.4,371.6 315.27,376.8 323.14,369.7 331.01,364.9 338.88,369.7 346.75,371.4 354.62,384.1 362.49,386 370.36,383.5 378.23,367.8 386.1,383.1 393.97,394.4" fill="none" stroke="#2a97e0" stroke-width="1.35" stroke-linejoin="round"/>
<path d="M401.84 428.34L404.3 430.8L401.84 433.26L399.38 430.8Z" fill="#136cc0" stroke="#1a1a1a" stroke-width="0.6"/>
<path d="M71.3 434.14L73.76 436.6L71.3 439.06L68.84 436.6Z" fill="#136cc0" stroke="#1a1a1a" stroke-width="0.6"/>
<path d="M79.17 434.54L81.63 437L79.17 439.46L76.71 437Z" fill="#136cc0" stroke="#1a1a1a" stroke-width="0.6"/>
<path d="M87.04 431.54L89.5 434L87.04 436.46L84.58 434Z" fill="#136cc0" stroke="#1a1a1a" stroke-width="0.6"/>
<path d="M94.91 431.54L97.37 434L94.91 436.46L92.45 434Z" fill="#136cc0" stroke="#1a1a1a" stroke-width="0.6"/>
<path d="M102.78 439.84L105.24 442.3L102.78 444.76L100.32 442.3Z" fill="#136cc0" stroke="#1a1a1a" stroke-width="0.6"/>
<path d="M110.65 432.14L113.11 434.6L110.65 437.06L108.19 434.6Z" fill="#136cc0" stroke="#1a1a1a" stroke-width="0.6"/>
<path d="M118.52 441.14L120.98 443.6L118.52 446.06L116.06 443.6Z" fill="#136cc0" stroke="#1a1a1a" stroke-width="0.6"/>
<path d="M126.39 436.24L128.85 438.7L126.39 441.16L123.93 438.7Z" fill="#136cc0" stroke="#1a1a1a" stroke-width="0.6"/>
<path d="M134.26 435.74L136.72 438.2L134.26 440.66L131.8 438.2Z" fill="#136cc0" stroke="#1a1a1a" stroke-width="0.6"/>
<path d="M142.13 437.54L144.59 440L142.13 442.46L139.67 440Z" fill="#136cc0" stroke="#1a1a1a" stroke-width="0.6"/>
<path d="M205.09 434.54L207.55 437L205.09 439.46L202.63 437Z" fill="#136cc0" stroke="#1a1a1a" stroke-width="0.6"/>
<path d="M212.96 431.14L215.42 433.6L212.96 436.06L210.5 433.6Z" fill="#136cc0" stroke="#1a1a1a" stroke-width="0.6"/>
<path d="M220.83 431.14L223.29 433.6L220.83 436.06L218.37 433.6Z" fill="#136cc0" stroke="#1a1a1a" stroke-width="0.6"/>
<path d="M228.7 432.64L231.16 435.1L228.7 437.56L226.24 435.1Z" fill="#136cc0" stroke="#1a1a1a" stroke-width="0.6"/>
<path d="M236.57 431.14L239.03 433.6L236.57 436.06L234.11 433.6Z" fill="#136cc0" stroke="#1a1a1a" stroke-width="0.6"/>
<path d="M244.44 429.44L246.9 431.9L244.44 434.36L241.98 431.9Z" fill="#136cc0" stroke="#1a1a1a" stroke-width="0.6"/>
<path d="M252.31 433.64L254.77 436.1L252.31 438.56L249.85 436.1Z" fill="#136cc0" stroke="#1a1a1a" stroke-width="0.6"/>
<path d="M260.18 428.84L262.64 431.3L260.18 433.76L257.72 431.3Z" fill="#136cc0" stroke="#1a1a1a" stroke-width="0.6"/>
<path d="M268.05 432.64L270.51 435.1L268.05 437.56L265.59 435.1Z" fill="#136cc0" stroke="#1a1a1a" stroke-width="0.6"/>
<path d="M275.92 428.84L278.38 431.3L275.92 433.76L273.46 431.3Z" fill="#136cc0" stroke="#1a1a1a" stroke-width="0.6"/>
<path d="M283.79 424.04L286.25 426.5L283.79 428.96L281.33 426.5Z" fill="#136cc0" stroke="#1a1a1a" stroke-width="0.6"/>
<path d="M291.66 429.44L294.12 431.9L291.66 434.36L289.2 431.9Z" fill="#136cc0" stroke="#1a1a1a" stroke-width="0.6"/>
<path d="M299.53 425.64L301.99 428.1L299.53 430.56L297.07 428.1Z" fill="#136cc0" stroke="#1a1a1a" stroke-width="0.6"/>
<path d="M307.4 419.24L309.86 421.7L307.4 424.16L304.94 421.7Z" fill="#136cc0" stroke="#1a1a1a" stroke-width="0.6"/>
<path d="M315.27 422.74L317.73 425.2L315.27 427.66L312.81 425.2Z" fill="#136cc0" stroke="#1a1a1a" stroke-width="0.6"/>
<path d="M323.14 419.24L325.6 421.7L323.14 424.16L320.68 421.7Z" fill="#136cc0" stroke="#1a1a1a" stroke-width="0.6"/>
<path d="M331.01 418.94L333.47 421.4L331.01 423.86L328.55 421.4Z" fill="#136cc0" stroke="#1a1a1a" stroke-width="0.6"/>
<path d="M338.88 418.94L341.34 421.4L338.88 423.86L336.42 421.4Z" fill="#136cc0" stroke="#1a1a1a" stroke-width="0.6"/>
<path d="M346.75 419.24L349.21 421.7L346.75 424.16L344.29 421.7Z" fill="#136cc0" stroke="#1a1a1a" stroke-width="0.6"/>
<path d="M354.62 424.64L357.08 427.1L354.62 429.56L352.16 427.1Z" fill="#136cc0" stroke="#1a1a1a" stroke-width="0.6"/>
<path d="M362.49 424.64L364.95 427.1L362.49 429.56L360.03 427.1Z" fill="#136cc0" stroke="#1a1a1a" stroke-width="0.6"/>
<path d="M370.36 425.04L372.82 427.5L370.36 429.96L367.9 427.5Z" fill="#136cc0" stroke="#1a1a1a" stroke-width="0.6"/>
<path d="M378.23 420.24L380.69 422.7L378.23 425.16L375.77 422.7Z" fill="#136cc0" stroke="#1a1a1a" stroke-width="0.6"/>
<path d="M386.1 425.64L388.56 428.1L386.1 430.56L383.64 428.1Z" fill="#136cc0" stroke="#1a1a1a" stroke-width="0.6"/>
<path d="M393.97 429.84L396.43 432.3L393.97 434.76L391.51 432.3Z" fill="#136cc0" stroke="#1a1a1a" stroke-width="0.6"/>
<path d="M472.67 437.54L475.13 440L472.67 442.46L470.21 440Z" fill="#136cc0" stroke="#1a1a1a" stroke-width="0.6"/>
<path d="M480.54 437.94L483 440.4L480.54 442.86L478.08 440.4Z" fill="#136cc0" stroke="#1a1a1a" stroke-width="0.6"/>
<rect x="400" y="423.25" width="3.69" height="3.69" fill="#136cc0" stroke="#1a1a1a" stroke-width="0.6"/>
<rect x="69.45" y="430.65" width="3.69" height="3.69" fill="#136cc0" stroke="#1a1a1a" stroke-width="0.6"/>
<rect x="77.33" y="431.65" width="3.69" height="3.69" fill="#136cc0" stroke="#1a1a1a" stroke-width="0.6"/>
<rect x="85.19" y="426.15" width="3.69" height="3.69" fill="#136cc0" stroke="#1a1a1a" stroke-width="0.6"/>
<rect x="93.06" y="426.15" width="3.69" height="3.69" fill="#136cc0" stroke="#1a1a1a" stroke-width="0.6"/>
<rect x="100.94" y="432.65" width="3.69" height="3.69" fill="#136cc0" stroke="#1a1a1a" stroke-width="0.6"/>
<rect x="108.81" y="417.15" width="3.69" height="3.69" fill="#136cc0" stroke="#1a1a1a" stroke-width="0.6"/>
<rect x="116.67" y="432.15" width="3.69" height="3.69" fill="#136cc0" stroke="#1a1a1a" stroke-width="0.6"/>
<rect x="124.55" y="417.65" width="3.69" height="3.69" fill="#136cc0" stroke="#1a1a1a" stroke-width="0.6"/>
<rect x="132.41" y="416.15" width="3.69" height="3.69" fill="#136cc0" stroke="#1a1a1a" stroke-width="0.6"/>
<rect x="140.28" y="420.65" width="3.69" height="3.69" fill="#136cc0" stroke="#1a1a1a" stroke-width="0.6"/>
<rect x="203.24" y="418.55" width="3.69" height="3.69" fill="#136cc0" stroke="#1a1a1a" stroke-width="0.6"/>
<rect x="211.11" y="413.15" width="3.69" height="3.69" fill="#136cc0" stroke="#1a1a1a" stroke-width="0.6"/>
<rect x="218.98" y="414.15" width="3.69" height="3.69" fill="#136cc0" stroke="#1a1a1a" stroke-width="0.6"/>
<rect x="226.85" y="416.05" width="3.69" height="3.69" fill="#136cc0" stroke="#1a1a1a" stroke-width="0.6"/>
<rect x="234.72" y="413.75" width="3.69" height="3.69" fill="#136cc0" stroke="#1a1a1a" stroke-width="0.6"/>
<rect x="242.59" y="411.25" width="3.69" height="3.69" fill="#136cc0" stroke="#1a1a1a" stroke-width="0.6"/>
<rect x="250.47" y="417.95" width="3.69" height="3.69" fill="#136cc0" stroke="#1a1a1a" stroke-width="0.6"/>
<rect x="258.33" y="411.65" width="3.69" height="3.69" fill="#136cc0" stroke="#1a1a1a" stroke-width="0.6"/>
<rect x="266.2" y="418.35" width="3.69" height="3.69" fill="#136cc0" stroke="#1a1a1a" stroke-width="0.6"/>
<rect x="274.07" y="411.25" width="3.69" height="3.69" fill="#136cc0" stroke="#1a1a1a" stroke-width="0.6"/>
<rect x="281.94" y="406.55" width="3.69" height="3.69" fill="#136cc0" stroke="#1a1a1a" stroke-width="0.6"/>
<rect x="289.81" y="417.95" width="3.69" height="3.69" fill="#136cc0" stroke="#1a1a1a" stroke-width="0.6"/>
<rect x="297.68" y="412.25" width="3.69" height="3.69" fill="#136cc0" stroke="#1a1a1a" stroke-width="0.6"/>
<rect x="305.55" y="406.15" width="3.69" height="3.69" fill="#136cc0" stroke="#1a1a1a" stroke-width="0.6"/>
<rect x="313.42" y="411.25" width="3.69" height="3.69" fill="#136cc0" stroke="#1a1a1a" stroke-width="0.6"/>
<rect x="321.29" y="408.05" width="3.69" height="3.69" fill="#136cc0" stroke="#1a1a1a" stroke-width="0.6"/>
<rect x="329.16" y="406.55" width="3.69" height="3.69" fill="#136cc0" stroke="#1a1a1a" stroke-width="0.6"/>
<rect x="337.03" y="406.85" width="3.69" height="3.69" fill="#136cc0" stroke="#1a1a1a" stroke-width="0.6"/>
<rect x="344.9" y="406.55" width="3.69" height="3.69" fill="#136cc0" stroke="#1a1a1a" stroke-width="0.6"/>
<rect x="352.77" y="412.85" width="3.69" height="3.69" fill="#136cc0" stroke="#1a1a1a" stroke-width="0.6"/>
<rect x="360.64" y="417.95" width="3.69" height="3.69" fill="#136cc0" stroke="#1a1a1a" stroke-width="0.6"/>
<rect x="368.51" y="415.45" width="3.69" height="3.69" fill="#136cc0" stroke="#1a1a1a" stroke-width="0.6"/>
<rect x="376.38" y="408.95" width="3.69" height="3.69" fill="#136cc0" stroke="#1a1a1a" stroke-width="0.6"/>
<rect x="384.25" y="414.75" width="3.69" height="3.69" fill="#136cc0" stroke="#1a1a1a" stroke-width="0.6"/>
<rect x="392.12" y="422.35" width="3.69" height="3.69" fill="#136cc0" stroke="#1a1a1a" stroke-width="0.6"/>
<rect x="470.82" y="434.55" width="3.69" height="3.69" fill="#136cc0" stroke="#1a1a1a" stroke-width="0.6"/>
<path d="M401.84 438.24L404.3 440.7L401.84 443.16L399.38 440.7Z" fill="#f5a30a" stroke="#1a1a1a" stroke-width="0.6"/>
<path d="M71.3 442.74L73.76 445.2L71.3 447.66L68.84 445.2Z" fill="#f5a30a" stroke="#1a1a1a" stroke-width="0.6"/>
<path d="M79.17 442.74L81.63 445.2L79.17 447.66L76.71 445.2Z" fill="#f5a30a" stroke="#1a1a1a" stroke-width="0.6"/>
<path d="M87.04 441.54L89.5 444L87.04 446.46L84.58 444Z" fill="#f5a30a" stroke="#1a1a1a" stroke-width="0.6"/>
<path d="M94.91 441.54L97.37 444L94.91 446.46L92.45 444Z" fill="#f5a30a" stroke="#1a1a1a" stroke-width="0.6"/>
<path d="M102.78 444.34L105.24 446.8L102.78 449.26L100.32 446.8Z" fill="#f5a30a" stroke="#1a1a1a" stroke-width="0.6"/>
<path d="M110.65 439.34L113.11 441.8L110.65 444.26L108.19 441.8Z" fill="#f5a30a" stroke="#1a1a1a" stroke-width="0.6"/>
<path d="M118.52 444.74L120.98 447.2L118.52 449.66L116.06 447.2Z" fill="#f5a30a" stroke="#1a1a1a" stroke-width="0.6"/>
<path d="M126.39 440.24L128.85 442.7L126.39 445.16L123.93 442.7Z" fill="#f5a30a" stroke="#1a1a1a" stroke-width="0.6"/>
<path d="M134.26 440.24L136.72 442.7L134.26 445.16L131.8 442.7Z" fill="#f5a30a" stroke="#1a1a1a" stroke-width="0.6"/>
<path d="M142.13 441.14L144.59 443.6L142.13 446.06L139.67 443.6Z" fill="#f5a30a" stroke="#1a1a1a" stroke-width="0.6"/>
<path d="M205.09 441.64L207.55 444.1L205.09 446.56L202.63 444.1Z" fill="#f5a30a" stroke="#1a1a1a" stroke-width="0.6"/>
<path d="M212.96 439.74L215.42 442.2L212.96 444.66L210.5 442.2Z" fill="#f5a30a" stroke="#1a1a1a" stroke-width="0.6"/>
<path d="M220.83 439.34L223.29 441.8L220.83 444.26L218.37 441.8Z" fill="#f5a30a" stroke="#1a1a1a" stroke-width="0.6"/>
<path d="M228.7 439.34L231.16 441.8L228.7 444.26L226.24 441.8Z" fill="#f5a30a" stroke="#1a1a1a" stroke-width="0.6"/>
<path d="M236.57 437.04L239.03 439.5L236.57 441.96L234.11 439.5Z" fill="#f5a30a" stroke="#1a1a1a" stroke-width="0.6"/>
<path d="M244.44 437.44L246.9 439.9L244.44 442.36L241.98 439.9Z" fill="#f5a30a" stroke="#1a1a1a" stroke-width="0.6"/>
<path d="M252.31 438.94L254.77 441.4L252.31 443.86L249.85 441.4Z" fill="#f5a30a" stroke="#1a1a1a" stroke-width="0.6"/>
<path d="M260.18 435.94L262.64 438.4L260.18 440.86L257.72 438.4Z" fill="#f5a30a" stroke="#1a1a1a" stroke-width="0.6"/>
<path d="M268.05 438.94L270.51 441.4L268.05 443.86L265.59 441.4Z" fill="#f5a30a" stroke="#1a1a1a" stroke-width="0.6"/>
<path d="M275.92 435.54L278.38 438L275.92 440.46L273.46 438Z" fill="#f5a30a" stroke="#1a1a1a" stroke-width="0.6"/>
<path d="M283.79 433.64L286.25 436.1L283.79 438.56L281.33 436.1Z" fill="#f5a30a" stroke="#1a1a1a" stroke-width="0.6"/>
<path d="M291.66 438.94L294.12 441.4L291.66 443.86L289.2 441.4Z" fill="#f5a30a" stroke="#1a1a1a" stroke-width="0.6"/>
<path d="M299.53 436.54L301.99 439L299.53 441.46L297.07 439Z" fill="#f5a30a" stroke="#1a1a1a" stroke-width="0.6"/>
<path d="M307.4 433.64L309.86 436.1L307.4 438.56L304.94 436.1Z" fill="#f5a30a" stroke="#1a1a1a" stroke-width="0.6"/>
<path d="M315.27 435.94L317.73 438.4L315.27 440.86L312.81 438.4Z" fill="#f5a30a" stroke="#1a1a1a" stroke-width="0.6"/>
<path d="M323.14 433.64L325.6 436.1L323.14 438.56L320.68 436.1Z" fill="#f5a30a" stroke="#1a1a1a" stroke-width="0.6"/>
<path d="M331.01 433.64L333.47 436.1L331.01 438.56L328.55 436.1Z" fill="#f5a30a" stroke="#1a1a1a" stroke-width="0.6"/>
<path d="M338.88 434.04L341.34 436.5L338.88 438.96L336.42 436.5Z" fill="#f5a30a" stroke="#1a1a1a" stroke-width="0.6"/>
<path d="M346.75 434.54L349.21 437L346.75 439.46L344.29 437Z" fill="#f5a30a" stroke="#1a1a1a" stroke-width="0.6"/>
<path d="M354.62 435.94L357.08 438.4L354.62 440.86L352.16 438.4Z" fill="#f5a30a" stroke="#1a1a1a" stroke-width="0.6"/>
<path d="M362.49 435.54L364.95 438L362.49 440.46L360.03 438Z" fill="#f5a30a" stroke="#1a1a1a" stroke-width="0.6"/>
<path d="M370.36 435.94L372.82 438.4L370.36 440.86L367.9 438.4Z" fill="#f5a30a" stroke="#1a1a1a" stroke-width="0.6"/>
<path d="M378.23 433.64L380.69 436.1L378.23 438.56L375.77 436.1Z" fill="#f5a30a" stroke="#1a1a1a" stroke-width="0.6"/>
<path d="M386.1 435.14L388.56 437.6L386.1 440.06L383.64 437.6Z" fill="#f5a30a" stroke="#1a1a1a" stroke-width="0.6"/>
<path d="M393.97 437.44L396.43 439.9L393.97 442.36L391.51 439.9Z" fill="#f5a30a" stroke="#1a1a1a" stroke-width="0.6"/>
<path d="M472.67 441.44L475.13 443.9L472.67 446.36L470.21 443.9Z" fill="#f5a30a" stroke="#1a1a1a" stroke-width="0.6"/>
<path d="M480.54 445.64L483 448.1L480.54 450.56L478.08 448.1Z" fill="#f5a30a" stroke="#1a1a1a" stroke-width="0.6"/>
<circle cx="401.84" cy="435.9" r="2.05" fill="#f5a30a" stroke="#1a1a1a" stroke-width="0.6"/>
<circle cx="71.3" cy="440" r="2.05" fill="#f5a30a" stroke="#1a1a1a" stroke-width="0.6"/>
<circle cx="79.17" cy="440.5" r="2.05" fill="#f5a30a" stroke="#1a1a1a" stroke-width="0.6"/>
<circle cx="87.04" cy="437.5" r="2.05" fill="#f5a30a" stroke="#1a1a1a" stroke-width="0.6"/>
<circle cx="94.91" cy="437.5" r="2.05" fill="#f5a30a" stroke="#1a1a1a" stroke-width="0.6"/>
<circle cx="102.78" cy="440" r="2.05" fill="#f5a30a" stroke="#1a1a1a" stroke-width="0.6"/>
<circle cx="110.65" cy="434.6" r="2.05" fill="#f5a30a" stroke="#1a1a1a" stroke-width="0.6"/>
<circle cx="118.52" cy="441" r="2.05" fill="#f5a30a" stroke="#1a1a1a" stroke-width="0.6"/>
<circle cx="126.39" cy="434.6" r="2.05" fill="#f5a30a" stroke="#1a1a1a" stroke-width="0.6"/>
<circle cx="134.26" cy="433.7" r="2.05" fill="#f5a30a" stroke="#1a1a1a" stroke-width="0.6"/>
<circle cx="142.13" cy="435.5" r="2.05" fill="#f5a30a" stroke="#1a1a1a" stroke-width="0.6"/>
<circle cx="205.09" cy="435.1" r="2.05" fill="#f5a30a" stroke="#1a1a1a" stroke-width="0.6"/>
<circle cx="212.96" cy="432.6" r="2.05" fill="#f5a30a" stroke="#1a1a1a" stroke-width="0.6"/>
<circle cx="220.83" cy="433.2" r="2.05" fill="#f5a30a" stroke="#1a1a1a" stroke-width="0.6"/>
<circle cx="228.7" cy="433.2" r="2.05" fill="#f5a30a" stroke="#1a1a1a" stroke-width="0.6"/>
<circle cx="236.57" cy="432.3" r="2.05" fill="#f5a30a" stroke="#1a1a1a" stroke-width="0.6"/>
<circle cx="244.44" cy="431.9" r="2.05" fill="#f5a30a" stroke="#1a1a1a" stroke-width="0.6"/>
<circle cx="252.31" cy="433.6" r="2.05" fill="#f5a30a" stroke="#1a1a1a" stroke-width="0.6"/>
<circle cx="260.18" cy="429.4" r="2.05" fill="#f5a30a" stroke="#1a1a1a" stroke-width="0.6"/>
<circle cx="268.05" cy="433.6" r="2.05" fill="#f5a30a" stroke="#1a1a1a" stroke-width="0.6"/>
<circle cx="275.92" cy="428.4" r="2.05" fill="#f5a30a" stroke="#1a1a1a" stroke-width="0.6"/>
<circle cx="283.79" cy="424.2" r="2.05" fill="#f5a30a" stroke="#1a1a1a" stroke-width="0.6"/>
<circle cx="291.66" cy="432.6" r="2.05" fill="#f5a30a" stroke="#1a1a1a" stroke-width="0.6"/>
<circle cx="299.53" cy="428.4" r="2.05" fill="#f5a30a" stroke="#1a1a1a" stroke-width="0.6"/>
<circle cx="307.4" cy="423.1" r="2.05" fill="#f5a30a" stroke="#1a1a1a" stroke-width="0.6"/>
<circle cx="315.27" cy="428.1" r="2.05" fill="#f5a30a" stroke="#1a1a1a" stroke-width="0.6"/>
<circle cx="323.14" cy="427.1" r="2.05" fill="#f5a30a" stroke="#1a1a1a" stroke-width="0.6"/>
<circle cx="331.01" cy="427.1" r="2.05" fill="#f5a30a" stroke="#1a1a1a" stroke-width="0.6"/>
<circle cx="338.88" cy="427.5" r="2.05" fill="#f5a30a" stroke="#1a1a1a" stroke-width="0.6"/>
<circle cx="346.75" cy="428.4" r="2.05" fill="#f5a30a" stroke="#1a1a1a" stroke-width="0.6"/>
<circle cx="354.62" cy="431.9" r="2.05" fill="#f5a30a" stroke="#1a1a1a" stroke-width="0.6"/>
<circle cx="362.49" cy="431.3" r="2.05" fill="#f5a30a" stroke="#1a1a1a" stroke-width="0.6"/>
<circle cx="370.36" cy="432.3" r="2.05" fill="#f5a30a" stroke="#1a1a1a" stroke-width="0.6"/>
<circle cx="378.23" cy="427.5" r="2.05" fill="#f5a30a" stroke="#1a1a1a" stroke-width="0.6"/>
<circle cx="386.1" cy="431.3" r="2.05" fill="#f5a30a" stroke="#1a1a1a" stroke-width="0.6"/>
<circle cx="393.97" cy="436.1" r="2.05" fill="#f5a30a" stroke="#1a1a1a" stroke-width="0.6"/>
<circle cx="472.67" cy="437.3" r="2.05" fill="#f5a30a" stroke="#1a1a1a" stroke-width="0.6"/>
<circle cx="480.54" cy="442.7" r="2.05" fill="#f5a30a" stroke="#1a1a1a" stroke-width="0.6"/>
<rect x="400" y="417.85" width="3.69" height="3.69" fill="#f5a30a" stroke="#1a1a1a" stroke-width="0.6"/>
<rect x="69.45" y="427.55" width="3.69" height="3.69" fill="#f5a30a" stroke="#1a1a1a" stroke-width="0.6"/>
<rect x="77.33" y="427.55" width="3.69" height="3.69" fill="#f5a30a" stroke="#1a1a1a" stroke-width="0.6"/>
<rect x="85.19" y="426.55" width="3.69" height="3.69" fill="#f5a30a" stroke="#1a1a1a" stroke-width="0.6"/>
<rect x="93.06" y="426.55" width="3.69" height="3.69" fill="#f5a30a" stroke="#1a1a1a" stroke-width="0.6"/>
<rect x="100.94" y="434.55" width="3.69" height="3.69" fill="#f5a30a" stroke="#1a1a1a" stroke-width="0.6"/>
<rect x="108.81" y="418.35" width="3.69" height="3.69" fill="#f5a30a" stroke="#1a1a1a" stroke-width="0.6"/>
<rect x="116.67" y="434.55" width="3.69" height="3.69" fill="#f5a30a" stroke="#1a1a1a" stroke-width="0.6"/>
<rect x="124.55" y="419.25" width="3.69" height="3.69" fill="#f5a30a" stroke="#1a1a1a" stroke-width="0.6"/>
<rect x="132.41" y="417.45" width="3.69" height="3.69" fill="#f5a30a" stroke="#1a1a1a" stroke-width="0.6"/>
<rect x="140.28" y="421.55" width="3.69" height="3.69" fill="#f5a30a" stroke="#1a1a1a" stroke-width="0.6"/>
<rect x="203.24" y="408.95" width="3.69" height="3.69" fill="#f5a30a" stroke="#1a1a1a" stroke-width="0.6"/>
<rect x="211.11" y="399.85" width="3.69" height="3.69" fill="#f5a30a" stroke="#1a1a1a" stroke-width="0.6"/>
<rect x="218.98" y="398.85" width="3.69" height="3.69" fill="#f5a30a" stroke="#1a1a1a" stroke-width="0.6"/>
<rect x="226.85" y="398.45" width="3.69" height="3.69" fill="#f5a30a" stroke="#1a1a1a" stroke-width="0.6"/>
<rect x="234.72" y="399.85" width="3.69" height="3.69" fill="#f5a30a" stroke="#1a1a1a" stroke-width="0.6"/>
<rect x="242.59" y="394.05" width="3.69" height="3.69" fill="#f5a30a" stroke="#1a1a1a" stroke-width="0.6"/>
<rect x="250.47" y="404.95" width="3.69" height="3.69" fill="#f5a30a" stroke="#1a1a1a" stroke-width="0.6"/>
<rect x="258.33" y="396.95" width="3.69" height="3.69" fill="#f5a30a" stroke="#1a1a1a" stroke-width="0.6"/>
<rect x="266.2" y="406.85" width="3.69" height="3.69" fill="#f5a30a" stroke="#1a1a1a" stroke-width="0.6"/>
<rect x="274.07" y="400.15" width="3.69" height="3.69" fill="#f5a30a" stroke="#1a1a1a" stroke-width="0.6"/>
<rect x="281.94" y="389.65" width="3.69" height="3.69" fill="#f5a30a" stroke="#1a1a1a" stroke-width="0.6"/>
<rect x="289.81" y="403.65" width="3.69" height="3.69" fill="#f5a30a" stroke="#1a1a1a" stroke-width="0.6"/>
<rect x="297.68" y="397.85" width="3.69" height="3.69" fill="#f5a30a" stroke="#1a1a1a" stroke-width="0.6"/>
<rect x="305.55" y="383.55" width="3.69" height="3.69" fill="#f5a30a" stroke="#1a1a1a" stroke-width="0.6"/>
<rect x="313.42" y="389.65" width="3.69" height="3.69" fill="#f5a30a" stroke="#1a1a1a" stroke-width="0.6"/>
<rect x="321.29" y="385.45" width="3.69" height="3.69" fill="#f5a30a" stroke="#1a1a1a" stroke-width="0.6"/>
<rect x="329.16" y="386.95" width="3.69" height="3.69" fill="#f5a30a" stroke="#1a1a1a" stroke-width="0.6"/>
<rect x="337.03" y="389.65" width="3.69" height="3.69" fill="#f5a30a" stroke="#1a1a1a" stroke-width="0.6"/>
<rect x="344.9" y="394.05" width="3.69" height="3.69" fill="#f5a30a" stroke="#1a1a1a" stroke-width="0.6"/>
<rect x="352.77" y="402.15" width="3.69" height="3.69" fill="#f5a30a" stroke="#1a1a1a" stroke-width="0.6"/>
<rect x="360.64" y="402.65" width="3.69" height="3.69" fill="#f5a30a" stroke="#1a1a1a" stroke-width="0.6"/>
<rect x="368.51" y="405.15" width="3.69" height="3.69" fill="#f5a30a" stroke="#1a1a1a" stroke-width="0.6"/>
<rect x="376.38" y="401.35" width="3.69" height="3.69" fill="#f5a30a" stroke="#1a1a1a" stroke-width="0.6"/>
<rect x="384.25" y="407.45" width="3.69" height="3.69" fill="#f5a30a" stroke="#1a1a1a" stroke-width="0.6"/>
<rect x="392.12" y="416.45" width="3.69" height="3.69" fill="#f5a30a" stroke="#1a1a1a" stroke-width="0.6"/>
<rect x="470.82" y="420.95" width="3.69" height="3.69" fill="#f5a30a" stroke="#1a1a1a" stroke-width="0.6"/>
<rect x="478.69" y="443.25" width="3.69" height="3.69" fill="#f5a30a" stroke="#1a1a1a" stroke-width="0.6"/>
<circle cx="401.84" cy="395.3" r="2.05" fill="#136cc0" stroke="#1a1a1a" stroke-width="0.6"/>
<circle cx="71.3" cy="413.8" r="2.05" fill="#136cc0" stroke="#1a1a1a" stroke-width="0.6"/>
<circle cx="79.17" cy="412.7" r="2.05" fill="#136cc0" stroke="#1a1a1a" stroke-width="0.6"/>
<circle cx="87.04" cy="406.1" r="2.05" fill="#136cc0" stroke="#1a1a1a" stroke-width="0.6"/>
<circle cx="94.91" cy="411.4" r="2.05" fill="#136cc0" stroke="#1a1a1a" stroke-width="0.6"/>
<circle cx="102.78" cy="421.4" r="2.05" fill="#136cc0" stroke="#1a1a1a" stroke-width="0.6"/>
<circle cx="110.65" cy="396.8" r="2.05" fill="#136cc0" stroke="#1a1a1a" stroke-width="0.6"/>
<circle cx="118.52" cy="419.8" r="2.05" fill="#136cc0" stroke="#1a1a1a" stroke-width="0.6"/>
<circle cx="126.39" cy="401.3" r="2.05" fill="#136cc0" stroke="#1a1a1a" stroke-width="0.6"/>
<circle cx="134.26" cy="397.7" r="2.05" fill="#136cc0" stroke="#1a1a1a" stroke-width="0.6"/>
<circle cx="142.13" cy="399.5" r="2.05" fill="#136cc0" stroke="#1a1a1a" stroke-width="0.6"/>
<circle cx="205.09" cy="397.4" r="2.05" fill="#136cc0" stroke="#1a1a1a" stroke-width="0.6"/>
<circle cx="212.96" cy="387.9" r="2.05" fill="#136cc0" stroke="#1a1a1a" stroke-width="0.6"/>
<circle cx="220.83" cy="387.3" r="2.05" fill="#136cc0" stroke="#1a1a1a" stroke-width="0.6"/>
<circle cx="228.7" cy="386.3" r="2.05" fill="#136cc0" stroke="#1a1a1a" stroke-width="0.6"/>
<circle cx="236.57" cy="385.4" r="2.05" fill="#136cc0" stroke="#1a1a1a" stroke-width="0.6"/>
<circle cx="244.44" cy="379.1" r="2.05" fill="#136cc0" stroke="#1a1a1a" stroke-width="0.6"/>
<circle cx="252.31" cy="389.8" r="2.05" fill="#136cc0" stroke="#1a1a1a" stroke-width="0.6"/>
<circle cx="260.18" cy="380.6" r="2.05" fill="#136cc0" stroke="#1a1a1a" stroke-width="0.6"/>
<circle cx="268.05" cy="391.7" r="2.05" fill="#136cc0" stroke="#1a1a1a" stroke-width="0.6"/>
<circle cx="275.92" cy="385" r="2.05" fill="#136cc0" stroke="#1a1a1a" stroke-width="0.6"/>
<circle cx="283.79" cy="375.4" r="2.05" fill="#136cc0" stroke="#1a1a1a" stroke-width="0.6"/>
<circle cx="291.66" cy="393.6" r="2.05" fill="#136cc0" stroke="#1a1a1a" stroke-width="0.6"/>
<circle cx="299.53" cy="386" r="2.05" fill="#136cc0" stroke="#1a1a1a" stroke-width="0.6"/>
<circle cx="307.4" cy="371.6" r="2.05" fill="#136cc0" stroke="#1a1a1a" stroke-width="0.6"/>
<circle cx="315.27" cy="376.8" r="2.05" fill="#136cc0" stroke="#1a1a1a" stroke-width="0.6"/>
<circle cx="323.14" cy="369.7" r="2.05" fill="#136cc0" stroke="#1a1a1a" stroke-width="0.6"/>
<circle cx="331.01" cy="364.9" r="2.05" fill="#136cc0" stroke="#1a1a1a" stroke-width="0.6"/>
<circle cx="338.88" cy="369.7" r="2.05" fill="#136cc0" stroke="#1a1a1a" stroke-width="0.6"/>
<circle cx="346.75" cy="371.4" r="2.05" fill="#136cc0" stroke="#1a1a1a" stroke-width="0.6"/>
<circle cx="354.62" cy="384.1" r="2.05" fill="#136cc0" stroke="#1a1a1a" stroke-width="0.6"/>
<circle cx="362.49" cy="386" r="2.05" fill="#136cc0" stroke="#1a1a1a" stroke-width="0.6"/>
<circle cx="370.36" cy="383.5" r="2.05" fill="#136cc0" stroke="#1a1a1a" stroke-width="0.6"/>
<circle cx="378.23" cy="367.8" r="2.05" fill="#136cc0" stroke="#1a1a1a" stroke-width="0.6"/>
<circle cx="386.1" cy="383.1" r="2.05" fill="#136cc0" stroke="#1a1a1a" stroke-width="0.6"/>
<circle cx="393.97" cy="394.4" r="2.05" fill="#136cc0" stroke="#1a1a1a" stroke-width="0.6"/>
<circle cx="472.67" cy="425.6" r="2.05" fill="#136cc0" stroke="#1a1a1a" stroke-width="0.6"/>
<path d="M60.2 452.1V353.7H492.3" fill="none" stroke="#9a9a9a" stroke-width="1.6"/>
<path d="M59.4 452.1H492.3V352.9" fill="none" stroke="#5f5f5f" stroke-width="1.1"/>
<text transform="translate(29.9,402.8) rotate(-90)" text-anchor="middle" font-size="10.0" fill="#000" stroke="#000" stroke-width="0.25">Sap flux (cm<tspan dy="-3.6" font-size="7">3</tspan><tspan dy="3.6"> cm</tspan><tspan dy="-3.6" font-size="7">−2</tspan><tspan dy="3.6"> day</tspan><tspan dy="-3.6" font-size="7">−1</tspan><tspan dy="3.6">)</tspan></text>
<line x1="507.2" y1="365.6" x2="518.8" y2="365.6" stroke="#2a97e0" stroke-width="1"/>
<circle cx="513" cy="365.6" r="1.9" fill="#136cc0" stroke="#1a1a1a" stroke-width="0.6"/>
<text x="525.3" y="369.6" font-size="9.7" fill="#000" class="lg">Downslope</text>
<line x1="507.2" y1="379.8" x2="518.8" y2="379.8" stroke="#f1b12a" stroke-width="1"/>
<circle cx="513" cy="379.8" r="1.9" fill="#f5a30a" stroke="#1a1a1a" stroke-width="0.6"/>
<text x="525.3" y="383.8" font-size="9.7" fill="#000" class="lg">Upslope</text>
<circle cx="512.9" cy="416.6" r="1.9" fill="#fff" stroke="#444" stroke-width="0.8"/>
<text x="525.3" y="420.9" font-size="9.7" fill="#000" class="lg">Large</text>
<rect x="511.19" y="429.19" width="3.42" height="3.42" fill="#fff" stroke="#444" stroke-width="0.8"/>
<text x="525.3" y="435.2" font-size="9.7" fill="#000" class="lg">Medium</text>
<path d="M512.9 442.92L515.18 445.2L512.9 447.48L510.62 445.2Z" fill="#fff" stroke="#444" stroke-width="0.8"/>
<text x="525.3" y="449.5" font-size="9.7" fill="#000" class="lg">Small</text>
<line x1="93.96" y1="470.3" x2="93.96" y2="568.7" stroke="#f3f3f3" stroke-width="0.8"/>
<line x1="128.25" y1="470.3" x2="128.25" y2="568.7" stroke="#f3f3f3" stroke-width="0.8"/>
<line x1="163.09" y1="470.3" x2="163.09" y2="568.7" stroke="#f3f3f3" stroke-width="0.8"/>
<line x1="197.38" y1="470.3" x2="197.38" y2="568.7" stroke="#f3f3f3" stroke-width="0.8"/>
<line x1="231.66" y1="470.3" x2="231.66" y2="568.7" stroke="#f3f3f3" stroke-width="0.8"/>
<line x1="265.95" y1="470.3" x2="265.95" y2="568.7" stroke="#f3f3f3" stroke-width="0.8"/>
<line x1="300.23" y1="470.3" x2="300.23" y2="568.7" stroke="#f3f3f3" stroke-width="0.8"/>
<line x1="335.08" y1="470.3" x2="335.08" y2="568.7" stroke="#f3f3f3" stroke-width="0.8"/>
<line x1="368.24" y1="470.3" x2="368.24" y2="568.7" stroke="#f3f3f3" stroke-width="0.8"/>
<line x1="401.4" y1="470.3" x2="401.4" y2="568.7" stroke="#f3f3f3" stroke-width="0.8"/>
<line x1="435.69" y1="470.3" x2="435.69" y2="568.7" stroke="#f3f3f3" stroke-width="0.8"/>
<line x1="469.97" y1="470.3" x2="469.97" y2="568.7" stroke="#f3f3f3" stroke-width="0.8"/>
<line x1="60.3" y1="556.4" x2="492.3" y2="556.4" stroke="#f3f3f3" stroke-width="0.8"/>
<line x1="60.3" y1="531.8" x2="492.3" y2="531.8" stroke="#f3f3f3" stroke-width="0.8"/>
<line x1="60.3" y1="507.2" x2="492.3" y2="507.2" stroke="#f3f3f3" stroke-width="0.8"/>
<line x1="60.3" y1="482.6" x2="492.3" y2="482.6" stroke="#f3f3f3" stroke-width="0.8"/>
<line x1="77.1" y1="470.3" x2="77.1" y2="568.7" stroke="#ebebeb" stroke-width="1.1"/>
<line x1="110.82" y1="470.3" x2="110.82" y2="568.7" stroke="#ebebeb" stroke-width="1.1"/>
<line x1="145.67" y1="470.3" x2="145.67" y2="568.7" stroke="#ebebeb" stroke-width="1.1"/>
<line x1="180.52" y1="470.3" x2="180.52" y2="568.7" stroke="#ebebeb" stroke-width="1.1"/>
<line x1="214.24" y1="470.3" x2="214.24" y2="568.7" stroke="#ebebeb" stroke-width="1.1"/>
<line x1="249.09" y1="470.3" x2="249.09" y2="568.7" stroke="#ebebeb" stroke-width="1.1"/>
<line x1="282.81" y1="470.3" x2="282.81" y2="568.7" stroke="#ebebeb" stroke-width="1.1"/>
<line x1="317.66" y1="470.3" x2="317.66" y2="568.7" stroke="#ebebeb" stroke-width="1.1"/>
<line x1="352.5" y1="470.3" x2="352.5" y2="568.7" stroke="#ebebeb" stroke-width="1.1"/>
<line x1="383.98" y1="470.3" x2="383.98" y2="568.7" stroke="#ebebeb" stroke-width="1.1"/>
<line x1="418.83" y1="470.3" x2="418.83" y2="568.7" stroke="#ebebeb" stroke-width="1.1"/>
<line x1="452.55" y1="470.3" x2="452.55" y2="568.7" stroke="#ebebeb" stroke-width="1.1"/>
<line x1="487.4" y1="470.3" x2="487.4" y2="568.7" stroke="#ebebeb" stroke-width="1.1"/>
<line x1="60.3" y1="568.7" x2="492.3" y2="568.7" stroke="#ebebeb" stroke-width="1.1"/>
<line x1="60.3" y1="544.1" x2="492.3" y2="544.1" stroke="#ebebeb" stroke-width="1.1"/>
<line x1="60.3" y1="519.5" x2="492.3" y2="519.5" stroke="#ebebeb" stroke-width="1.1"/>
<line x1="60.3" y1="494.9" x2="492.3" y2="494.9" stroke="#ebebeb" stroke-width="1.1"/>
<line x1="60.3" y1="470.3" x2="492.3" y2="470.3" stroke="#ebebeb" stroke-width="1.1"/>
<line x1="77.1" y1="568.7" x2="77.1" y2="571.4" stroke="#4a4a4a" stroke-width="1"/>
<text x="77.1" y="580.3" text-anchor="middle" fill="#3a3a3a" stroke="#3a3a3a" stroke-width="0.18" font-size="9.8">Jun 18</text>
<line x1="110.82" y1="568.7" x2="110.82" y2="571.4" stroke="#4a4a4a" stroke-width="1"/>
<text x="110.82" y="580.3" text-anchor="middle" fill="#3a3a3a" stroke="#3a3a3a" stroke-width="0.18" font-size="9.8">Jul 18</text>
<line x1="145.67" y1="568.7" x2="145.67" y2="571.4" stroke="#4a4a4a" stroke-width="1"/>
<text x="145.67" y="580.3" text-anchor="middle" fill="#3a3a3a" stroke="#3a3a3a" stroke-width="0.18" font-size="9.8">Aug 18</text>
<line x1="180.52" y1="568.7" x2="180.52" y2="571.4" stroke="#4a4a4a" stroke-width="1"/>
<text x="180.52" y="580.3" text-anchor="middle" fill="#3a3a3a" stroke="#3a3a3a" stroke-width="0.18" font-size="9.8">Sep 18</text>
<line x1="214.24" y1="568.7" x2="214.24" y2="571.4" stroke="#4a4a4a" stroke-width="1"/>
<text x="214.24" y="580.3" text-anchor="middle" fill="#3a3a3a" stroke="#3a3a3a" stroke-width="0.18" font-size="9.8">Oct 18</text>
<line x1="249.09" y1="568.7" x2="249.09" y2="571.4" stroke="#4a4a4a" stroke-width="1"/>
<text x="249.09" y="580.3" text-anchor="middle" fill="#3a3a3a" stroke="#3a3a3a" stroke-width="0.18" font-size="9.8">Nov 18</text>
<line x1="282.81" y1="568.7" x2="282.81" y2="571.4" stroke="#4a4a4a" stroke-width="1"/>
<text x="282.81" y="580.3" text-anchor="middle" fill="#3a3a3a" stroke="#3a3a3a" stroke-width="0.18" font-size="9.8">Dec 18</text>
<line x1="317.66" y1="568.7" x2="317.66" y2="571.4" stroke="#4a4a4a" stroke-width="1"/>
<text x="317.66" y="580.3" text-anchor="middle" fill="#3a3a3a" stroke="#3a3a3a" stroke-width="0.18" font-size="9.8">Jan 19</text>
<line x1="352.5" y1="568.7" x2="352.5" y2="571.4" stroke="#4a4a4a" stroke-width="1"/>
<text x="352.5" y="580.3" text-anchor="middle" fill="#3a3a3a" stroke="#3a3a3a" stroke-width="0.18" font-size="9.8">Feb 19</text>
<line x1="383.98" y1="568.7" x2="383.98" y2="571.4" stroke="#4a4a4a" stroke-width="1"/>
<text x="383.98" y="580.3" text-anchor="middle" fill="#3a3a3a" stroke="#3a3a3a" stroke-width="0.18" font-size="9.8">Mar 19</text>
<line x1="418.83" y1="568.7" x2="418.83" y2="571.4" stroke="#4a4a4a" stroke-width="1"/>
<text x="418.83" y="580.3" text-anchor="middle" fill="#3a3a3a" stroke="#3a3a3a" stroke-width="0.18" font-size="9.8">Apr 19</text>
<line x1="452.55" y1="568.7" x2="452.55" y2="571.4" stroke="#4a4a4a" stroke-width="1"/>
<text x="452.55" y="580.3" text-anchor="middle" fill="#3a3a3a" stroke="#3a3a3a" stroke-width="0.18" font-size="9.8">May 19</text>
<line x1="487.4" y1="568.7" x2="487.4" y2="571.4" stroke="#4a4a4a" stroke-width="1"/>
<text x="487.4" y="580.3" text-anchor="middle" fill="#3a3a3a" stroke="#3a3a3a" stroke-width="0.18" font-size="9.8">Jun 19</text>
<line x1="57.6" y1="568.7" x2="60.3" y2="568.7" stroke="#4a4a4a" stroke-width="1"/>
<text x="55.7" y="572.3" text-anchor="end" fill="#3a3a3a" stroke="#3a3a3a" stroke-width="0.18" font-size="9.8">0</text>
<line x1="57.6" y1="544.1" x2="60.3" y2="544.1" stroke="#4a4a4a" stroke-width="1"/>
<text x="55.7" y="547.7" text-anchor="end" fill="#3a3a3a" stroke="#3a3a3a" stroke-width="0.18" font-size="9.8">25</text>
<line x1="57.6" y1="519.5" x2="60.3" y2="519.5" stroke="#4a4a4a" stroke-width="1"/>
<text x="55.7" y="523.1" text-anchor="end" fill="#3a3a3a" stroke="#3a3a3a" stroke-width="0.18" font-size="9.8">50</text>
<line x1="57.6" y1="494.9" x2="60.3" y2="494.9" stroke="#4a4a4a" stroke-width="1"/>
<text x="55.7" y="498.5" text-anchor="end" fill="#3a3a3a" stroke="#3a3a3a" stroke-width="0.18" font-size="9.8">75</text>
<line x1="57.6" y1="470.3" x2="60.3" y2="470.3" stroke="#4a4a4a" stroke-width="1"/>
<text x="55.7" y="473.9" text-anchor="end" fill="#3a3a3a" stroke="#3a3a3a" stroke-width="0.18" font-size="9.8">100</text>
<text x="2" y="480.8" font-weight="bold" font-size="12" fill="#000">E)</text>
<line x1="280.4" y1="568.7" x2="280.4" y2="470.3" stroke="#000" stroke-width="2" stroke-dasharray="6.2 6.4"/>
<line x1="375.1" y1="568.7" x2="375.1" y2="470.3" stroke="#000" stroke-width="2" stroke-dasharray="6.2 6.4"/>
<line x1="469.3" y1="568.7" x2="469.3" y2="470.3" stroke="#000" stroke-width="2" stroke-dasharray="6.2 6.4"/>
<path d="M398.84 517.25H404.84M401.84 517.25V528.75M398.84 528.75H404.84" stroke="#858585" stroke-width="0.55" fill="none"/>
<path d="M68.3 527.52H74.3M71.3 527.52V540.48M68.3 540.48H74.3" stroke="#858585" stroke-width="0.55" fill="none"/>
<path d="M76.17 525.76H82.17M79.17 525.76V542.24M76.17 542.24H82.17" stroke="#858585" stroke-width="0.55" fill="none"/>
<path d="M84.04 525.53H90.04M87.04 525.53V534.47M84.04 534.47H90.04" stroke="#858585" stroke-width="0.55" fill="none"/>
<path d="M91.91 525.26H97.91M94.91 525.26V534.74M91.91 534.74H97.91" stroke="#858585" stroke-width="0.55" fill="none"/>
<path d="M99.78 537.34H105.78M102.78 537.34V544.66M99.78 544.66H105.78" stroke="#858585" stroke-width="0.55" fill="none"/>
<path d="M107.65 515.86H113.65M110.65 515.86V524.14M107.65 524.14H113.65" stroke="#858585" stroke-width="0.55" fill="none"/>
<path d="M115.52 537.45H121.52M118.52 537.45V544.55M115.52 544.55H121.52" stroke="#858585" stroke-width="0.55" fill="none"/>
<path d="M123.39 520.64H129.39M126.39 520.64V529.36M123.39 529.36H129.39" stroke="#858585" stroke-width="0.55" fill="none"/>
<path d="M131.26 515.67H137.26M134.26 515.67V528.33M131.26 528.33H137.26" stroke="#858585" stroke-width="0.55" fill="none"/>
<path d="M139.13 521.06H145.13M142.13 521.06V538.94M139.13 538.94H145.13" stroke="#858585" stroke-width="0.55" fill="none"/>
<path d="M202.09 524.79H208.09M205.09 524.79V539.41M202.09 539.41H208.09" stroke="#858585" stroke-width="0.55" fill="none"/>
<path d="M209.96 517.42H215.96M212.96 517.42V528.58M209.96 528.58H215.96" stroke="#858585" stroke-width="0.55" fill="none"/>
<path d="M217.83 515.37H223.83M220.83 515.37V526.83M217.83 526.83H223.83" stroke="#858585" stroke-width="0.55" fill="none"/>
<path d="M225.7 514.7H231.7M228.7 514.7V529.3M225.7 529.3H231.7" stroke="#858585" stroke-width="0.55" fill="none"/>
<path d="M233.57 516.71H239.57M236.57 516.71V527.29M233.57 527.29H239.57" stroke="#858585" stroke-width="0.55" fill="none"/>
<path d="M241.44 511.8H247.44M244.44 511.8V519.6M241.44 519.6H247.44" stroke="#858585" stroke-width="0.55" fill="none"/>
<path d="M249.31 517.57H255.31M252.31 517.57V533.83M249.31 533.83H255.31" stroke="#858585" stroke-width="0.55" fill="none"/>
<path d="M257.18 507.81H263.18M260.18 507.81V521.59M257.18 521.59H263.18" stroke="#858585" stroke-width="0.55" fill="none"/>
<path d="M265.05 519.78H271.05M268.05 519.78V528.02M265.05 528.02H271.05" stroke="#858585" stroke-width="0.55" fill="none"/>
<path d="M272.92 509.01H278.92M275.92 509.01V516.79M272.92 516.79H278.92" stroke="#858585" stroke-width="0.55" fill="none"/>
<path d="M280.79 497.98H286.79M283.79 497.98V506.02M280.79 506.02H286.79" stroke="#858585" stroke-width="0.55" fill="none"/>
<path d="M288.66 506.23H294.66M291.66 506.23V523.77M288.66 523.77H294.66" stroke="#858585" stroke-width="0.55" fill="none"/>
<path d="M296.53 502.21H302.53M299.53 502.21V510.39M296.53 510.39H302.53" stroke="#858585" stroke-width="0.55" fill="none"/>
<path d="M304.4 487.56H310.4M307.4 487.56V501.44M304.4 501.44H310.4" stroke="#858585" stroke-width="0.55" fill="none"/>
<path d="M312.27 491.77H318.27M315.27 491.77V509.43M312.27 509.43H318.27" stroke="#858585" stroke-width="0.55" fill="none"/>
<path d="M320.14 490.21H326.14M323.14 490.21V497.59M320.14 497.59H326.14" stroke="#858585" stroke-width="0.55" fill="none"/>
<path d="M328.01 488.28H334.01M331.01 488.28V499.52M328.01 499.52H334.01" stroke="#858585" stroke-width="0.55" fill="none"/>
<path d="M335.88 488.77H341.88M338.88 488.77V501.03M335.88 501.03H341.88" stroke="#858585" stroke-width="0.55" fill="none"/>
<path d="M343.75 491.16H349.75M346.75 491.16V508.24M343.75 508.24H349.75" stroke="#858585" stroke-width="0.55" fill="none"/>
<path d="M351.62 503.76H357.62M354.62 503.76V512.84M351.62 512.84H357.62" stroke="#858585" stroke-width="0.55" fill="none"/>
<path d="M359.49 505.28H365.49M362.49 505.28V515.12M359.49 515.12H365.49" stroke="#858585" stroke-width="0.55" fill="none"/>
<path d="M367.36 506.24H373.36M370.36 506.24V515.96M367.36 515.96H373.36" stroke="#858585" stroke-width="0.55" fill="none"/>
<path d="M375.23 494.93H381.23M378.23 494.93V502.47M375.23 502.47H381.23" stroke="#858585" stroke-width="0.55" fill="none"/>
<path d="M383.1 501.09H389.1M386.1 501.09V515.51M383.1 515.51H389.1" stroke="#858585" stroke-width="0.55" fill="none"/>
<path d="M390.97 511.71H396.97M393.97 511.71V527.69M390.97 527.69H396.97" stroke="#858585" stroke-width="0.55" fill="none"/>
<path d="M469.67 524.1H475.67M472.67 524.1V535.9M469.67 535.9H475.67" stroke="#858585" stroke-width="0.55" fill="none"/>
<path d="M398.84 526.29H404.84M401.84 526.29V533.71M398.84 533.71H404.84" stroke="#858585" stroke-width="0.55" fill="none"/>
<path d="M68.3 534.48H74.3M71.3 534.48V549.32M68.3 549.32H74.3" stroke="#858585" stroke-width="0.55" fill="none"/>
<path d="M76.17 534.35H82.17M79.17 534.35V549.45M76.17 549.45H82.17" stroke="#858585" stroke-width="0.55" fill="none"/>
<path d="M84.04 534.51H90.04M87.04 534.51V548.69M84.04 548.69H90.04" stroke="#858585" stroke-width="0.55" fill="none"/>
<path d="M91.91 535.29H97.91M94.91 535.29V545.91M91.91 545.91H97.91" stroke="#858585" stroke-width="0.55" fill="none"/>
<path d="M99.78 542.23H105.78M102.78 542.23V558.37M99.78 558.37H105.78" stroke="#858585" stroke-width="0.55" fill="none"/>
<path d="M107.65 525.33H113.65M110.65 525.33V539.27M107.65 539.27H113.65" stroke="#858585" stroke-width="0.55" fill="none"/>
<path d="M115.52 547.46H121.52M118.52 547.46V560.94M115.52 560.94H121.52" stroke="#858585" stroke-width="0.55" fill="none"/>
<path d="M123.39 526.53H129.39M126.39 526.53V539.47M123.39 539.47H129.39" stroke="#858585" stroke-width="0.55" fill="none"/>
<path d="M131.26 525.92H137.26M134.26 525.92V535.48M131.26 535.48H137.26" stroke="#858585" stroke-width="0.55" fill="none"/>
<path d="M139.13 529.39H145.13M142.13 529.39V541.41M139.13 541.41H145.13" stroke="#858585" stroke-width="0.55" fill="none"/>
<path d="M202.09 526.93H208.09M205.09 526.93V542.67M202.09 542.67H208.09" stroke="#858585" stroke-width="0.55" fill="none"/>
<path d="M209.96 515.74H215.96M212.96 515.74V530.26M209.96 530.26H215.96" stroke="#858585" stroke-width="0.55" fill="none"/>
<path d="M217.83 516.6H223.83M220.83 516.6V527.4M217.83 527.4H223.83" stroke="#858585" stroke-width="0.55" fill="none"/>
<path d="M225.7 514.99H231.7M228.7 514.99V531.01M225.7 531.01H231.7" stroke="#858585" stroke-width="0.55" fill="none"/>
<path d="M233.57 513.88H239.57M236.57 513.88V530.12M233.57 530.12H239.57" stroke="#858585" stroke-width="0.55" fill="none"/>
<path d="M241.44 511.96H247.44M244.44 511.96V519.44M241.44 519.44H247.44" stroke="#858585" stroke-width="0.55" fill="none"/>
<path d="M249.31 521.64H255.31M252.31 521.64V530.36M249.31 530.36H255.31" stroke="#858585" stroke-width="0.55" fill="none"/>
<path d="M257.18 503.57H263.18M260.18 503.57V513.03M257.18 513.03H263.18" stroke="#858585" stroke-width="0.55" fill="none"/>
<path d="M265.05 519.42H271.05M268.05 519.42V526.58M265.05 526.58H271.05" stroke="#858585" stroke-width="0.55" fill="none"/>
<path d="M272.92 504.36H278.92M275.92 504.36V519.64M272.92 519.64H278.92" stroke="#858585" stroke-width="0.55" fill="none"/>
<path d="M280.79 492.14H286.79M283.79 492.14V506.26M280.79 506.26H286.79" stroke="#858585" stroke-width="0.55" fill="none"/>
<path d="M288.66 515.21H294.66M291.66 515.21V528.19M288.66 528.19H294.66" stroke="#858585" stroke-width="0.55" fill="none"/>
<path d="M296.53 503.03H302.53M299.53 503.03V520.97M296.53 520.97H302.53" stroke="#858585" stroke-width="0.55" fill="none"/>
<path d="M304.4 499.54H310.4M307.4 499.54V510.46M304.4 510.46H310.4" stroke="#858585" stroke-width="0.55" fill="none"/>
<path d="M312.27 506.41H318.27M315.27 506.41V515.59M312.27 515.59H318.27" stroke="#858585" stroke-width="0.55" fill="none"/>
<path d="M320.14 500.89H326.14M323.14 500.89V509.11M320.14 509.11H326.14" stroke="#858585" stroke-width="0.55" fill="none"/>
<path d="M328.01 499.63H334.01M331.01 499.63V510.37M328.01 510.37H334.01" stroke="#858585" stroke-width="0.55" fill="none"/>
<path d="M335.88 498.89H341.88M338.88 498.89V515.11M335.88 515.11H341.88" stroke="#858585" stroke-width="0.55" fill="none"/>
<path d="M343.75 503.16H349.75M346.75 503.16V516.84M343.75 516.84H349.75" stroke="#858585" stroke-width="0.55" fill="none"/>
<path d="M351.62 512.17H357.62M354.62 512.17V519.83M351.62 519.83H357.62" stroke="#858585" stroke-width="0.55" fill="none"/>
<path d="M359.49 511.12H365.49M362.49 511.12V522.88M359.49 522.88H365.49" stroke="#858585" stroke-width="0.55" fill="none"/>
<path d="M367.36 516.24H373.36M370.36 516.24V523.76M367.36 523.76H373.36" stroke="#858585" stroke-width="0.55" fill="none"/>
<path d="M375.23 506.07H381.23M378.23 506.07V519.93M375.23 519.93H381.23" stroke="#858585" stroke-width="0.55" fill="none"/>
<path d="M383.1 517.83H389.1M386.1 517.83V526.17M383.1 526.17H389.1" stroke="#858585" stroke-width="0.55" fill="none"/>
<path d="M390.97 526.51H396.97M393.97 526.51V535.49M390.97 535.49H396.97" stroke="#858585" stroke-width="0.55" fill="none"/>
<path d="M469.67 526.77H475.67M472.67 526.77V540.83M469.67 540.83H475.67" stroke="#858585" stroke-width="0.55" fill="none"/>
<path d="M477.54 549H483.54M480.54 549V565.2M477.54 565.2H483.54" stroke="#858585" stroke-width="0.55" fill="none"/>
<path d="M398.84 519.69H404.84M401.84 519.69V533.51M398.84 533.51H404.84" stroke="#858585" stroke-width="0.55" fill="none"/>
<path d="M68.3 531.88H74.3M71.3 531.88V542.12M68.3 542.12H74.3" stroke="#858585" stroke-width="0.55" fill="none"/>
<path d="M76.17 532.55H82.17M79.17 532.55V546.65M76.17 546.65H82.17" stroke="#858585" stroke-width="0.55" fill="none"/>
<path d="M84.04 530H90.04M87.04 530V540M84.04 540H90.04" stroke="#858585" stroke-width="0.55" fill="none"/>
<path d="M91.91 529.86H97.91M94.91 529.86V536.94M91.91 536.94H97.91" stroke="#858585" stroke-width="0.55" fill="none"/>
<path d="M99.78 539.99H105.78M102.78 539.99V550.01M99.78 550.01H105.78" stroke="#858585" stroke-width="0.55" fill="none"/>
<path d="M107.65 517.11H113.65M110.65 517.11V531.69M107.65 531.69H113.65" stroke="#858585" stroke-width="0.55" fill="none"/>
<path d="M115.52 541.05H121.52M118.52 541.05V554.95M115.52 554.95H121.52" stroke="#858585" stroke-width="0.55" fill="none"/>
<path d="M123.39 525.44H129.39M126.39 525.44V534.56M123.39 534.56H129.39" stroke="#858585" stroke-width="0.55" fill="none"/>
<path d="M131.26 515.58H137.26M134.26 515.58V531.82M131.26 531.82H137.26" stroke="#858585" stroke-width="0.55" fill="none"/>
<path d="M139.13 523.43H145.13M142.13 523.43V539.57M139.13 539.57H145.13" stroke="#858585" stroke-width="0.55" fill="none"/>
<path d="M202.09 522.46H208.09M205.09 522.46V532.54M202.09 532.54H208.09" stroke="#858585" stroke-width="0.55" fill="none"/>
<path d="M209.96 510.51H215.96M212.96 510.51V528.09M209.96 528.09H215.96" stroke="#858585" stroke-width="0.55" fill="none"/>
<path d="M217.83 514.36H223.83M220.83 514.36V524.24M217.83 524.24H223.83" stroke="#858585" stroke-width="0.55" fill="none"/>
<path d="M225.7 515.44H231.7M228.7 515.44V523.16M225.7 523.16H231.7" stroke="#858585" stroke-width="0.55" fill="none"/>
<path d="M233.57 508.38H239.57M236.57 508.38V521.02M233.57 521.02H239.57" stroke="#858585" stroke-width="0.55" fill="none"/>
<path d="M241.44 507.44H247.44M244.44 507.44V523.96M241.44 523.96H247.44" stroke="#858585" stroke-width="0.55" fill="none"/>
<path d="M249.31 514.3H255.31M252.31 514.3V527.9M249.31 527.9H255.31" stroke="#858585" stroke-width="0.55" fill="none"/>
<path d="M257.18 501.8H263.18M260.18 501.8V514.8M257.18 514.8H263.18" stroke="#858585" stroke-width="0.55" fill="none"/>
<path d="M265.05 514.92H271.05M268.05 514.92V527.28M265.05 527.28H271.05" stroke="#858585" stroke-width="0.55" fill="none"/>
<path d="M272.92 505.14H278.92M275.92 505.14V515.26M272.92 515.26H278.92" stroke="#858585" stroke-width="0.55" fill="none"/>
<path d="M280.79 493.15H286.79M283.79 493.15V503.45M280.79 503.45H286.79" stroke="#858585" stroke-width="0.55" fill="none"/>
<path d="M288.66 514.98H294.66M291.66 514.98V526.42M288.66 526.42H294.66" stroke="#858585" stroke-width="0.55" fill="none"/>
<path d="M296.53 502.69H302.53M299.53 502.69V515.71M296.53 515.71H302.53" stroke="#858585" stroke-width="0.55" fill="none"/>
<path d="M304.4 490.01H310.4M307.4 490.01V507.39M304.4 507.39H310.4" stroke="#858585" stroke-width="0.55" fill="none"/>
<path d="M312.27 505.3H318.27M315.27 505.3V513.1M312.27 513.1H318.27" stroke="#858585" stroke-width="0.55" fill="none"/>
<path d="M320.14 499.11H326.14M323.14 499.11V508.89M320.14 508.89H326.14" stroke="#858585" stroke-width="0.55" fill="none"/>
<path d="M328.01 496.11H334.01M331.01 496.11V513.49M328.01 513.49H334.01" stroke="#858585" stroke-width="0.55" fill="none"/>
<path d="M335.88 499.18H341.88M338.88 499.18V513.42M335.88 513.42H341.88" stroke="#858585" stroke-width="0.55" fill="none"/>
<path d="M343.75 504.39H349.75M346.75 504.39V512.21M343.75 512.21H349.75" stroke="#858585" stroke-width="0.55" fill="none"/>
<path d="M351.62 509.97H357.62M354.62 509.97V521.83M351.62 521.83H357.62" stroke="#858585" stroke-width="0.55" fill="none"/>
<path d="M359.49 508.82H365.49M362.49 508.82V522.98M359.49 522.98H365.49" stroke="#858585" stroke-width="0.55" fill="none"/>
<path d="M367.36 509.28H373.36M370.36 509.28V526.32M367.36 526.32H373.36" stroke="#858585" stroke-width="0.55" fill="none"/>
<path d="M375.23 507.14H381.23M378.23 507.14V515.06M375.23 515.06H381.23" stroke="#858585" stroke-width="0.55" fill="none"/>
<path d="M383.1 511.24H389.1M386.1 511.24V528.16M383.1 528.16H389.1" stroke="#858585" stroke-width="0.55" fill="none"/>
<path d="M390.97 521.56H396.97M393.97 521.56V537.04M390.97 537.04H396.97" stroke="#858585" stroke-width="0.55" fill="none"/>
<path d="M469.67 526.77H475.67M472.67 526.77V536.83M469.67 536.83H475.67" stroke="#858585" stroke-width="0.55" fill="none"/>
<path d="M477.54 545.87H483.54M480.54 545.87V558.73M477.54 558.73H483.54" stroke="#858585" stroke-width="0.55" fill="none"/>
<path d="M398.84 510.16H404.84M401.84 510.16V526.24M398.84 526.24H404.84" stroke="#858585" stroke-width="0.55" fill="none"/>
<path d="M68.3 531.66H74.3M71.3 531.66V541.34M68.3 541.34H74.3" stroke="#858585" stroke-width="0.55" fill="none"/>
<path d="M76.17 531.14H82.17M79.17 531.14V545.86M76.17 545.86H82.17" stroke="#858585" stroke-width="0.55" fill="none"/>
<path d="M84.04 526.82H90.04M87.04 526.82V539.98M84.04 539.98H90.04" stroke="#858585" stroke-width="0.55" fill="none"/>
<path d="M91.91 526.9H97.91M94.91 526.9V534.7M91.91 534.7H97.91" stroke="#858585" stroke-width="0.55" fill="none"/>
<path d="M99.78 539.01H105.78M102.78 539.01V548.99M99.78 548.99H105.78" stroke="#858585" stroke-width="0.55" fill="none"/>
<path d="M107.65 515.53H113.65M110.65 515.53V527.07M107.65 527.07H113.65" stroke="#858585" stroke-width="0.55" fill="none"/>
<path d="M115.52 539.73H121.52M118.52 539.73V548.27M115.52 548.27H121.52" stroke="#858585" stroke-width="0.55" fill="none"/>
<path d="M123.39 518.11H129.39M126.39 518.11V535.49M123.39 535.49H129.39" stroke="#858585" stroke-width="0.55" fill="none"/>
<path d="M131.26 515.62H137.26M134.26 515.62V525.38M131.26 525.38H137.26" stroke="#858585" stroke-width="0.55" fill="none"/>
<path d="M139.13 521.23H145.13M142.13 521.23V530.77M139.13 530.77H145.13" stroke="#858585" stroke-width="0.55" fill="none"/>
<path d="M202.09 514.02H208.09M205.09 514.02V527.58M202.09 527.58H208.09" stroke="#858585" stroke-width="0.55" fill="none"/>
<path d="M209.96 504.1H215.96M212.96 504.1V516.9M209.96 516.9H215.96" stroke="#858585" stroke-width="0.55" fill="none"/>
<path d="M217.83 503.44H223.83M220.83 503.44V513.96M217.83 513.96H223.83" stroke="#858585" stroke-width="0.55" fill="none"/>
<path d="M225.7 503.01H231.7M228.7 503.01V513.59M225.7 513.59H231.7" stroke="#858585" stroke-width="0.55" fill="none"/>
<path d="M233.57 503.97H239.57M236.57 503.97V516.43M233.57 516.43H239.57" stroke="#858585" stroke-width="0.55" fill="none"/>
<path d="M241.44 494.4H247.44M244.44 494.4V511.4M241.44 511.4H247.44" stroke="#858585" stroke-width="0.55" fill="none"/>
<path d="M249.31 512.27H255.31M252.31 512.27V520.13M249.31 520.13H255.31" stroke="#858585" stroke-width="0.55" fill="none"/>
<path d="M257.18 497.08H263.18M260.18 497.08V514.12M257.18 514.12H263.18" stroke="#858585" stroke-width="0.55" fill="none"/>
<path d="M265.05 509.74H271.05M268.05 509.74V527.06M265.05 527.06H271.05" stroke="#858585" stroke-width="0.55" fill="none"/>
<path d="M272.92 500.14H278.92M275.92 500.14V514.66M272.92 514.66H278.92" stroke="#858585" stroke-width="0.55" fill="none"/>
<path d="M280.79 489.89H286.79M283.79 489.89V505.71M280.79 505.71H286.79" stroke="#858585" stroke-width="0.55" fill="none"/>
<path d="M288.66 511.3H294.66M291.66 511.3V522.5M288.66 522.5H294.66" stroke="#858585" stroke-width="0.55" fill="none"/>
<path d="M296.53 499.51H302.53M299.53 499.51V517.09M296.53 517.09H302.53" stroke="#858585" stroke-width="0.55" fill="none"/>
<path d="M304.4 491.12H310.4M307.4 491.12V506.28M304.4 506.28H310.4" stroke="#858585" stroke-width="0.55" fill="none"/>
<path d="M312.27 501.02H318.27M315.27 501.02V515.58M312.27 515.58H318.27" stroke="#858585" stroke-width="0.55" fill="none"/>
<path d="M320.14 492.73H326.14M323.14 492.73V504.67M320.14 504.67H326.14" stroke="#858585" stroke-width="0.55" fill="none"/>
<path d="M328.01 493.99H334.01M331.01 493.99V503.41M328.01 503.41H334.01" stroke="#858585" stroke-width="0.55" fill="none"/>
<path d="M335.88 492.4H341.88M338.88 492.4V507M335.88 507H341.88" stroke="#858585" stroke-width="0.55" fill="none"/>
<path d="M343.75 494.05H349.75M346.75 494.05V509.15M343.75 509.15H349.75" stroke="#858585" stroke-width="0.55" fill="none"/>
<path d="M351.62 505.67H357.62M354.62 505.67V512.73M351.62 512.73H357.62" stroke="#858585" stroke-width="0.55" fill="none"/>
<path d="M359.49 505.89H365.49M362.49 505.89V516.31M359.49 516.31H365.49" stroke="#858585" stroke-width="0.55" fill="none"/>
<path d="M367.36 507.55H373.36M370.36 507.55V520.45M367.36 520.45H373.36" stroke="#858585" stroke-width="0.55" fill="none"/>
<path d="M375.23 501.63H381.23M378.23 501.63V510.97M375.23 510.97H381.23" stroke="#858585" stroke-width="0.55" fill="none"/>
<path d="M383.1 510.69H389.1M386.1 510.69V519.11M383.1 519.11H389.1" stroke="#858585" stroke-width="0.55" fill="none"/>
<path d="M390.97 519.97H396.97M393.97 519.97V529.03M390.97 529.03H396.97" stroke="#858585" stroke-width="0.55" fill="none"/>
<path d="M469.67 525.41H475.67M472.67 525.41V532.59M469.67 532.59H475.67" stroke="#858585" stroke-width="0.55" fill="none"/>
<path d="M477.54 544.74H483.54M480.54 544.74V553.06M477.54 553.06H483.54" stroke="#858585" stroke-width="0.55" fill="none"/>
<path d="M398.84 515.75H404.84M401.84 515.75V527.05M398.84 527.05H404.84" stroke="#858585" stroke-width="0.55" fill="none"/>
<path d="M68.3 526.64H74.3M71.3 526.64V539.16M68.3 539.16H74.3" stroke="#858585" stroke-width="0.55" fill="none"/>
<path d="M76.17 524.89H82.17M79.17 524.89V538.91M76.17 538.91H82.17" stroke="#858585" stroke-width="0.55" fill="none"/>
<path d="M84.04 521.01H90.04M87.04 521.01V531.39M84.04 531.39H90.04" stroke="#858585" stroke-width="0.55" fill="none"/>
<path d="M91.91 522.99H97.91M94.91 522.99V531.41M91.91 531.41H97.91" stroke="#858585" stroke-width="0.55" fill="none"/>
<path d="M99.78 529.94H105.78M102.78 529.94V547.06M99.78 547.06H105.78" stroke="#858585" stroke-width="0.55" fill="none"/>
<path d="M107.65 507.32H113.65M110.65 507.32V521.28M107.65 521.28H113.65" stroke="#858585" stroke-width="0.55" fill="none"/>
<path d="M115.52 530.27H121.52M118.52 530.27V544.73M115.52 544.73H121.52" stroke="#858585" stroke-width="0.55" fill="none"/>
<path d="M123.39 510.91H129.39M126.39 510.91V525.49M123.39 525.49H129.39" stroke="#858585" stroke-width="0.55" fill="none"/>
<path d="M131.26 509.73H137.26M134.26 509.73V520.27M131.26 520.27H137.26" stroke="#858585" stroke-width="0.55" fill="none"/>
<path d="M139.13 530.93H145.13M142.13 530.93V544.47M139.13 544.47H145.13" stroke="#858585" stroke-width="0.55" fill="none"/>
<path d="M202.09 508.75H208.09M205.09 508.75V519.25M202.09 519.25H208.09" stroke="#858585" stroke-width="0.55" fill="none"/>
<path d="M209.96 497.61H215.96M212.96 497.61V511.79M209.96 511.79H215.96" stroke="#858585" stroke-width="0.55" fill="none"/>
<path d="M217.83 497.6H223.83M220.83 497.6V513.6M217.83 513.6H223.83" stroke="#858585" stroke-width="0.55" fill="none"/>
<path d="M225.7 504.71H231.7M228.7 504.71V511.89M225.7 511.89H231.7" stroke="#858585" stroke-width="0.55" fill="none"/>
<path d="M233.57 497.72H239.57M236.57 497.72V513.48M233.57 513.48H239.57" stroke="#858585" stroke-width="0.55" fill="none"/>
<path d="M241.44 492.86H247.44M244.44 492.86V501.14M241.44 501.14H247.44" stroke="#858585" stroke-width="0.55" fill="none"/>
<path d="M249.31 508.41H255.31M252.31 508.41V515.59M249.31 515.59H255.31" stroke="#858585" stroke-width="0.55" fill="none"/>
<path d="M257.18 498.09H263.18M260.18 498.09V505.91M257.18 505.91H263.18" stroke="#858585" stroke-width="0.55" fill="none"/>
<path d="M265.05 506.91H271.05M268.05 506.91V520.09M265.05 520.09H271.05" stroke="#858585" stroke-width="0.55" fill="none"/>
<path d="M272.92 494.98H278.92M275.92 494.98V511.42M272.92 511.42H278.92" stroke="#858585" stroke-width="0.55" fill="none"/>
<path d="M280.79 485.11H286.79M283.79 485.11V502.29M280.79 502.29H286.79" stroke="#858585" stroke-width="0.55" fill="none"/>
<path d="M288.66 507.63H294.66M291.66 507.63V516.37M288.66 516.37H294.66" stroke="#858585" stroke-width="0.55" fill="none"/>
<path d="M296.53 498.54H302.53M299.53 498.54V510.26M296.53 510.26H302.53" stroke="#858585" stroke-width="0.55" fill="none"/>
<path d="M304.4 481.42H310.4M307.4 481.42V498.78M304.4 498.78H310.4" stroke="#858585" stroke-width="0.55" fill="none"/>
<path d="M312.27 490.32H318.27M315.27 490.32V507.08M312.27 507.08H318.27" stroke="#858585" stroke-width="0.55" fill="none"/>
<path d="M320.14 481.06H326.14M323.14 481.06V497.14M320.14 497.14H326.14" stroke="#858585" stroke-width="0.55" fill="none"/>
<path d="M328.01 484.23H334.01M331.01 484.23V493.97M328.01 493.97H334.01" stroke="#858585" stroke-width="0.55" fill="none"/>
<path d="M335.88 485.69H341.88M338.88 485.69V495.71M335.88 495.71H341.88" stroke="#858585" stroke-width="0.55" fill="none"/>
<path d="M343.75 488.68H349.75M346.75 488.68V497.32M343.75 497.32H349.75" stroke="#858585" stroke-width="0.55" fill="none"/>
<path d="M351.62 497.55H357.62M354.62 497.55V507.45M351.62 507.45H357.62" stroke="#858585" stroke-width="0.55" fill="none"/>
<path d="M359.49 499.67H365.49M362.49 499.67V511.13M359.49 511.13H365.49" stroke="#858585" stroke-width="0.55" fill="none"/>
<path d="M367.36 497.52H373.36M370.36 497.52V513.28M367.36 513.28H373.36" stroke="#858585" stroke-width="0.55" fill="none"/>
<path d="M375.23 483.87H381.23M378.23 483.87V498.13M375.23 498.13H381.23" stroke="#858585" stroke-width="0.55" fill="none"/>
<path d="M383.1 499.05H389.1M386.1 499.05V507.95M383.1 507.95H389.1" stroke="#858585" stroke-width="0.55" fill="none"/>
<path d="M390.97 510.52H396.97M393.97 510.52V519.48M390.97 519.48H396.97" stroke="#858585" stroke-width="0.55" fill="none"/>
<path d="M398.84 506.42H404.84M401.84 506.42V518.38M398.84 518.38H404.84" stroke="#858585" stroke-width="0.55" fill="none"/>
<path d="M68.3 521.4H74.3M71.3 521.4V538.2M68.3 538.2H74.3" stroke="#858585" stroke-width="0.55" fill="none"/>
<path d="M76.17 524.2H82.17M79.17 524.2V536.4M76.17 536.4H82.17" stroke="#858585" stroke-width="0.55" fill="none"/>
<path d="M84.04 515.76H90.04M87.04 515.76V531.44M84.04 531.44H90.04" stroke="#858585" stroke-width="0.55" fill="none"/>
<path d="M91.91 516.31H97.91M94.91 516.31V530.89M91.91 530.89H97.91" stroke="#858585" stroke-width="0.55" fill="none"/>
<path d="M99.78 527.67H105.78M102.78 527.67V544.33M99.78 544.33H105.78" stroke="#858585" stroke-width="0.55" fill="none"/>
<path d="M107.65 503.37H113.65M110.65 503.37V515.83M107.65 515.83H113.65" stroke="#858585" stroke-width="0.55" fill="none"/>
<path d="M115.52 529.92H121.52M118.52 529.92V541.08M115.52 541.08H121.52" stroke="#858585" stroke-width="0.55" fill="none"/>
<path d="M123.39 505.88H129.39M126.39 505.88V517.92M123.39 517.92H129.39" stroke="#858585" stroke-width="0.55" fill="none"/>
<path d="M131.26 502.39H137.26M134.26 502.39V518.21M131.26 518.21H137.26" stroke="#858585" stroke-width="0.55" fill="none"/>
<path d="M139.13 511.57H145.13M142.13 511.57V521.63M139.13 521.63H145.13" stroke="#858585" stroke-width="0.55" fill="none"/>
<path d="M202.09 509.24H208.09M205.09 509.24V518.36M202.09 518.36H208.09" stroke="#858585" stroke-width="0.55" fill="none"/>
<path d="M209.96 496.2H215.96M212.96 496.2V512.4M209.96 512.4H215.96" stroke="#858585" stroke-width="0.55" fill="none"/>
<path d="M217.83 498.56H223.83M220.83 498.56V510.84M217.83 510.84H223.83" stroke="#858585" stroke-width="0.55" fill="none"/>
<path d="M225.7 497.27H231.7M228.7 497.27V511.33M225.7 511.33H231.7" stroke="#858585" stroke-width="0.55" fill="none"/>
<path d="M233.57 498.94H239.57M236.57 498.94V507.86M233.57 507.86H239.57" stroke="#858585" stroke-width="0.55" fill="none"/>
<path d="M241.44 493.27H247.44M244.44 493.27V500.73M241.44 500.73H247.44" stroke="#858585" stroke-width="0.55" fill="none"/>
<path d="M249.31 502.66H255.31M252.31 502.66V512.14M249.31 512.14H255.31" stroke="#858585" stroke-width="0.55" fill="none"/>
<path d="M257.18 493.04H263.18M260.18 493.04V504.76M257.18 504.76H263.18" stroke="#858585" stroke-width="0.55" fill="none"/>
<path d="M265.05 505.62H271.05M268.05 505.62V512.98M265.05 512.98H271.05" stroke="#858585" stroke-width="0.55" fill="none"/>
<path d="M272.92 495.1H278.92M275.92 495.1V505.1M272.92 505.1H278.92" stroke="#858585" stroke-width="0.55" fill="none"/>
<path d="M280.79 484.11H286.79M283.79 484.11V501.49M280.79 501.49H286.79" stroke="#858585" stroke-width="0.55" fill="none"/>
<path d="M288.66 504.8H294.66M291.66 504.8V516.6M288.66 516.6H294.66" stroke="#858585" stroke-width="0.55" fill="none"/>
<path d="M296.53 499.17H302.53M299.53 499.17V506.23M296.53 506.23H302.53" stroke="#858585" stroke-width="0.55" fill="none"/>
<path d="M304.4 481.19H310.4M307.4 481.19V497.01M304.4 497.01H310.4" stroke="#858585" stroke-width="0.55" fill="none"/>
<path d="M312.27 488.74H318.27M315.27 488.74V499.06M312.27 499.06H318.27" stroke="#858585" stroke-width="0.55" fill="none"/>
<path d="M320.14 482.75H326.14M323.14 482.75V491.65M320.14 491.65H326.14" stroke="#858585" stroke-width="0.55" fill="none"/>
<path d="M328.01 475.99H334.01M331.01 475.99V490.01M328.01 490.01H334.01" stroke="#858585" stroke-width="0.55" fill="none"/>
<path d="M335.88 480.04H341.88M338.88 480.04V494.36M335.88 494.36H341.88" stroke="#858585" stroke-width="0.55" fill="none"/>
<path d="M343.75 483.42H349.75M346.75 483.42V493.98M343.75 493.98H349.75" stroke="#858585" stroke-width="0.55" fill="none"/>
<path d="M351.62 493.19H357.62M354.62 493.19V508.01M351.62 508.01H357.62" stroke="#858585" stroke-width="0.55" fill="none"/>
<path d="M359.49 494.58H365.49M362.49 494.58V511.22M359.49 511.22H365.49" stroke="#858585" stroke-width="0.55" fill="none"/>
<path d="M367.36 495.23H373.36M370.36 495.23V505.97M367.36 505.97H373.36" stroke="#858585" stroke-width="0.55" fill="none"/>
<path d="M375.23 479.07H381.23M378.23 479.07V491.53M375.23 491.53H381.23" stroke="#858585" stroke-width="0.55" fill="none"/>
<path d="M383.1 497.07H389.1M386.1 497.07V504.13M383.1 504.13H389.1" stroke="#858585" stroke-width="0.55" fill="none"/>
<path d="M390.97 505.35H396.97M393.97 505.35V518.85M390.97 518.85H396.97" stroke="#858585" stroke-width="0.55" fill="none"/>
<path d="M469.67 517.79H475.67M472.67 517.79V528.01M469.67 528.01H475.67" stroke="#858585" stroke-width="0.55" fill="none"/>
<polyline points="71.3,534 79.17,534 87.04,530" fill="none" stroke="#2a97e0" stroke-width="1.1" stroke-linejoin="round"/>
<polyline points="102.78,541 110.65,520" fill="none" stroke="#2a97e0" stroke-width="1.1" stroke-linejoin="round"/>
<polyline points="118.52,541 126.39,525 134.26,522" fill="none" stroke="#2a97e0" stroke-width="1.1" stroke-linejoin="round"/>
<polyline points="205.09,532.1 212.96,523 220.83,521.1 228.7,522 236.57,522 244.44,515.7 252.31,525.7 260.18,514.7 268.05,523.9 275.92,512.9 283.79,502 291.66,515 299.53,506.3 307.4,494.5 315.27,500.6 323.14,493.9 331.01,493.9 338.88,494.9 346.75,499.7 354.62,508.3 362.49,510.2 370.36,511.1 378.23,498.7 386.1,508.3 393.97,519.7" fill="none" stroke="#2a97e0" stroke-width="1.1" stroke-linejoin="round"/>
<polyline points="71.3,541.9 79.17,541.9 87.04,541.6" fill="none" stroke="#f1b12a" stroke-width="1.1" stroke-linejoin="round"/>
<polyline points="102.78,550.3 110.65,532.3" fill="none" stroke="#f1b12a" stroke-width="1.1" stroke-linejoin="round"/>
<polyline points="118.52,554.2 126.39,533 134.26,530.7" fill="none" stroke="#f1b12a" stroke-width="1.1" stroke-linejoin="round"/>
<polyline points="205.09,534.8 212.96,523 220.83,522 228.7,523 236.57,522 244.44,515.7 252.31,526 260.18,508.3 268.05,523 275.92,512 283.79,499.2 291.66,521.7 299.53,512 307.4,505 315.27,511 323.14,505 331.01,505 338.88,507 346.75,510 354.62,516 362.49,517 370.36,520 378.23,513 386.1,522 393.97,531" fill="none" stroke="#f1b12a" stroke-width="1.1" stroke-linejoin="round"/>
<polyline points="71.3,537 79.17,539.6 87.04,535" fill="none" stroke="#f1b12a" stroke-width="1.1" stroke-linejoin="round"/>
<polyline points="102.78,545 110.65,524.4" fill="none" stroke="#f1b12a" stroke-width="1.1" stroke-linejoin="round"/>
<polyline points="118.52,548 126.39,530 134.26,523.7" fill="none" stroke="#f1b12a" stroke-width="1.1" stroke-linejoin="round"/>
<polyline points="205.09,527.5 212.96,519.3 220.83,519.3 228.7,519.3 236.57,514.7 244.44,515.7 252.31,521.1 260.18,508.3 268.05,521.1 275.92,510.2 283.79,498.3 291.66,520.7 299.53,509.2 307.4,498.7 315.27,509.2 323.14,504 331.01,504.8 338.88,506.3 346.75,508.3 354.62,515.9 362.49,515.9 370.36,517.8 378.23,511.1 386.1,519.7 393.97,529.3" fill="none" stroke="#f1b12a" stroke-width="1.1" stroke-linejoin="round"/>
<polyline points="71.3,536.5 79.17,538.5 87.04,533.4" fill="none" stroke="#f1b12a" stroke-width="1.1" stroke-linejoin="round"/>
<polyline points="102.78,544 110.65,521.3" fill="none" stroke="#f1b12a" stroke-width="1.1" stroke-linejoin="round"/>
<polyline points="118.52,544 126.39,526.8 134.26,520.5" fill="none" stroke="#f1b12a" stroke-width="1.1" stroke-linejoin="round"/>
<polyline points="205.09,520.8 212.96,510.5 220.83,508.7 228.7,508.3 236.57,510.2 244.44,502.9 252.31,516.2 260.18,505.6 268.05,518.4 275.92,507.4 283.79,497.8 291.66,516.9 299.53,508.3 307.4,498.7 315.27,508.3 323.14,498.7 331.01,498.7 338.88,499.7 346.75,501.6 354.62,509.2 362.49,511.1 370.36,514 378.23,506.3 386.1,514.9 393.97,524.5" fill="none" stroke="#f1b12a" stroke-width="1.1" stroke-linejoin="round"/>
<polyline points="71.3,532.9 79.17,531.9 87.04,526.2" fill="none" stroke="#2a97e0" stroke-width="1.1" stroke-linejoin="round"/>
<polyline points="102.78,538.5 110.65,514.3" fill="none" stroke="#2a97e0" stroke-width="1.1" stroke-linejoin="round"/>
<polyline points="118.52,537.5 126.39,518.2 134.26,515" fill="none" stroke="#2a97e0" stroke-width="1.1" stroke-linejoin="round"/>
<polyline points="205.09,514 212.96,504.7 220.83,505.6 228.7,508.3 236.57,505.6 244.44,497 252.31,512 260.18,502 268.05,513.5 275.92,503.2 283.79,493.7 291.66,512 299.53,504.4 307.4,490.1 315.27,498.7 323.14,489.1 331.01,489.1 338.88,490.7 346.75,493 354.62,502.5 362.49,505.4 370.36,505.4 378.23,491 386.1,503.5 393.97,515" fill="none" stroke="#2a97e0" stroke-width="1.1" stroke-linejoin="round"/>
<polyline points="71.3,529.8 79.17,530.3 87.04,523.6" fill="none" stroke="#2a97e0" stroke-width="1.1" stroke-linejoin="round"/>
<polyline points="102.78,536 110.65,509.6" fill="none" stroke="#2a97e0" stroke-width="1.1" stroke-linejoin="round"/>
<polyline points="118.52,535.5 126.39,511.9 134.26,510.3" fill="none" stroke="#2a97e0" stroke-width="1.1" stroke-linejoin="round"/>
<polyline points="205.09,513.8 212.96,504.3 220.83,504.7 228.7,504.3 236.57,503.4 244.44,497 252.31,507.4 260.18,498.9 268.05,509.3 275.92,500.1 283.79,492.8 291.66,510.7 299.53,502.7 307.4,489.1 315.27,493.9 323.14,487.2 331.01,483 338.88,487.2 346.75,488.7 354.62,500.6 362.49,502.9 370.36,500.6 378.23,485.3 386.1,500.6 393.97,512.1" fill="none" stroke="#2a97e0" stroke-width="1.1" stroke-linejoin="round"/>
<path d="M401.84 520.54L404.3 523L401.84 525.46L399.38 523Z" fill="#136cc0" stroke="#1a1a1a" stroke-width="0.6"/>
<path d="M71.3 531.54L73.76 534L71.3 536.46L68.84 534Z" fill="#136cc0" stroke="#1a1a1a" stroke-width="0.6"/>
<path d="M79.17 531.54L81.63 534L79.17 536.46L76.71 534Z" fill="#136cc0" stroke="#1a1a1a" stroke-width="0.6"/>
<path d="M87.04 527.54L89.5 530L87.04 532.46L84.58 530Z" fill="#136cc0" stroke="#1a1a1a" stroke-width="0.6"/>
<path d="M94.91 527.54L97.37 530L94.91 532.46L92.45 530Z" fill="#136cc0" stroke="#1a1a1a" stroke-width="0.6"/>
<path d="M102.78 538.54L105.24 541L102.78 543.46L100.32 541Z" fill="#136cc0" stroke="#1a1a1a" stroke-width="0.6"/>
<path d="M110.65 517.54L113.11 520L110.65 522.46L108.19 520Z" fill="#136cc0" stroke="#1a1a1a" stroke-width="0.6"/>
<path d="M118.52 538.54L120.98 541L118.52 543.46L116.06 541Z" fill="#136cc0" stroke="#1a1a1a" stroke-width="0.6"/>
<path d="M126.39 522.54L128.85 525L126.39 527.46L123.93 525Z" fill="#136cc0" stroke="#1a1a1a" stroke-width="0.6"/>
<path d="M134.26 519.54L136.72 522L134.26 524.46L131.8 522Z" fill="#136cc0" stroke="#1a1a1a" stroke-width="0.6"/>
<path d="M142.13 527.54L144.59 530L142.13 532.46L139.67 530Z" fill="#136cc0" stroke="#1a1a1a" stroke-width="0.6"/>
<path d="M205.09 529.64L207.55 532.1L205.09 534.56L202.63 532.1Z" fill="#136cc0" stroke="#1a1a1a" stroke-width="0.6"/>
<path d="M212.96 520.54L215.42 523L212.96 525.46L210.5 523Z" fill="#136cc0" stroke="#1a1a1a" stroke-width="0.6"/>
<path d="M220.83 518.64L223.29 521.1L220.83 523.56L218.37 521.1Z" fill="#136cc0" stroke="#1a1a1a" stroke-width="0.6"/>
<path d="M228.7 519.54L231.16 522L228.7 524.46L226.24 522Z" fill="#136cc0" stroke="#1a1a1a" stroke-width="0.6"/>
<path d="M236.57 519.54L239.03 522L236.57 524.46L234.11 522Z" fill="#136cc0" stroke="#1a1a1a" stroke-width="0.6"/>
<path d="M244.44 513.24L246.9 515.7L244.44 518.16L241.98 515.7Z" fill="#136cc0" stroke="#1a1a1a" stroke-width="0.6"/>
<path d="M252.31 523.24L254.77 525.7L252.31 528.16L249.85 525.7Z" fill="#136cc0" stroke="#1a1a1a" stroke-width="0.6"/>
<path d="M260.18 512.24L262.64 514.7L260.18 517.16L257.72 514.7Z" fill="#136cc0" stroke="#1a1a1a" stroke-width="0.6"/>
<path d="M268.05 521.44L270.51 523.9L268.05 526.36L265.59 523.9Z" fill="#136cc0" stroke="#1a1a1a" stroke-width="0.6"/>
<path d="M275.92 510.44L278.38 512.9L275.92 515.36L273.46 512.9Z" fill="#136cc0" stroke="#1a1a1a" stroke-width="0.6"/>
<path d="M283.79 499.54L286.25 502L283.79 504.46L281.33 502Z" fill="#136cc0" stroke="#1a1a1a" stroke-width="0.6"/>
<path d="M291.66 512.54L294.12 515L291.66 517.46L289.2 515Z" fill="#136cc0" stroke="#1a1a1a" stroke-width="0.6"/>
<path d="M299.53 503.84L301.99 506.3L299.53 508.76L297.07 506.3Z" fill="#136cc0" stroke="#1a1a1a" stroke-width="0.6"/>
<path d="M307.4 492.04L309.86 494.5L307.4 496.96L304.94 494.5Z" fill="#136cc0" stroke="#1a1a1a" stroke-width="0.6"/>
<path d="M315.27 498.14L317.73 500.6L315.27 503.06L312.81 500.6Z" fill="#136cc0" stroke="#1a1a1a" stroke-width="0.6"/>
<path d="M323.14 491.44L325.6 493.9L323.14 496.36L320.68 493.9Z" fill="#136cc0" stroke="#1a1a1a" stroke-width="0.6"/>
<path d="M331.01 491.44L333.47 493.9L331.01 496.36L328.55 493.9Z" fill="#136cc0" stroke="#1a1a1a" stroke-width="0.6"/>
<path d="M338.88 492.44L341.34 494.9L338.88 497.36L336.42 494.9Z" fill="#136cc0" stroke="#1a1a1a" stroke-width="0.6"/>
<path d="M346.75 497.24L349.21 499.7L346.75 502.16L344.29 499.7Z" fill="#136cc0" stroke="#1a1a1a" stroke-width="0.6"/>
<path d="M354.62 505.84L357.08 508.3L354.62 510.76L352.16 508.3Z" fill="#136cc0" stroke="#1a1a1a" stroke-width="0.6"/>
<path d="M362.49 507.74L364.95 510.2L362.49 512.66L360.03 510.2Z" fill="#136cc0" stroke="#1a1a1a" stroke-width="0.6"/>
<path d="M370.36 508.64L372.82 511.1L370.36 513.56L367.9 511.1Z" fill="#136cc0" stroke="#1a1a1a" stroke-width="0.6"/>
<path d="M378.23 496.24L380.69 498.7L378.23 501.16L375.77 498.7Z" fill="#136cc0" stroke="#1a1a1a" stroke-width="0.6"/>
<path d="M386.1 505.84L388.56 508.3L386.1 510.76L383.64 508.3Z" fill="#136cc0" stroke="#1a1a1a" stroke-width="0.6"/>
<path d="M393.97 517.24L396.43 519.7L393.97 522.16L391.51 519.7Z" fill="#136cc0" stroke="#1a1a1a" stroke-width="0.6"/>
<path d="M472.67 527.54L475.13 530L472.67 532.46L470.21 530Z" fill="#136cc0" stroke="#1a1a1a" stroke-width="0.6"/>
<path d="M401.84 527.54L404.3 530L401.84 532.46L399.38 530Z" fill="#f5a30a" stroke="#1a1a1a" stroke-width="0.6"/>
<path d="M71.3 539.44L73.76 541.9L71.3 544.36L68.84 541.9Z" fill="#f5a30a" stroke="#1a1a1a" stroke-width="0.6"/>
<path d="M79.17 539.44L81.63 541.9L79.17 544.36L76.71 541.9Z" fill="#f5a30a" stroke="#1a1a1a" stroke-width="0.6"/>
<path d="M87.04 539.14L89.5 541.6L87.04 544.06L84.58 541.6Z" fill="#f5a30a" stroke="#1a1a1a" stroke-width="0.6"/>
<path d="M94.91 538.14L97.37 540.6L94.91 543.06L92.45 540.6Z" fill="#f5a30a" stroke="#1a1a1a" stroke-width="0.6"/>
<path d="M102.78 547.84L105.24 550.3L102.78 552.76L100.32 550.3Z" fill="#f5a30a" stroke="#1a1a1a" stroke-width="0.6"/>
<path d="M110.65 529.84L113.11 532.3L110.65 534.76L108.19 532.3Z" fill="#f5a30a" stroke="#1a1a1a" stroke-width="0.6"/>
<path d="M118.52 551.74L120.98 554.2L118.52 556.66L116.06 554.2Z" fill="#f5a30a" stroke="#1a1a1a" stroke-width="0.6"/>
<path d="M126.39 530.54L128.85 533L126.39 535.46L123.93 533Z" fill="#f5a30a" stroke="#1a1a1a" stroke-width="0.6"/>
<path d="M134.26 528.24L136.72 530.7L134.26 533.16L131.8 530.7Z" fill="#f5a30a" stroke="#1a1a1a" stroke-width="0.6"/>
<path d="M142.13 532.94L144.59 535.4L142.13 537.86L139.67 535.4Z" fill="#f5a30a" stroke="#1a1a1a" stroke-width="0.6"/>
<path d="M205.09 532.34L207.55 534.8L205.09 537.26L202.63 534.8Z" fill="#f5a30a" stroke="#1a1a1a" stroke-width="0.6"/>
<path d="M212.96 520.54L215.42 523L212.96 525.46L210.5 523Z" fill="#f5a30a" stroke="#1a1a1a" stroke-width="0.6"/>
<path d="M220.83 519.54L223.29 522L220.83 524.46L218.37 522Z" fill="#f5a30a" stroke="#1a1a1a" stroke-width="0.6"/>
<path d="M228.7 520.54L231.16 523L228.7 525.46L226.24 523Z" fill="#f5a30a" stroke="#1a1a1a" stroke-width="0.6"/>
<path d="M236.57 519.54L239.03 522L236.57 524.46L234.11 522Z" fill="#f5a30a" stroke="#1a1a1a" stroke-width="0.6"/>
<path d="M244.44 513.24L246.9 515.7L244.44 518.16L241.98 515.7Z" fill="#f5a30a" stroke="#1a1a1a" stroke-width="0.6"/>
<path d="M252.31 523.54L254.77 526L252.31 528.46L249.85 526Z" fill="#f5a30a" stroke="#1a1a1a" stroke-width="0.6"/>
<path d="M260.18 505.84L262.64 508.3L260.18 510.76L257.72 508.3Z" fill="#f5a30a" stroke="#1a1a1a" stroke-width="0.6"/>
<path d="M268.05 520.54L270.51 523L268.05 525.46L265.59 523Z" fill="#f5a30a" stroke="#1a1a1a" stroke-width="0.6"/>
<path d="M275.92 509.54L278.38 512L275.92 514.46L273.46 512Z" fill="#f5a30a" stroke="#1a1a1a" stroke-width="0.6"/>
<path d="M283.79 496.74L286.25 499.2L283.79 501.66L281.33 499.2Z" fill="#f5a30a" stroke="#1a1a1a" stroke-width="0.6"/>
<path d="M291.66 519.24L294.12 521.7L291.66 524.16L289.2 521.7Z" fill="#f5a30a" stroke="#1a1a1a" stroke-width="0.6"/>
<path d="M299.53 509.54L301.99 512L299.53 514.46L297.07 512Z" fill="#f5a30a" stroke="#1a1a1a" stroke-width="0.6"/>
<path d="M307.4 502.54L309.86 505L307.4 507.46L304.94 505Z" fill="#f5a30a" stroke="#1a1a1a" stroke-width="0.6"/>
<path d="M315.27 508.54L317.73 511L315.27 513.46L312.81 511Z" fill="#f5a30a" stroke="#1a1a1a" stroke-width="0.6"/>
<path d="M323.14 502.54L325.6 505L323.14 507.46L320.68 505Z" fill="#f5a30a" stroke="#1a1a1a" stroke-width="0.6"/>
<path d="M331.01 502.54L333.47 505L331.01 507.46L328.55 505Z" fill="#f5a30a" stroke="#1a1a1a" stroke-width="0.6"/>
<path d="M338.88 504.54L341.34 507L338.88 509.46L336.42 507Z" fill="#f5a30a" stroke="#1a1a1a" stroke-width="0.6"/>
<path d="M346.75 507.54L349.21 510L346.75 512.46L344.29 510Z" fill="#f5a30a" stroke="#1a1a1a" stroke-width="0.6"/>
<path d="M354.62 513.54L357.08 516L354.62 518.46L352.16 516Z" fill="#f5a30a" stroke="#1a1a1a" stroke-width="0.6"/>
<path d="M362.49 514.54L364.95 517L362.49 519.46L360.03 517Z" fill="#f5a30a" stroke="#1a1a1a" stroke-width="0.6"/>
<path d="M370.36 517.54L372.82 520L370.36 522.46L367.9 520Z" fill="#f5a30a" stroke="#1a1a1a" stroke-width="0.6"/>
<path d="M378.23 510.54L380.69 513L378.23 515.46L375.77 513Z" fill="#f5a30a" stroke="#1a1a1a" stroke-width="0.6"/>
<path d="M386.1 519.54L388.56 522L386.1 524.46L383.64 522Z" fill="#f5a30a" stroke="#1a1a1a" stroke-width="0.6"/>
<path d="M393.97 528.54L396.43 531L393.97 533.46L391.51 531Z" fill="#f5a30a" stroke="#1a1a1a" stroke-width="0.6"/>
<path d="M472.67 531.34L475.13 533.8L472.67 536.26L470.21 533.8Z" fill="#f5a30a" stroke="#1a1a1a" stroke-width="0.6"/>
<path d="M480.54 554.64L483 557.1L480.54 559.56L478.08 557.1Z" fill="#f5a30a" stroke="#1a1a1a" stroke-width="0.6"/>
<rect x="400" y="524.75" width="3.69" height="3.69" fill="#f5a30a" stroke="#1a1a1a" stroke-width="0.6"/>
<rect x="69.45" y="535.15" width="3.69" height="3.69" fill="#f5a30a" stroke="#1a1a1a" stroke-width="0.6"/>
<rect x="77.33" y="537.75" width="3.69" height="3.69" fill="#f5a30a" stroke="#1a1a1a" stroke-width="0.6"/>
<rect x="85.19" y="533.15" width="3.69" height="3.69" fill="#f5a30a" stroke="#1a1a1a" stroke-width="0.6"/>
<rect x="93.06" y="531.55" width="3.69" height="3.69" fill="#f5a30a" stroke="#1a1a1a" stroke-width="0.6"/>
<rect x="100.94" y="543.15" width="3.69" height="3.69" fill="#f5a30a" stroke="#1a1a1a" stroke-width="0.6"/>
<rect x="108.81" y="522.55" width="3.69" height="3.69" fill="#f5a30a" stroke="#1a1a1a" stroke-width="0.6"/>
<rect x="116.67" y="546.15" width="3.69" height="3.69" fill="#f5a30a" stroke="#1a1a1a" stroke-width="0.6"/>
<rect x="124.55" y="528.15" width="3.69" height="3.69" fill="#f5a30a" stroke="#1a1a1a" stroke-width="0.6"/>
<rect x="132.41" y="521.86" width="3.69" height="3.69" fill="#f5a30a" stroke="#1a1a1a" stroke-width="0.6"/>
<rect x="140.28" y="529.65" width="3.69" height="3.69" fill="#f5a30a" stroke="#1a1a1a" stroke-width="0.6"/>
<rect x="203.24" y="525.65" width="3.69" height="3.69" fill="#f5a30a" stroke="#1a1a1a" stroke-width="0.6"/>
<rect x="211.11" y="517.45" width="3.69" height="3.69" fill="#f5a30a" stroke="#1a1a1a" stroke-width="0.6"/>
<rect x="218.98" y="517.45" width="3.69" height="3.69" fill="#f5a30a" stroke="#1a1a1a" stroke-width="0.6"/>
<rect x="226.85" y="517.45" width="3.69" height="3.69" fill="#f5a30a" stroke="#1a1a1a" stroke-width="0.6"/>
<rect x="234.72" y="512.86" width="3.69" height="3.69" fill="#f5a30a" stroke="#1a1a1a" stroke-width="0.6"/>
<rect x="242.59" y="513.86" width="3.69" height="3.69" fill="#f5a30a" stroke="#1a1a1a" stroke-width="0.6"/>
<rect x="250.47" y="519.25" width="3.69" height="3.69" fill="#f5a30a" stroke="#1a1a1a" stroke-width="0.6"/>
<rect x="258.33" y="506.45" width="3.69" height="3.69" fill="#f5a30a" stroke="#1a1a1a" stroke-width="0.6"/>
<rect x="266.2" y="519.25" width="3.69" height="3.69" fill="#f5a30a" stroke="#1a1a1a" stroke-width="0.6"/>
<rect x="274.07" y="508.35" width="3.69" height="3.69" fill="#f5a30a" stroke="#1a1a1a" stroke-width="0.6"/>
<rect x="281.94" y="496.45" width="3.69" height="3.69" fill="#f5a30a" stroke="#1a1a1a" stroke-width="0.6"/>
<rect x="289.81" y="518.86" width="3.69" height="3.69" fill="#f5a30a" stroke="#1a1a1a" stroke-width="0.6"/>
<rect x="297.68" y="507.35" width="3.69" height="3.69" fill="#f5a30a" stroke="#1a1a1a" stroke-width="0.6"/>
<rect x="305.55" y="496.85" width="3.69" height="3.69" fill="#f5a30a" stroke="#1a1a1a" stroke-width="0.6"/>
<rect x="313.42" y="507.35" width="3.69" height="3.69" fill="#f5a30a" stroke="#1a1a1a" stroke-width="0.6"/>
<rect x="321.29" y="502.15" width="3.69" height="3.69" fill="#f5a30a" stroke="#1a1a1a" stroke-width="0.6"/>
<rect x="329.16" y="502.95" width="3.69" height="3.69" fill="#f5a30a" stroke="#1a1a1a" stroke-width="0.6"/>
<rect x="337.03" y="504.45" width="3.69" height="3.69" fill="#f5a30a" stroke="#1a1a1a" stroke-width="0.6"/>
<rect x="344.9" y="506.45" width="3.69" height="3.69" fill="#f5a30a" stroke="#1a1a1a" stroke-width="0.6"/>
<rect x="352.77" y="514.05" width="3.69" height="3.69" fill="#f5a30a" stroke="#1a1a1a" stroke-width="0.6"/>
<rect x="360.64" y="514.05" width="3.69" height="3.69" fill="#f5a30a" stroke="#1a1a1a" stroke-width="0.6"/>
<rect x="368.51" y="515.95" width="3.69" height="3.69" fill="#f5a30a" stroke="#1a1a1a" stroke-width="0.6"/>
<rect x="376.38" y="509.25" width="3.69" height="3.69" fill="#f5a30a" stroke="#1a1a1a" stroke-width="0.6"/>
<rect x="384.25" y="517.86" width="3.69" height="3.69" fill="#f5a30a" stroke="#1a1a1a" stroke-width="0.6"/>
<rect x="392.12" y="527.45" width="3.69" height="3.69" fill="#f5a30a" stroke="#1a1a1a" stroke-width="0.6"/>
<rect x="470.82" y="529.95" width="3.69" height="3.69" fill="#f5a30a" stroke="#1a1a1a" stroke-width="0.6"/>
<rect x="478.69" y="550.45" width="3.69" height="3.69" fill="#f5a30a" stroke="#1a1a1a" stroke-width="0.6"/>
<circle cx="401.84" cy="518.2" r="2.05" fill="#f5a30a" stroke="#1a1a1a" stroke-width="0.6"/>
<circle cx="71.3" cy="536.5" r="2.05" fill="#f5a30a" stroke="#1a1a1a" stroke-width="0.6"/>
<circle cx="79.17" cy="538.5" r="2.05" fill="#f5a30a" stroke="#1a1a1a" stroke-width="0.6"/>
<circle cx="87.04" cy="533.4" r="2.05" fill="#f5a30a" stroke="#1a1a1a" stroke-width="0.6"/>
<circle cx="94.91" cy="530.8" r="2.05" fill="#f5a30a" stroke="#1a1a1a" stroke-width="0.6"/>
<circle cx="102.78" cy="544" r="2.05" fill="#f5a30a" stroke="#1a1a1a" stroke-width="0.6"/>
<circle cx="110.65" cy="521.3" r="2.05" fill="#f5a30a" stroke="#1a1a1a" stroke-width="0.6"/>
<circle cx="118.52" cy="544" r="2.05" fill="#f5a30a" stroke="#1a1a1a" stroke-width="0.6"/>
<circle cx="126.39" cy="526.8" r="2.05" fill="#f5a30a" stroke="#1a1a1a" stroke-width="0.6"/>
<circle cx="134.26" cy="520.5" r="2.05" fill="#f5a30a" stroke="#1a1a1a" stroke-width="0.6"/>
<circle cx="142.13" cy="526" r="2.05" fill="#f5a30a" stroke="#1a1a1a" stroke-width="0.6"/>
<circle cx="205.09" cy="520.8" r="2.05" fill="#f5a30a" stroke="#1a1a1a" stroke-width="0.6"/>
<circle cx="212.96" cy="510.5" r="2.05" fill="#f5a30a" stroke="#1a1a1a" stroke-width="0.6"/>
<circle cx="220.83" cy="508.7" r="2.05" fill="#f5a30a" stroke="#1a1a1a" stroke-width="0.6"/>
<circle cx="228.7" cy="508.3" r="2.05" fill="#f5a30a" stroke="#1a1a1a" stroke-width="0.6"/>
<circle cx="236.57" cy="510.2" r="2.05" fill="#f5a30a" stroke="#1a1a1a" stroke-width="0.6"/>
<circle cx="244.44" cy="502.9" r="2.05" fill="#f5a30a" stroke="#1a1a1a" stroke-width="0.6"/>
<circle cx="252.31" cy="516.2" r="2.05" fill="#f5a30a" stroke="#1a1a1a" stroke-width="0.6"/>
<circle cx="260.18" cy="505.6" r="2.05" fill="#f5a30a" stroke="#1a1a1a" stroke-width="0.6"/>
<circle cx="268.05" cy="518.4" r="2.05" fill="#f5a30a" stroke="#1a1a1a" stroke-width="0.6"/>
<circle cx="275.92" cy="507.4" r="2.05" fill="#f5a30a" stroke="#1a1a1a" stroke-width="0.6"/>
<circle cx="283.79" cy="497.8" r="2.05" fill="#f5a30a" stroke="#1a1a1a" stroke-width="0.6"/>
<circle cx="291.66" cy="516.9" r="2.05" fill="#f5a30a" stroke="#1a1a1a" stroke-width="0.6"/>
<circle cx="299.53" cy="508.3" r="2.05" fill="#f5a30a" stroke="#1a1a1a" stroke-width="0.6"/>
<circle cx="307.4" cy="498.7" r="2.05" fill="#f5a30a" stroke="#1a1a1a" stroke-width="0.6"/>
<circle cx="315.27" cy="508.3" r="2.05" fill="#f5a30a" stroke="#1a1a1a" stroke-width="0.6"/>
<circle cx="323.14" cy="498.7" r="2.05" fill="#f5a30a" stroke="#1a1a1a" stroke-width="0.6"/>
<circle cx="331.01" cy="498.7" r="2.05" fill="#f5a30a" stroke="#1a1a1a" stroke-width="0.6"/>
<circle cx="338.88" cy="499.7" r="2.05" fill="#f5a30a" stroke="#1a1a1a" stroke-width="0.6"/>
<circle cx="346.75" cy="501.6" r="2.05" fill="#f5a30a" stroke="#1a1a1a" stroke-width="0.6"/>
<circle cx="354.62" cy="509.2" r="2.05" fill="#f5a30a" stroke="#1a1a1a" stroke-width="0.6"/>
<circle cx="362.49" cy="511.1" r="2.05" fill="#f5a30a" stroke="#1a1a1a" stroke-width="0.6"/>
<circle cx="370.36" cy="514" r="2.05" fill="#f5a30a" stroke="#1a1a1a" stroke-width="0.6"/>
<circle cx="378.23" cy="506.3" r="2.05" fill="#f5a30a" stroke="#1a1a1a" stroke-width="0.6"/>
<circle cx="386.1" cy="514.9" r="2.05" fill="#f5a30a" stroke="#1a1a1a" stroke-width="0.6"/>
<circle cx="393.97" cy="524.5" r="2.05" fill="#f5a30a" stroke="#1a1a1a" stroke-width="0.6"/>
<circle cx="472.67" cy="529" r="2.05" fill="#f5a30a" stroke="#1a1a1a" stroke-width="0.6"/>
<circle cx="480.54" cy="548.9" r="2.05" fill="#f5a30a" stroke="#1a1a1a" stroke-width="0.6"/>
<rect x="400" y="519.55" width="3.69" height="3.69" fill="#136cc0" stroke="#1a1a1a" stroke-width="0.6"/>
<rect x="69.45" y="531.05" width="3.69" height="3.69" fill="#136cc0" stroke="#1a1a1a" stroke-width="0.6"/>
<rect x="77.33" y="530.05" width="3.69" height="3.69" fill="#136cc0" stroke="#1a1a1a" stroke-width="0.6"/>
<rect x="85.19" y="524.36" width="3.69" height="3.69" fill="#136cc0" stroke="#1a1a1a" stroke-width="0.6"/>
<rect x="93.06" y="525.36" width="3.69" height="3.69" fill="#136cc0" stroke="#1a1a1a" stroke-width="0.6"/>
<rect x="100.94" y="536.65" width="3.69" height="3.69" fill="#136cc0" stroke="#1a1a1a" stroke-width="0.6"/>
<rect x="108.81" y="512.45" width="3.69" height="3.69" fill="#136cc0" stroke="#1a1a1a" stroke-width="0.6"/>
<rect x="116.67" y="535.65" width="3.69" height="3.69" fill="#136cc0" stroke="#1a1a1a" stroke-width="0.6"/>
<rect x="124.55" y="516.36" width="3.69" height="3.69" fill="#136cc0" stroke="#1a1a1a" stroke-width="0.6"/>
<rect x="132.41" y="513.15" width="3.69" height="3.69" fill="#136cc0" stroke="#1a1a1a" stroke-width="0.6"/>
<rect x="140.28" y="535.86" width="3.69" height="3.69" fill="#136cc0" stroke="#1a1a1a" stroke-width="0.6"/>
<rect x="203.24" y="512.15" width="3.69" height="3.69" fill="#136cc0" stroke="#1a1a1a" stroke-width="0.6"/>
<rect x="211.11" y="502.85" width="3.69" height="3.69" fill="#136cc0" stroke="#1a1a1a" stroke-width="0.6"/>
<rect x="218.98" y="503.75" width="3.69" height="3.69" fill="#136cc0" stroke="#1a1a1a" stroke-width="0.6"/>
<rect x="226.85" y="506.45" width="3.69" height="3.69" fill="#136cc0" stroke="#1a1a1a" stroke-width="0.6"/>
<rect x="234.72" y="503.75" width="3.69" height="3.69" fill="#136cc0" stroke="#1a1a1a" stroke-width="0.6"/>
<rect x="242.59" y="495.15" width="3.69" height="3.69" fill="#136cc0" stroke="#1a1a1a" stroke-width="0.6"/>
<rect x="250.47" y="510.15" width="3.69" height="3.69" fill="#136cc0" stroke="#1a1a1a" stroke-width="0.6"/>
<rect x="258.33" y="500.15" width="3.69" height="3.69" fill="#136cc0" stroke="#1a1a1a" stroke-width="0.6"/>
<rect x="266.2" y="511.65" width="3.69" height="3.69" fill="#136cc0" stroke="#1a1a1a" stroke-width="0.6"/>
<rect x="274.07" y="501.35" width="3.69" height="3.69" fill="#136cc0" stroke="#1a1a1a" stroke-width="0.6"/>
<rect x="281.94" y="491.85" width="3.69" height="3.69" fill="#136cc0" stroke="#1a1a1a" stroke-width="0.6"/>
<rect x="289.81" y="510.15" width="3.69" height="3.69" fill="#136cc0" stroke="#1a1a1a" stroke-width="0.6"/>
<rect x="297.68" y="502.55" width="3.69" height="3.69" fill="#136cc0" stroke="#1a1a1a" stroke-width="0.6"/>
<rect x="305.55" y="488.25" width="3.69" height="3.69" fill="#136cc0" stroke="#1a1a1a" stroke-width="0.6"/>
<rect x="313.42" y="496.85" width="3.69" height="3.69" fill="#136cc0" stroke="#1a1a1a" stroke-width="0.6"/>
<rect x="321.29" y="487.25" width="3.69" height="3.69" fill="#136cc0" stroke="#1a1a1a" stroke-width="0.6"/>
<rect x="329.16" y="487.25" width="3.69" height="3.69" fill="#136cc0" stroke="#1a1a1a" stroke-width="0.6"/>
<rect x="337.03" y="488.85" width="3.69" height="3.69" fill="#136cc0" stroke="#1a1a1a" stroke-width="0.6"/>
<rect x="344.9" y="491.15" width="3.69" height="3.69" fill="#136cc0" stroke="#1a1a1a" stroke-width="0.6"/>
<rect x="352.77" y="500.65" width="3.69" height="3.69" fill="#136cc0" stroke="#1a1a1a" stroke-width="0.6"/>
<rect x="360.64" y="503.55" width="3.69" height="3.69" fill="#136cc0" stroke="#1a1a1a" stroke-width="0.6"/>
<rect x="368.51" y="503.55" width="3.69" height="3.69" fill="#136cc0" stroke="#1a1a1a" stroke-width="0.6"/>
<rect x="376.38" y="489.15" width="3.69" height="3.69" fill="#136cc0" stroke="#1a1a1a" stroke-width="0.6"/>
<rect x="384.25" y="501.65" width="3.69" height="3.69" fill="#136cc0" stroke="#1a1a1a" stroke-width="0.6"/>
<rect x="392.12" y="513.15" width="3.69" height="3.69" fill="#136cc0" stroke="#1a1a1a" stroke-width="0.6"/>
<circle cx="401.84" cy="512.4" r="2.05" fill="#136cc0" stroke="#1a1a1a" stroke-width="0.6"/>
<circle cx="71.3" cy="529.8" r="2.05" fill="#136cc0" stroke="#1a1a1a" stroke-width="0.6"/>
<circle cx="79.17" cy="530.3" r="2.05" fill="#136cc0" stroke="#1a1a1a" stroke-width="0.6"/>
<circle cx="87.04" cy="523.6" r="2.05" fill="#136cc0" stroke="#1a1a1a" stroke-width="0.6"/>
<circle cx="94.91" cy="523.6" r="2.05" fill="#136cc0" stroke="#1a1a1a" stroke-width="0.6"/>
<circle cx="102.78" cy="536" r="2.05" fill="#136cc0" stroke="#1a1a1a" stroke-width="0.6"/>
<circle cx="110.65" cy="509.6" r="2.05" fill="#136cc0" stroke="#1a1a1a" stroke-width="0.6"/>
<circle cx="118.52" cy="535.5" r="2.05" fill="#136cc0" stroke="#1a1a1a" stroke-width="0.6"/>
<circle cx="126.39" cy="511.9" r="2.05" fill="#136cc0" stroke="#1a1a1a" stroke-width="0.6"/>
<circle cx="134.26" cy="510.3" r="2.05" fill="#136cc0" stroke="#1a1a1a" stroke-width="0.6"/>
<circle cx="142.13" cy="516.6" r="2.05" fill="#136cc0" stroke="#1a1a1a" stroke-width="0.6"/>
<circle cx="205.09" cy="513.8" r="2.05" fill="#136cc0" stroke="#1a1a1a" stroke-width="0.6"/>
<circle cx="212.96" cy="504.3" r="2.05" fill="#136cc0" stroke="#1a1a1a" stroke-width="0.6"/>
<circle cx="220.83" cy="504.7" r="2.05" fill="#136cc0" stroke="#1a1a1a" stroke-width="0.6"/>
<circle cx="228.7" cy="504.3" r="2.05" fill="#136cc0" stroke="#1a1a1a" stroke-width="0.6"/>
<circle cx="236.57" cy="503.4" r="2.05" fill="#136cc0" stroke="#1a1a1a" stroke-width="0.6"/>
<circle cx="244.44" cy="497" r="2.05" fill="#136cc0" stroke="#1a1a1a" stroke-width="0.6"/>
<circle cx="252.31" cy="507.4" r="2.05" fill="#136cc0" stroke="#1a1a1a" stroke-width="0.6"/>
<circle cx="260.18" cy="498.9" r="2.05" fill="#136cc0" stroke="#1a1a1a" stroke-width="0.6"/>
<circle cx="268.05" cy="509.3" r="2.05" fill="#136cc0" stroke="#1a1a1a" stroke-width="0.6"/>
<circle cx="275.92" cy="500.1" r="2.05" fill="#136cc0" stroke="#1a1a1a" stroke-width="0.6"/>
<circle cx="283.79" cy="492.8" r="2.05" fill="#136cc0" stroke="#1a1a1a" stroke-width="0.6"/>
<circle cx="291.66" cy="510.7" r="2.05" fill="#136cc0" stroke="#1a1a1a" stroke-width="0.6"/>
<circle cx="299.53" cy="502.7" r="2.05" fill="#136cc0" stroke="#1a1a1a" stroke-width="0.6"/>
<circle cx="307.4" cy="489.1" r="2.05" fill="#136cc0" stroke="#1a1a1a" stroke-width="0.6"/>
<circle cx="315.27" cy="493.9" r="2.05" fill="#136cc0" stroke="#1a1a1a" stroke-width="0.6"/>
<circle cx="323.14" cy="487.2" r="2.05" fill="#136cc0" stroke="#1a1a1a" stroke-width="0.6"/>
<circle cx="331.01" cy="483" r="2.05" fill="#136cc0" stroke="#1a1a1a" stroke-width="0.6"/>
<circle cx="338.88" cy="487.2" r="2.05" fill="#136cc0" stroke="#1a1a1a" stroke-width="0.6"/>
<circle cx="346.75" cy="488.7" r="2.05" fill="#136cc0" stroke="#1a1a1a" stroke-width="0.6"/>
<circle cx="354.62" cy="500.6" r="2.05" fill="#136cc0" stroke="#1a1a1a" stroke-width="0.6"/>
<circle cx="362.49" cy="502.9" r="2.05" fill="#136cc0" stroke="#1a1a1a" stroke-width="0.6"/>
<circle cx="370.36" cy="500.6" r="2.05" fill="#136cc0" stroke="#1a1a1a" stroke-width="0.6"/>
<circle cx="378.23" cy="485.3" r="2.05" fill="#136cc0" stroke="#1a1a1a" stroke-width="0.6"/>
<circle cx="386.1" cy="500.6" r="2.05" fill="#136cc0" stroke="#1a1a1a" stroke-width="0.6"/>
<circle cx="393.97" cy="512.1" r="2.05" fill="#136cc0" stroke="#1a1a1a" stroke-width="0.6"/>
<circle cx="472.67" cy="522.9" r="2.05" fill="#136cc0" stroke="#1a1a1a" stroke-width="0.6"/>
<path d="M60.2 568.7V470.5H492.3" fill="none" stroke="#9a9a9a" stroke-width="1.6"/>
<path d="M59.4 568.7H492.3V469.7" fill="none" stroke="#5f5f5f" stroke-width="1.1"/>
<text transform="translate(29.9,518) rotate(-90)" text-anchor="middle" font-size="10.0" fill="#000" stroke="#000" stroke-width="0.25">Sap flux (% of max)</text>
<line x1="507.2" y1="482.4" x2="518.8" y2="482.4" stroke="#2a97e0" stroke-width="1"/>
<circle cx="513" cy="482.4" r="1.9" fill="#136cc0" stroke="#1a1a1a" stroke-width="0.6"/>
<text x="525.3" y="486.4" font-size="9.7" fill="#000" class="lg">Downslope</text>
<line x1="507.2" y1="496.6" x2="518.8" y2="496.6" stroke="#f1b12a" stroke-width="1"/>
<circle cx="513" cy="496.6" r="1.9" fill="#f5a30a" stroke="#1a1a1a" stroke-width="0.6"/>
<text x="525.3" y="500.6" font-size="9.7" fill="#000" class="lg">Upslope</text>
<circle cx="512.9" cy="533.4" r="1.9" fill="#fff" stroke="#444" stroke-width="0.8"/>
<text x="525.3" y="537.7" font-size="9.7" fill="#000" class="lg">Large</text>
<rect x="511.19" y="545.99" width="3.42" height="3.42" fill="#fff" stroke="#444" stroke-width="0.8"/>
<text x="525.3" y="552" font-size="9.7" fill="#000" class="lg">Medium</text>
<path d="M512.9 559.72L515.18 562L512.9 564.28L510.62 562Z" fill="#fff" stroke="#444" stroke-width="0.8"/>
<text x="525.3" y="566.3" font-size="9.7" fill="#000" class="lg">Small</text>
</svg>
</body></html>
